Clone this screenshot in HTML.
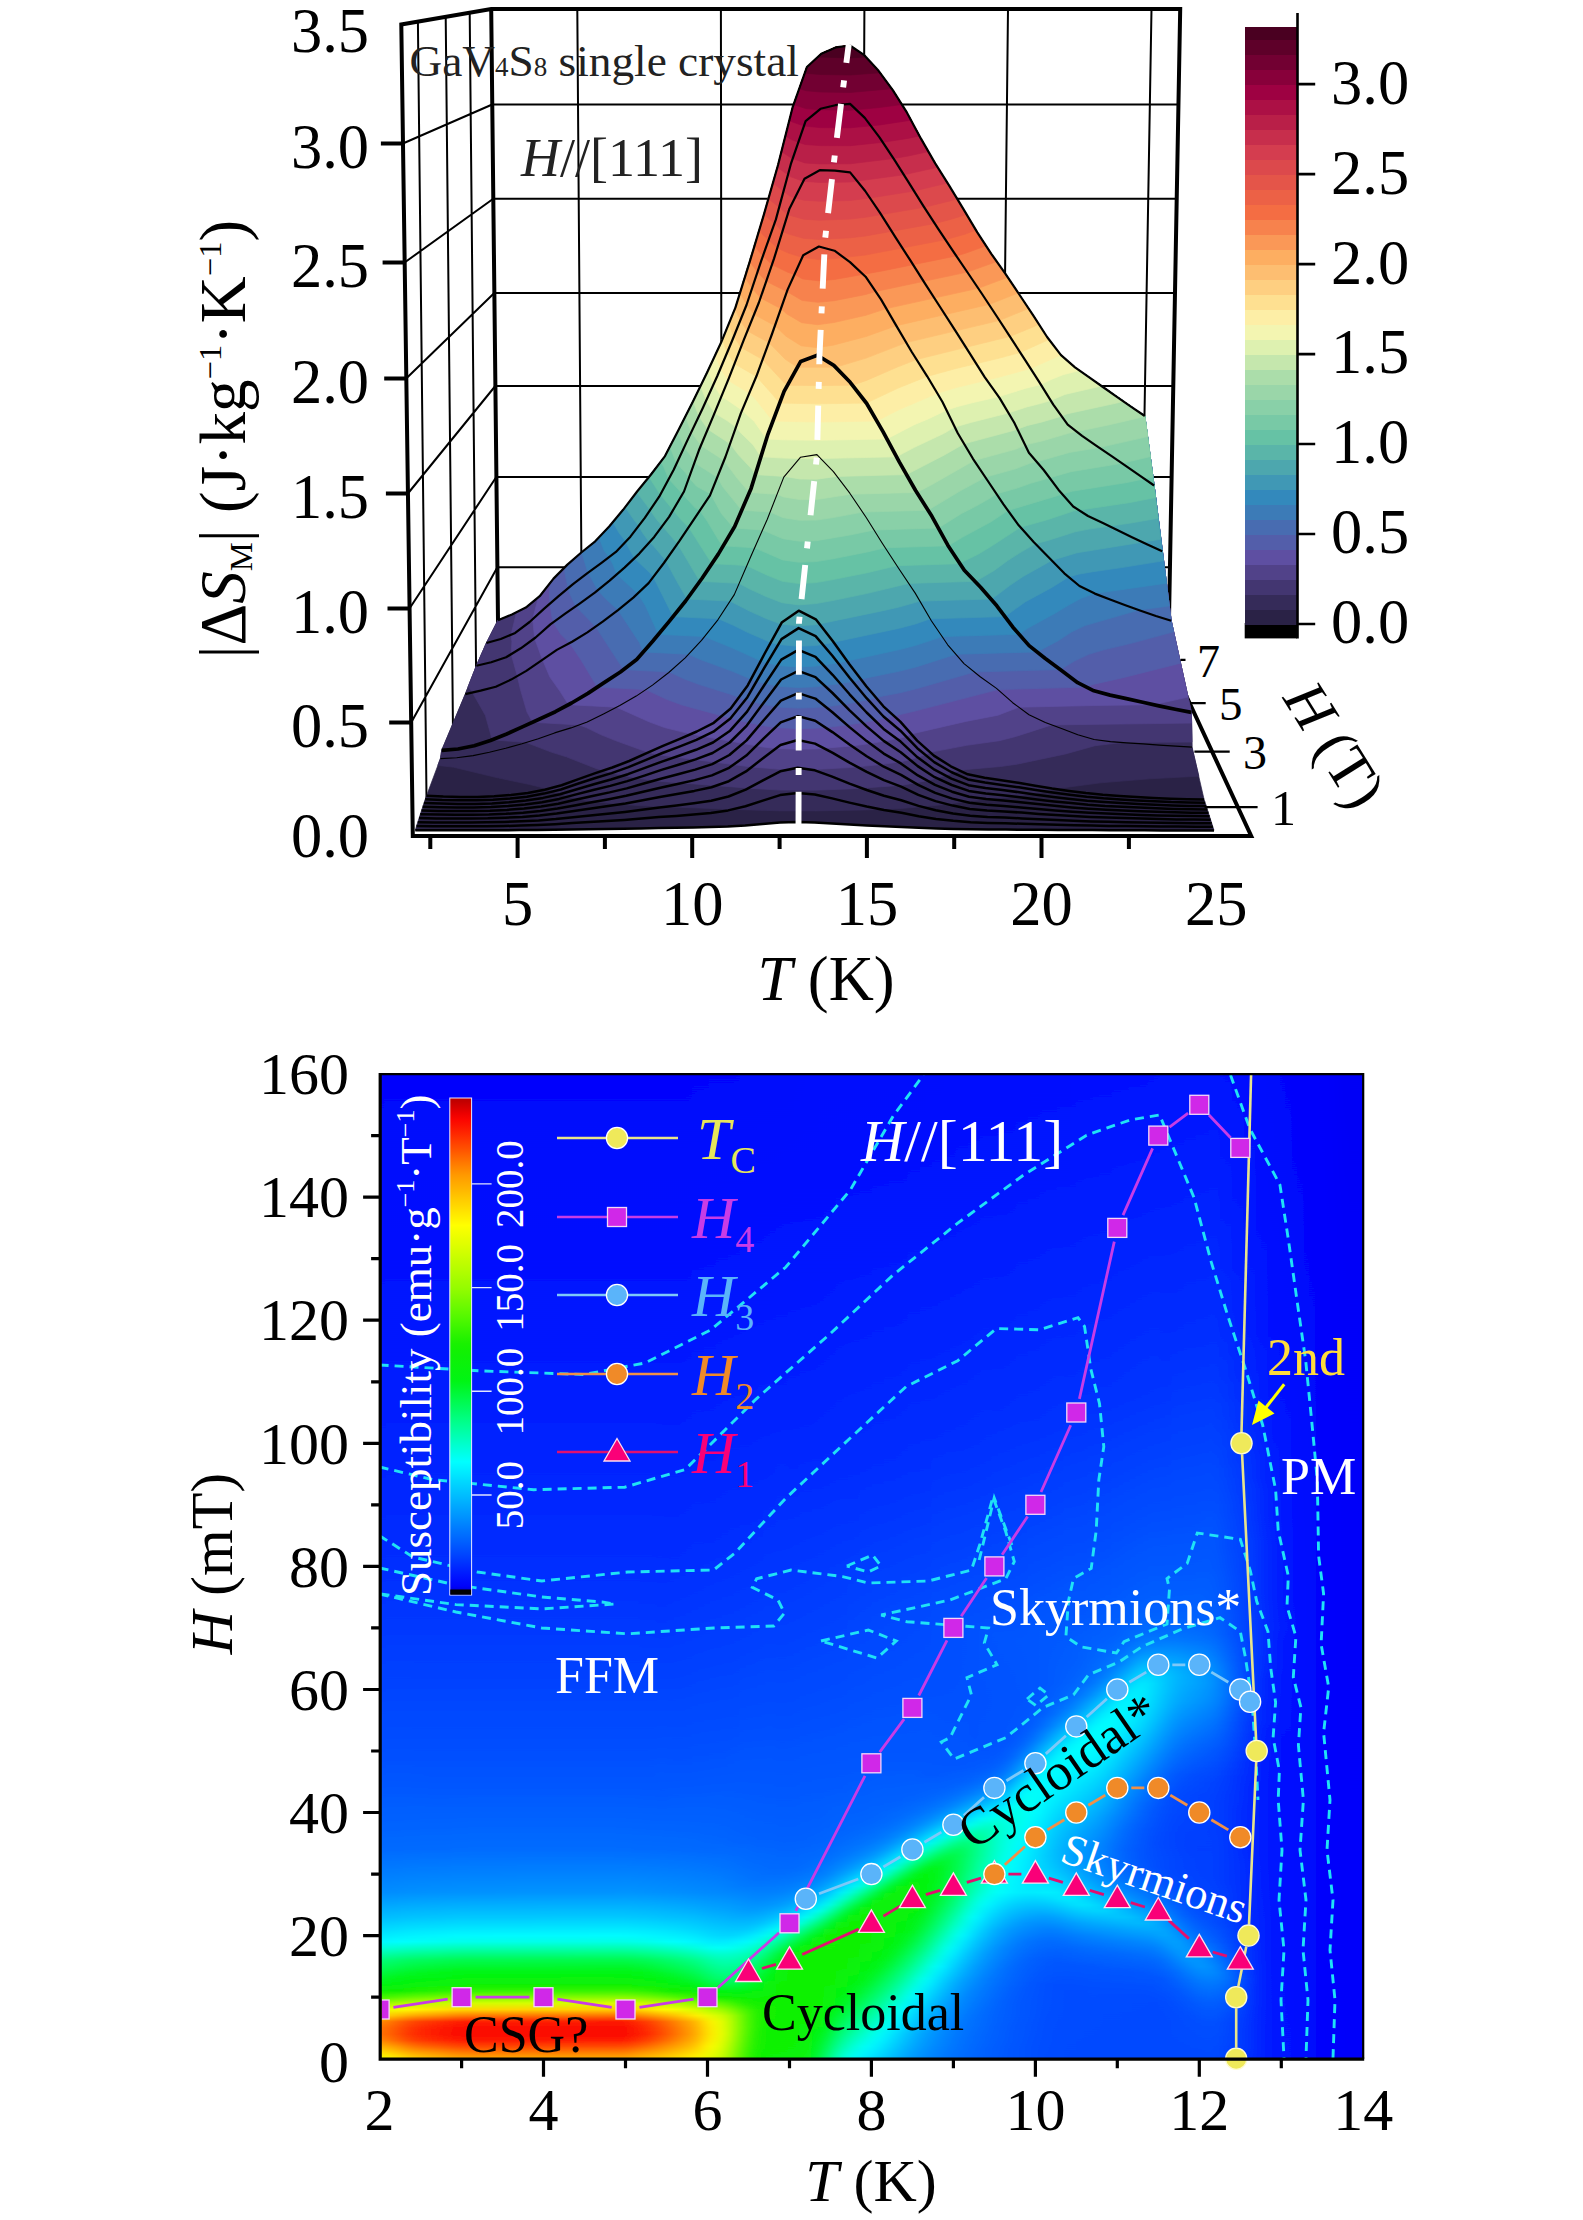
<!DOCTYPE html>
<html><head><meta charset="utf-8"><title>Figure</title>
<style>html,body{margin:0;padding:0;background:#fff}svg{display:block}text{font-family:"Liberation Serif","Times New Roman",serif}</style></head><body>
<svg width="1583" height="2220" viewBox="0 0 1583 2220">
<rect width="1583" height="2220" fill="#fff"/>
<defs><clipPath id="hc2"><rect x="381.5" y="1060" width="1000" height="1012"/></clipPath></defs>
<g id="top">
<path d="M577.3 9L582.1 657M720.9 9L721.7 657M864.4 9L861.2 657M1008.0 9L1000.8 657M1151.5 9L1140.3 657M497.4 567.3L1170.0 567.3M411.2 722.5L497.4 567.3M496.3 477.0L1171.7 477.0M409.5 608.5L496.3 477.0M495.3 386.0L1173.4 386.0M407.9 493.5L495.3 386.0M494.3 293.0L1175.1 293.0M406.2 378.5L494.3 293.0M493.3 198.7L1176.8 198.7M404.6 262.5L493.3 198.7M492.2 104.5L1178.5 104.5M402.9 143.5L492.2 104.5M417.9 21.6L426.6 807.2M445.7 16.8L453.2 751.6M469.7 12.7L476.4 703.1" fill="none" stroke="#000" stroke-width="2"/>
<path d="M412.8 836.0L401.3 24.5L491.2 9.0L1180.2 9.0L1168.3 657.0 M491.2 9.0L498.4 657.0 M410.8 836.0L1251.2 836.0L1168.3 657.0" fill="none" stroke="#000" stroke-width="4" stroke-linejoin="miter"/>
<g stroke-width="0.7" stroke-linejoin="round" fill-rule="evenodd">
<path d="M415.3 830.3L536.8 830.0L693.1 827.4L727.8 826.4L779.9 822.6L797.3 822.1L814.7 822.5L918.8 827.8L970.9 829.3L1214.0 830.3L1204.1 799.5L1192.0 747.1L1191.4 712.4L1171.2 620.7L1154.1 485.5L1144.8 416.0L1075.0 367.3L1061.0 355.1L1047.1 337.0L1033.2 315.3L1005.3 273.6L991.3 253.8L977.3 232.4L949.2 185.7L935.2 163.4L921.1 138.9L907.0 112.7L892.8 90.1L878.6 70.8L864.3 55.2L850.0 45.5L835.7 47.4L821.3 53.7L806.9 67.0L792.5 107.7L778.1 164.8L763.8 214.9L735.4 307.7L721.2 342.3L707.1 372.4L693.1 401.2L665.0 456.1L623.1 509.8L609.2 526.5L595.2 541.3L567.4 564.6L553.5 578.6L539.7 596.2L525.8 607.6L511.9 614.5L498.0 620.2L486.4 643.0L476.4 665.7L465.3 694.1L441.7 750.3L440.4 758.6L425.2 799.3L416.5 826.1Z" fill="#2a2246" stroke="#2a2246"/>
<path d="M732.5 809.4L780.0 810.9L814.7 810.9L866.7 809.9L901.3 808.5L947.6 804.3L969.4 800.9L1019.8 796.0L1045.4 791.5L1054.7 788.9L1100.9 782.8L1149.8 778.8L1198.8 776.2L1192.0 747.1L1191.4 712.4L1171.2 620.7L1154.1 485.5L1144.8 416.0L1075.0 367.3L1061.0 355.1L1047.1 337.0L1033.2 315.3L1005.3 273.6L991.3 253.8L977.3 232.4L949.2 185.7L935.2 163.4L921.1 138.9L907.0 112.7L892.8 90.1L878.6 70.8L864.3 55.2L850.0 45.5L835.7 47.4L821.3 53.7L806.9 67.0L792.5 107.7L778.1 164.8L763.8 214.9L735.4 307.7L721.2 342.3L707.1 372.4L693.1 401.2L665.0 456.1L623.1 509.8L609.2 526.5L595.2 541.3L567.4 564.6L553.5 578.6L539.7 596.2L525.8 607.6L511.9 614.5L498.0 620.2L486.4 643.0L476.4 665.7L465.3 694.1L441.7 750.3L440.4 758.6L437.8 765.4L453.5 767.2L498.4 778.0L529.5 784.5L547.5 788.9L552.6 791.5L567.8 796.6L578.4 799.2L591.9 801.4L619.8 804.3L642.3 805.8L728.2 809.2Z" fill="#352b59" stroke="#352b59"/>
<path d="M748.6 788.2L780.2 790.1L814.8 790.2L849.4 788.9L901.1 785.4L927.3 780.7L945.8 775.6L959.9 770.6L967.5 769.4L1000.7 766.5L1017.1 764.2L1064.6 754.2L1095.1 745.7L1121.9 742.5L1192.0 742.1L1191.4 712.4L1171.2 620.7L1154.1 485.5L1144.8 416.0L1075.0 367.3L1061.0 355.1L1047.1 337.0L1033.2 315.3L1005.3 273.6L991.3 253.8L977.3 232.4L949.2 185.7L935.2 163.4L921.1 138.9L907.0 112.7L892.8 90.1L878.6 70.8L864.3 55.2L850.0 45.5L835.7 47.4L821.3 53.7L806.9 67.0L792.5 107.7L778.1 164.8L763.8 214.9L735.4 307.7L721.2 342.3L707.1 372.4L693.1 401.2L665.0 456.1L623.1 509.8L609.2 526.5L595.2 541.3L567.4 564.6L553.5 578.6L539.7 596.2L525.8 607.6L511.9 614.5L498.0 620.2L486.4 643.0L476.4 665.7L468.2 686.6L472.4 692.5L485.4 715.4L492.2 739.8L526.3 742.5L551.2 752.1L566.2 756.8L596.0 768.5L611.3 773.1L636.4 778.1L660.8 781.4L745.8 787.9Z" fill="#433671" stroke="#433671"/>
<path d="M789.3 769.5L814.9 769.4L849.5 767.6L880.4 764.6L900.8 761.8L909.9 759.7L925.3 754.8L930.3 752.4L933.9 751.6L966.7 745.3L999.4 740.7L1015.1 736.7L1051.8 724.9L1191.6 723.1L1191.4 712.4L1171.2 620.7L1154.1 485.5L1144.8 416.0L1075.0 367.3L1061.0 355.1L1047.1 337.0L1033.2 315.3L1005.3 273.6L991.3 253.8L977.3 232.4L949.2 185.7L935.2 163.4L921.1 138.9L907.0 112.7L892.8 90.1L878.6 70.8L864.3 55.2L850.0 45.5L835.7 47.4L821.3 53.7L806.9 67.0L792.5 107.7L778.1 164.8L763.8 214.9L735.4 307.7L721.2 342.3L707.1 372.4L693.1 401.2L665.0 456.1L623.1 509.8L609.2 526.5L595.2 541.3L567.4 564.6L553.5 578.6L539.7 596.2L525.8 607.6L516.6 612.1L511.1 634.6L511.9 641.8L511.2 654.2L517.3 676.0L520.5 689.8L527.0 712.1L532.6 722.3L579.3 724.9L586.3 727.6L600.6 734.6L615.5 740.6L646.2 751.7L658.2 754.8L751.6 767.0L780.3 769.3Z" fill="#514289" stroke="#514289"/>
<path d="M776.0 748.4L797.7 749.2L815.0 748.9L849.5 746.2L870.1 743.6L900.5 738.1L906.0 736.5L911.3 734.1L917.0 732.7L965.9 721.4L998.0 715.2L1018.8 707.2L1093.9 705.5L1153.6 704.7L1188.0 697.1L1171.2 620.7L1154.1 485.5L1144.8 416.0L1075.0 367.3L1061.0 355.1L1047.1 337.0L1033.2 315.3L1005.3 273.6L991.3 253.8L977.3 232.4L949.2 185.7L935.2 163.4L921.1 138.9L907.0 112.7L892.8 90.1L878.6 70.8L864.3 55.2L850.0 45.5L835.7 47.4L821.3 53.7L806.9 67.0L792.5 107.7L778.1 164.8L763.8 214.9L735.4 307.7L721.2 342.3L707.1 372.4L693.1 401.2L665.0 456.1L623.1 509.8L609.2 526.5L595.2 541.3L567.4 564.6L553.5 578.6L538.4 597.2L532.7 619.1L534.6 638.2L542.0 658.5L549.9 677.1L560.2 691.6L568.5 704.7L616.5 707.2L649.0 721.8L664.4 727.5L690.9 734.1L763.4 747.1Z" fill="#5e4fa2" stroke="#5e4fa2"/>
<path d="M775.4 727.4L797.9 728.7L815.1 728.2L832.4 726.8L862.8 722.8L885.5 718.1L916.7 710.6L997.9 689.6L1086.5 687.1L1093.0 684.4L1122.9 677.7L1180.4 663.2L1171.2 620.7L1154.1 485.5L1144.8 416.0L1075.0 367.3L1061.0 355.1L1047.1 337.0L1033.2 315.3L1005.3 273.6L991.3 253.8L977.3 232.4L949.2 185.7L935.2 163.4L921.1 138.9L907.0 112.7L892.8 90.1L878.6 70.8L864.3 55.2L850.0 45.5L835.7 47.4L821.3 53.7L806.9 67.0L792.5 107.7L778.1 164.8L763.8 214.9L735.4 307.7L721.2 342.3L707.1 372.4L693.1 401.2L665.0 456.1L623.1 509.8L609.2 526.5L595.2 541.3L567.4 564.6L553.5 578.6L550.6 582.2L549.3 591.6L549.9 603.7L552.1 618.1L553.3 622.3L560.5 634.0L569.6 643.1L571.2 645.4L581.2 660.3L597.3 687.1L645.9 689.6L666.6 699.3L682.1 705.0L739.2 720.5L763.7 725.8Z" fill="#535eaa" stroke="#535eaa"/>
<path d="M775.7 706.6L780.9 707.3L798.0 708.1L815.2 707.5L832.5 705.9L849.6 703.4L868.0 699.8L883.4 695.9L900.0 692.8L916.5 688.7L974.3 672.0L1060.4 669.6L1074.9 660.8L1088.8 654.3L1103.1 650.0L1132.0 643.1L1173.7 631.8L1171.2 620.7L1154.1 485.5L1144.8 416.0L1075.0 367.3L1061.0 355.1L1047.1 337.0L1033.2 315.3L1005.3 273.6L991.3 253.8L977.3 232.4L949.2 185.7L935.2 163.4L921.1 138.9L907.0 112.7L892.8 90.1L878.6 70.8L864.3 55.2L850.0 45.5L835.7 47.4L821.3 53.7L806.9 67.0L792.5 107.7L778.1 164.8L763.8 214.9L735.4 307.7L721.2 342.3L707.1 372.4L693.1 401.2L665.0 456.1L623.1 509.8L609.2 526.5L595.2 541.3L581.3 552.5L564.7 567.3L564.9 573.0L568.1 588.2L570.1 594.5L575.8 606.3L595.6 626.6L623.5 669.6L669.4 672.0L683.8 678.7L699.2 684.5L731.1 694.4L745.3 699.8L763.9 704.6Z" fill="#486cb1" stroke="#486cb1"/>
<path d="M776.4 685.8L781.0 686.5L798.2 687.5L815.4 686.8L840.2 683.6L852.6 681.4L866.5 677.9L899.8 671.1L916.2 666.9L955.9 654.3L1037.0 651.9L1058.2 640.7L1071.3 632.1L1084.9 625.6L1138.6 610.1L1169.3 605.9L1154.1 485.5L1144.8 416.0L1075.0 367.3L1061.0 355.1L1047.1 337.0L1033.2 315.3L1005.3 273.6L991.3 253.8L977.3 232.4L949.2 185.7L935.2 163.4L921.1 138.9L907.0 112.7L892.8 90.1L878.6 70.8L864.3 55.2L850.0 45.5L835.7 47.4L821.3 53.7L806.9 67.0L792.5 107.7L778.1 164.8L763.8 214.9L735.4 307.7L721.2 342.3L707.1 372.4L693.1 401.2L665.0 456.1L623.1 509.8L609.2 526.5L595.2 541.3L581.7 552.2L587.5 571.4L597.8 590.3L606.4 599.4L618.0 610.1L639.4 642.5L643.3 651.9L688.5 654.3L700.5 659.6L731.9 671.1L756.5 681.4L765.3 683.6Z" fill="#3c7bb7" stroke="#3c7bb7"/>
<path d="M777.6 665.1L781.2 665.8L798.3 666.9L815.5 666.1L838.0 663.0L899.7 649.5L915.9 645.3L942.1 636.6L1019.1 634.3L1027.6 628.3L1055.1 613.2L1068.2 605.3L1081.2 598.2L1094.5 593.5L1166.4 583.2L1154.1 485.5L1144.8 416.0L1075.0 367.3L1061.0 355.1L1047.1 337.0L1033.2 315.3L1005.3 273.6L991.3 253.8L977.3 232.4L949.2 185.7L935.2 163.4L921.1 138.9L907.0 112.7L892.8 90.1L878.6 70.8L864.3 55.2L850.0 45.5L835.7 47.4L821.3 53.7L806.9 67.0L792.5 107.7L778.1 164.8L763.8 214.9L749.6 262.2L735.4 307.7L721.2 342.3L693.1 401.2L665.0 456.1L623.1 509.8L609.2 526.5L599.1 537.2L604.0 550.4L609.1 557.0L613.1 564.8L616.9 574.2L637.7 593.5L645.2 605.2L658.5 634.3L704.6 636.6L732.6 648.1L760.7 660.8L767.2 663.0Z" fill="#3389bc" stroke="#3389bc"/>
<path d="M778.3 644.5L798.5 646.3L815.6 645.5L822.9 644.5L899.5 628.2L915.6 623.9L930.2 618.8L1004.9 616.6L1025.2 601.9L1052.3 587.2L1068.6 576.9L1078.6 574.2L1092.9 571.7L1121.6 567.6L1163.4 560.8L1154.1 485.5L1144.8 416.0L1075.0 367.3L1061.0 355.1L1047.1 337.0L1033.2 315.3L1005.3 273.6L991.3 253.8L977.3 232.4L949.2 185.7L935.2 163.4L921.1 138.9L907.0 112.7L892.8 90.1L878.6 70.8L864.3 55.2L850.0 45.5L835.7 47.4L821.3 53.7L806.9 67.0L792.5 107.7L778.1 164.8L763.8 214.9L749.6 262.2L735.4 307.7L721.2 342.3L693.1 401.2L665.0 456.1L623.1 509.8L612.8 522.1L619.1 533.0L625.8 541.4L628.3 547.2L634.4 558.2L649.8 572.8L653.3 576.9L673.1 616.6L718.5 618.8L733.3 625.3L748.9 633.0L770.7 642.4Z" fill="#4098b5" stroke="#4098b5"/>
<path d="M780.9 624.1L798.6 625.8L815.7 624.7L882.9 610.7L899.3 607.0L919.9 601.1L990.8 599.0L996.1 595.8L1009.6 585.6L1023.0 576.5L1051.7 560.4L1076.9 552.8L1160.7 539.2L1144.8 416.0L1075.0 367.3L1061.0 355.1L1047.1 337.0L1033.2 315.3L1005.3 273.6L991.3 253.8L977.3 232.4L949.2 185.7L935.2 163.4L921.1 138.9L907.0 112.7L892.8 90.1L878.6 70.8L864.3 55.2L850.0 45.5L835.7 47.4L821.3 53.7L806.9 67.0L792.5 107.7L778.1 164.8L763.8 214.9L749.6 262.2L735.4 307.7L721.2 342.3L693.1 401.2L665.0 456.1L625.2 507.1L633.0 518.5L638.6 525.8L642.5 532.7L649.5 542.2L653.2 545.6L665.8 560.4L674.8 577.6L687.0 599.0L730.1 601.1L749.4 611.0L765.3 618.2Z" fill="#4da7ae" stroke="#4da7ae"/>
<path d="M739.2 583.4L750.0 589.2L765.8 596.4L782.0 602.7L798.8 604.9L815.9 603.6L832.9 600.5L866.4 593.6L908.7 583.4L974.8 581.3L980.1 578.8L994.3 570.4L1007.7 560.6L1021.0 552.1L1035.4 543.8L1048.1 540.4L1075.2 531.8L1089.1 529.1L1131.1 523.0L1158.2 518.2L1144.8 416.0L1075.0 367.3L1061.0 355.1L1047.1 337.0L1033.2 315.3L1005.3 273.6L991.3 253.8L977.3 232.4L949.2 185.7L935.2 163.4L921.1 138.9L907.0 112.7L892.8 90.1L878.6 70.8L864.3 55.2L850.0 45.5L835.7 47.4L821.3 53.7L806.9 67.0L792.5 107.7L778.1 164.8L763.8 214.9L735.4 307.7L721.2 342.3L707.1 372.4L693.1 401.2L665.0 456.1L651.0 474.5L636.6 492.1L646.6 505.1L656.4 519.2L677.5 543.8L699.8 581.3L734.4 583.1Z" fill="#5ab5a9" stroke="#5ab5a9"/>
<path d="M746.9 565.7L766.2 574.8L782.3 581.3L799.0 583.6L816.0 582.6L833.0 579.6L866.3 572.9L896.9 565.7L959.9 563.7L963.9 561.2L978.6 554.0L992.5 545.5L1020.4 527.3L1046.8 519.9L1073.5 511.0L1129.1 502.7L1155.6 497.5L1144.8 416.0L1075.0 367.3L1061.0 355.1L1047.1 337.0L1033.2 315.3L1005.3 273.6L991.3 253.8L977.3 232.4L949.2 185.7L935.2 163.4L921.1 138.9L907.0 112.7L892.8 90.1L878.6 70.8L864.3 55.2L850.0 45.5L835.7 47.4L821.3 53.7L806.9 67.0L792.5 107.7L778.1 164.8L763.8 214.9L735.4 307.7L721.2 342.3L707.1 372.4L679.0 428.9L665.0 456.1L649.0 477.0L660.3 494.7L681.3 519.9L688.7 527.3L711.9 563.7L734.5 564.8Z" fill="#66c2a5" stroke="#66c2a5"/>
<path d="M754.6 547.8L782.6 559.9L799.3 562.3L816.2 561.6L833.0 558.8L866.3 552.2L885.2 547.8L948.2 545.8L962.7 537.1L991.0 521.8L1007.9 510.6L1072.2 491.2L1127.1 482.5L1153.0 477.0L1144.8 416.0L1075.0 367.3L1061.0 355.1L1047.1 337.0L1033.2 315.3L1005.3 273.6L991.3 253.8L977.3 232.4L949.2 185.7L935.2 163.4L921.1 138.9L907.0 112.7L892.8 90.1L878.6 70.8L864.3 55.2L850.0 45.5L835.7 47.4L821.3 53.7L806.9 67.0L792.5 107.7L778.1 164.8L763.8 214.9L735.4 307.7L721.2 342.3L707.1 372.4L693.1 401.2L665.0 456.1L660.7 461.8L663.5 466.5L668.8 479.0L695.3 508.1L699.9 510.6L707.5 521.6L719.2 541.1L723.1 545.8L750.8 547.6Z" fill="#78c9a6" stroke="#78c9a6"/>
<path d="M762.5 530.0L782.9 538.7L799.5 541.2L816.3 540.7L849.8 535.0L874.0 530.0L938.4 528.0L961.5 513.5L975.7 506.3L989.4 498.5L996.5 493.9L1017.1 488.1L1030.6 483.3L1070.9 471.7L1121.9 463.3L1150.4 456.6L1144.8 416.0L1075.0 367.3L1061.0 355.1L1047.1 337.0L1033.2 315.3L1005.3 273.6L991.3 253.8L977.3 232.4L949.2 185.7L935.2 163.4L921.1 138.9L907.0 112.7L892.8 90.1L878.6 70.8L864.3 55.2L850.0 45.5L835.7 47.4L821.3 53.7L806.9 67.0L792.5 107.7L778.1 164.8L763.8 214.9L735.4 307.7L721.2 342.3L707.1 372.4L669.9 446.7L676.7 463.3L685.4 472.6L688.9 477.7L696.6 486.3L710.6 493.9L721.3 513.4L733.7 528.0L750.9 529.2Z" fill="#89d0a8" stroke="#89d0a8"/>
<path d="M770.1 512.1L783.2 517.7L799.7 520.3L816.5 520.1L833.2 517.6L862.6 512.1L928.1 510.2L960.4 490.8L985.4 477.2L1016.3 468.6L1029.5 463.4L1043.2 460.0L1069.6 452.4L1099.0 447.6L1147.8 436.6L1144.8 416.0L1075.0 367.3L1061.0 355.1L1047.1 337.0L1033.2 315.3L1005.3 273.6L991.3 253.8L977.3 232.4L949.2 185.7L935.2 163.4L921.1 138.9L907.0 112.7L892.8 90.1L878.6 70.8L864.3 55.2L850.0 45.5L835.7 47.4L821.3 53.7L806.9 67.0L792.5 107.7L778.1 164.8L763.8 214.9L735.4 307.7L721.2 342.3L707.1 372.4L677.7 431.5L684.0 447.6L687.2 450.9L694.8 461.6L697.9 464.9L717.3 477.2L723.2 487.4L741.7 510.2L767.3 511.9Z" fill="#9ad6a9" stroke="#9ad6a9"/>
<path d="M777.1 494.2L783.5 496.9L799.9 499.6L816.6 499.5L850.6 494.2L916.9 492.4L930.8 485.2L974.1 460.5L1015.4 449.3L1028.5 444.1L1042.2 441.0L1068.3 433.3L1107.5 425.2L1144.9 416.5L1075.0 367.3L1061.0 355.1L1047.1 337.0L1033.2 315.3L1005.3 273.6L991.3 253.8L977.3 232.4L949.2 185.7L935.2 163.4L921.1 138.9L907.0 112.7L892.8 90.1L878.6 70.8L864.3 55.2L850.0 45.5L835.7 47.4L821.3 53.7L806.9 67.0L792.5 107.7L778.1 164.8L763.8 214.9L735.4 307.7L721.2 342.3L707.1 372.4L685.4 416.3L691.4 431.9L700.9 445.4L724.0 460.5L737.4 478.5L749.3 492.4L767.4 493.7Z" fill="#abddaa" stroke="#abddaa"/>
<path d="M784.4 476.4L800.1 479.0L816.7 479.2L837.1 476.4L906.5 474.6L944.5 454.9L964.0 443.8L1014.6 430.2L1027.7 425.4L1041.2 422.2L1061.6 416.2L1066.7 413.9L1117.8 402.8L1123.1 401.2L1075.0 367.3L1061.0 355.1L1047.1 337.0L1033.2 315.3L1005.3 273.6L991.3 253.8L977.3 232.4L949.2 185.7L935.2 163.4L921.1 138.9L907.0 112.7L892.8 90.1L878.6 70.8L864.3 55.2L850.0 45.5L835.7 47.4L821.3 53.7L806.9 67.0L792.5 107.7L778.1 164.8L763.8 214.9L735.4 307.7L721.2 342.3L693.1 401.2L698.9 416.2L707.8 429.2L730.1 443.8L738.6 455.0L752.0 469.3L755.4 474.6L783.8 476.4Z" fill="#c5e7ad" stroke="#c5e7ad"/>
<path d="M799.4 458.5L816.9 459.0L820.7 458.5L896.5 456.8L914.4 447.3L943.7 433.5L954.7 427.1L971.9 422.2L1008.4 413.0L1026.8 406.9L1040.2 403.6L1050.7 400.5L1064.9 394.4L1101.5 386.0L1075.0 367.3L1061.0 355.1L1047.1 337.0L1033.2 315.3L1005.3 273.6L991.3 253.8L977.3 232.4L949.2 185.7L935.2 163.4L921.1 138.9L907.0 112.7L892.8 90.1L878.6 70.8L864.3 55.2L850.0 45.5L835.7 47.4L821.3 53.7L806.9 67.0L792.5 107.7L778.1 164.8L763.8 214.9L735.4 307.7L721.2 342.3L700.6 386.0L706.3 400.5L714.6 413.0L727.0 420.6L736.0 427.1L739.9 432.0L753.2 444.9L760.9 456.8L783.9 458.1Z" fill="#def1b0" stroke="#def1b0"/>
<path d="M766.4 438.9L784.0 439.8L817.0 440.3L886.9 438.9L913.8 424.9L928.6 418.7L946.5 410.2L957.1 406.7L971.3 403.0L999.5 396.4L1026.0 388.2L1040.8 384.5L1051.1 379.5L1063.0 374.7L1079.5 370.5L1075.0 367.3L1061.0 355.1L1047.1 337.0L1033.2 315.3L1005.3 273.6L991.3 253.8L977.3 232.4L949.2 185.7L935.2 163.4L921.1 138.9L907.0 112.7L892.8 90.1L878.6 70.8L864.3 55.2L850.0 45.5L835.7 47.4L821.3 53.7L806.9 67.0L792.5 107.7L778.1 164.8L763.8 214.9L735.4 307.7L721.2 342.3L708.1 370.5L713.5 384.5L721.3 396.6L727.9 400.4L742.1 410.2L754.3 421.5Z" fill="#f3f5b1" stroke="#f3f5b1"/>
<path d="M772.9 421.0L817.0 422.1L876.9 421.0L898.2 410.1L937.3 393.3L956.5 387.5L998.6 377.3L1030.5 368.5L1060.9 355.0L1047.1 337.0L1033.2 315.3L1005.3 273.6L991.3 253.8L977.3 232.4L949.2 185.7L935.2 163.4L921.1 138.9L907.0 112.7L892.8 90.1L878.6 70.8L864.3 55.2L850.0 45.5L835.7 47.4L821.3 53.7L806.9 67.0L792.5 107.7L778.1 164.8L763.8 214.9L735.4 307.7L721.2 342.3L715.3 355.0L720.4 368.5L728.1 380.2L749.2 393.3L755.3 398.8L768.4 415.5Z" fill="#fdeea6" stroke="#fdeea6"/>
<path d="M779.7 403.1L817.1 403.8L866.3 403.1L897.7 388.3L927.2 376.4L956.0 368.5L997.8 358.5L1020.2 352.5L1049.0 339.5L977.3 232.4L949.2 185.7L935.2 163.4L921.1 138.9L907.0 112.7L892.8 90.1L878.6 70.8L864.3 55.2L850.0 45.5L835.7 47.4L821.3 53.7L806.9 67.0L792.5 107.7L778.1 164.8L763.8 214.9L749.6 262.2L735.4 307.7L722.4 339.5L727.1 352.5L734.5 363.8L756.4 376.4L769.5 391.1Z" fill="#fee091" stroke="#fee091"/>
<path d="M787.5 385.2L817.2 385.6L852.4 385.2L866.5 380.4L897.3 367.1L916.6 359.5L1009.8 336.5L1034.3 326.4L1038.8 324.0L977.3 232.4L949.2 185.7L935.2 163.4L921.1 138.9L907.0 112.7L892.8 90.1L878.6 70.8L864.3 55.2L850.0 45.5L835.7 47.4L821.3 53.7L806.9 67.0L792.5 107.7L778.1 164.8L763.8 214.9L749.6 262.2L735.4 307.7L728.7 324.0L733.8 336.5L740.9 347.3L762.6 359.5L784.4 383.0Z" fill="#fecf81" stroke="#fecf81"/>
<path d="M797.4 367.3L835.6 367.3L866.2 358.1L906.3 342.6L999.4 320.5L1028.6 308.5L1005.3 273.6L991.3 253.8L977.3 232.4L949.2 185.7L935.2 163.4L921.1 138.9L907.0 112.7L892.8 90.1L878.6 70.8L864.3 55.2L850.0 45.5L835.7 47.4L821.3 53.7L806.9 67.0L792.5 107.7L778.1 164.8L763.8 214.9L735.1 308.5L740.2 320.5L747.4 330.9L768.8 342.6L785.2 359.2Z" fill="#fdbe71" stroke="#fdbe71"/>
<path d="M774.9 325.7L786.0 336.2L801.1 345.8L817.4 347.7L833.9 345.0L866.1 336.5L896.3 325.7L988.9 304.5L1018.2 293.0L991.3 253.8L977.3 232.4L949.2 185.7L935.2 163.4L921.1 138.9L907.0 112.7L892.8 90.1L878.6 70.8L864.3 55.2L850.0 45.5L835.7 47.4L821.3 53.7L806.9 67.0L792.5 107.7L778.1 164.8L763.8 214.9L740.0 293.0L746.5 304.3L754.1 314.5L772.2 324.2Z" fill="#fdae61" stroke="#fdae61"/>
<path d="M780.9 308.6L786.8 313.9L801.7 322.7L817.7 324.7L834.0 322.5L865.9 315.3L886.4 308.6L978.3 288.3L1007.7 277.3L991.3 253.8L977.3 232.4L949.2 185.7L935.2 163.4L921.1 138.9L907.0 112.7L892.8 90.1L878.6 70.8L864.3 55.2L850.0 45.5L835.7 47.4L821.3 53.7L806.9 67.0L792.5 107.7L778.1 164.8L763.8 214.9L744.9 277.3L752.1 288.3L760.5 297.9L772.8 304.4Z" fill="#fa9857" stroke="#fa9857"/>
<path d="M786.9 291.5L802.2 300.5L818.1 302.3L834.2 300.7L865.7 294.5L875.6 291.5L967.4 272.1L996.8 261.6L977.3 232.4L949.2 185.7L935.2 163.4L921.1 138.9L907.0 112.7L892.8 90.1L878.6 70.8L864.3 55.2L850.0 45.5L835.7 47.4L821.3 53.7L806.9 67.0L792.5 107.7L778.1 164.8L763.8 214.9L749.7 261.6L757.4 272.1L766.2 281.3L773.3 284.8Z" fill="#f7824d" stroke="#f7824d"/>
<path d="M794.5 274.4L802.7 278.9L818.4 280.8L834.3 279.5L880.8 271.2L956.3 255.9L965.9 253.1L986.1 245.8L977.3 232.4L949.2 185.7L935.2 163.4L921.1 138.9L907.0 112.7L892.8 90.1L878.6 70.8L864.3 55.2L850.0 45.5L835.7 47.4L821.3 53.7L806.9 67.0L792.5 107.7L778.1 164.8L754.5 245.8L761.5 254.6L771.9 264.6L787.9 272.3Z" fill="#f46d43" stroke="#f46d43"/>
<path d="M802.3 257.3L818.7 259.6L834.4 258.6L865.5 255.0L945.5 239.7L964.9 234.2L976.0 230.1L949.2 185.7L935.2 163.4L921.1 138.9L907.0 112.7L892.8 90.1L878.6 70.8L864.3 55.2L850.0 45.5L835.7 47.4L821.3 53.7L806.9 67.0L792.5 107.7L778.1 164.8L759.2 230.1L762.6 234.4L777.3 248.0L788.3 253.1Z" fill="#ec6146" stroke="#ec6146"/>
<path d="M782.4 231.4L788.7 234.1L803.5 238.3L818.9 239.4L850.0 237.8L865.4 236.0L934.8 223.5L951.0 219.3L966.6 214.4L935.2 163.4L921.1 138.9L907.0 112.7L892.8 90.1L878.6 70.8L864.3 55.2L850.0 45.5L835.7 47.4L821.3 53.7L806.9 67.0L792.5 107.7L778.1 164.8L763.9 214.4L775.7 224.5Z" fill="#e45549" stroke="#e45549"/>
<path d="M787.6 214.7L803.8 219.2L819.2 220.2L850.0 219.1L865.3 217.3L924.3 207.3L950.1 200.9L957.1 198.7L935.2 163.4L921.1 138.9L907.0 112.7L892.8 90.1L878.6 70.8L864.3 55.2L850.0 45.5L835.7 47.4L821.3 53.7L806.9 67.0L792.5 107.7L778.1 164.8L768.4 198.7L779.2 207.3Z" fill="#dc494c" stroke="#dc494c"/>
<path d="M794.8 198.0L804.1 200.2L819.4 201.2L850.1 200.5L869.9 198.0L914.1 191.0L947.6 183.0L935.2 163.4L921.1 138.9L907.0 112.7L892.8 90.1L878.6 70.8L864.3 55.2L850.0 45.5L835.7 47.4L821.3 53.7L806.9 67.0L792.5 107.7L778.1 164.8L772.9 183.0L789.7 196.0Z" fill="#d43d4f" stroke="#d43d4f"/>
<path d="M803.2 181.3L819.6 182.4L850.1 182.0L903.8 174.8L937.6 167.3L921.1 138.9L907.0 112.7L892.8 90.1L878.6 70.8L864.3 55.2L850.0 45.5L835.7 47.4L821.3 53.7L806.9 67.0L792.5 107.7L777.4 167.3L790.3 176.6Z" fill="#c72e4c" stroke="#c72e4c"/>
<path d="M792.7 158.5L804.8 162.9L819.8 163.9L850.1 163.8L893.6 158.5L908.1 156.0L928.4 151.6L907.0 112.7L892.8 90.1L878.6 70.8L864.3 55.2L850.0 45.5L835.7 47.4L821.3 53.7L806.9 67.0L792.5 107.7L781.4 151.6L791.0 157.8Z" fill="#b91f48" stroke="#b91f48"/>
<path d="M798.4 142.3L805.2 144.5L820.0 145.6L850.1 145.7L882.8 142.3L907.7 138.4L919.5 135.9L907.0 112.7L892.8 90.1L878.6 70.8L864.3 55.2L850.0 45.5L835.7 47.4L821.3 53.7L806.9 67.0L792.5 107.7L785.4 135.9L791.5 139.6Z" fill="#ac1045" stroke="#ac1045"/>
<path d="M804.0 126.0L820.2 127.6L850.1 127.8L879.3 125.0L911.0 120.2L907.0 112.7L892.8 90.1L878.6 70.8L864.3 55.2L850.0 45.5L835.7 47.4L821.3 53.7L806.9 67.0L792.5 107.7L789.3 120.2L792.0 121.8Z" fill="#9e0142" stroke="#9e0142"/>
<path d="M819.3 109.7L850.1 110.2L879.1 107.5L901.8 104.5L892.8 90.1L878.6 70.8L864.3 55.2L850.0 45.5L835.7 47.4L821.3 53.7L806.9 67.0L793.6 104.5L805.9 108.6Z" fill="#88003a" stroke="#88003a"/>
<path d="M799.2 88.7L806.3 90.8L820.7 92.0L850.1 92.5L891.7 88.7L878.6 70.8L864.3 55.2L850.0 45.5L835.7 47.4L821.3 53.7L806.9 67.0Z" fill="#720032" stroke="#720032"/>
<path d="M804.8 72.8L806.7 73.4L821.0 74.5L850.1 75.0L880.1 72.8L864.3 55.2L850.0 45.5L835.7 47.4L821.3 53.7L806.9 67.0Z" fill="#5e0029" stroke="#5e0029"/>
<path d="M817.7 57.0L850.0 57.9L866.0 57.0L864.3 55.2L850.0 45.5L835.7 47.4L821.3 53.7Z" fill="#4a0021" stroke="#4a0021"/>
</g>
<path d="M415.3 830.3L432.7 830.3L450.0 830.3L467.4 830.3L484.7 830.3L502.1 830.2L519.5 830.1L536.8 830.0L554.2 829.8L571.6 829.5L588.9 829.3L606.3 829.0L623.6 828.7L641.0 828.4L658.4 828.0L675.7 827.7L693.1 827.4L710.5 827.0L727.8 826.4L745.2 825.4L762.6 824.0L779.9 822.6L797.3 822.1L814.7 822.5L832.0 823.4L849.4 824.5L866.7 825.4L884.1 826.3L901.5 827.0L918.8 827.8L936.2 828.5L953.5 829.0L970.9 829.3L988.3 829.5L1005.6 829.6L1023.0 829.7L1040.4 829.8L1057.7 829.9L1075.1 830.0L1092.4 830.1L1109.8 830.2L1127.2 830.3L1144.5 830.3L1161.9 830.4L1179.3 830.4L1196.6 830.4L1214.0 830.4" fill="none" stroke="#000" stroke-width="2.5" stroke-linejoin="round"/>
<path d="M416.5 826.1L433.8 826.2L451.2 826.3L468.5 826.3L485.8 826.2L503.1 826.0L520.4 825.6L537.7 825.0L555.0 824.2L572.3 823.1L589.6 822.0L606.9 821.0L624.2 819.9L641.6 818.5L658.9 817.1L676.2 815.9L693.5 814.6L710.8 813.0L728.1 810.4L745.5 806.3L762.8 800.6L780.1 795.1L797.5 793.0L814.8 794.5L832.1 798.4L849.4 802.6L866.7 806.5L884.0 810.0L901.4 812.8L918.7 816.2L936.0 818.9L953.3 820.8L970.6 822.2L987.9 822.9L1005.2 823.3L1022.5 823.8L1039.8 824.3L1057.1 824.8L1074.4 825.2L1091.7 825.6L1109.0 825.9L1126.3 826.1L1143.6 826.3L1161.0 826.5L1178.3 826.6L1195.6 826.7L1212.9 826.8" fill="none" stroke="#000" stroke-width="2.5" stroke-linejoin="round"/>
<path d="M417.8 822.2L435.0 822.4L452.3 822.5L469.6 822.5L486.8 822.3L504.1 821.9L521.3 821.3L538.6 820.4L555.8 819.1L573.1 817.3L590.3 815.5L607.6 813.8L624.9 811.9L642.1 809.7L659.4 807.4L676.6 805.4L693.9 803.2L711.2 800.7L728.5 796.5L745.7 789.7L763.0 780.3L780.3 771.3L797.6 767.8L814.9 770.3L832.2 776.6L849.5 783.6L866.7 790.0L884.0 795.8L901.2 800.3L918.5 805.9L935.7 810.3L953.0 813.5L970.2 815.8L987.5 816.9L1004.7 817.6L1022.0 818.4L1039.2 819.2L1056.5 820.0L1073.7 820.7L1091.0 821.4L1108.2 821.8L1125.5 822.2L1142.8 822.5L1160.0 822.8L1177.3 823.1L1194.5 823.2L1211.8 823.3" fill="none" stroke="#000" stroke-width="2.5" stroke-linejoin="round"/>
<path d="M419.0 818.1L436.2 818.4L453.4 818.5L470.6 818.5L487.8 818.3L505.1 817.7L522.3 816.9L539.5 815.5L556.7 813.6L573.9 811.0L591.1 808.5L608.3 806.1L625.5 803.4L642.7 800.2L659.9 796.9L677.1 794.0L694.3 790.9L711.5 787.2L728.8 781.2L746.0 771.4L763.3 758.0L780.5 745.0L797.8 740.0L815.0 743.6L832.3 752.7L849.5 762.6L866.7 771.9L883.9 780.2L901.1 786.7L918.3 794.8L935.5 801.1L952.7 805.6L969.8 809.0L987.0 810.5L1004.3 811.5L1021.5 812.6L1038.7 813.9L1055.9 815.0L1073.1 816.0L1090.3 816.9L1107.5 817.6L1124.7 818.1L1141.9 818.6L1159.1 819.0L1176.3 819.4L1193.5 819.6L1210.7 819.7" fill="none" stroke="#000" stroke-width="2.5" stroke-linejoin="round"/>
<path d="M420.2 814.2L437.4 814.6L454.6 814.8L471.7 814.8L488.9 814.5L506.0 813.8L523.2 812.7L540.3 811.0L557.5 808.6L574.6 805.4L591.8 802.2L608.9 799.2L626.1 795.8L643.2 791.7L660.4 787.7L677.6 784.0L694.7 780.1L711.9 775.4L729.1 767.8L746.3 755.6L763.5 738.7L780.7 722.4L798.0 716.1L815.2 720.7L832.4 732.1L849.5 744.5L866.7 756.2L883.8 766.7L901.0 774.8L918.1 784.9L935.2 792.9L952.3 798.6L969.5 802.8L986.6 804.7L1003.8 805.9L1020.9 807.4L1038.1 808.9L1055.2 810.4L1072.4 811.7L1089.5 812.8L1106.7 813.6L1123.8 814.3L1141.0 814.9L1158.1 815.4L1175.3 815.8L1192.4 816.1L1209.6 816.2" fill="none" stroke="#000" stroke-width="2.5" stroke-linejoin="round"/>
<path d="M421.5 810.4L438.6 810.9L455.7 811.1L472.8 811.1L489.9 810.8L507.0 809.9L524.1 808.6L541.2 806.5L558.3 803.7L575.4 799.8L592.5 796.0L609.6 792.4L626.7 788.4L643.8 783.5L660.9 778.7L678.0 774.3L695.2 769.6L712.3 764.1L729.4 755.0L746.6 740.4L763.7 720.2L780.9 700.7L798.1 693.1L815.3 698.6L832.4 712.2L849.5 727.1L866.7 741.1L883.7 753.6L900.8 763.4L917.9 775.4L935.0 784.9L952.0 791.7L969.1 796.8L986.2 799.0L1003.3 800.5L1020.4 802.2L1037.5 804.1L1054.6 805.8L1071.7 807.4L1088.8 808.7L1105.9 809.7L1123.0 810.5L1140.1 811.2L1157.2 811.8L1174.3 812.3L1191.4 812.7L1208.5 812.8" fill="none" stroke="#000" stroke-width="2.5" stroke-linejoin="round"/>
<path d="M422.7 806.7L439.8 807.2L456.8 807.4L473.9 807.5L491.0 807.1L508.0 806.1L525.1 804.6L542.1 802.2L559.1 798.9L576.2 794.4L593.2 790.0L610.3 785.9L627.3 781.1L644.4 775.6L661.4 769.9L678.5 764.8L695.6 759.4L712.6 753.0L729.7 742.5L746.8 725.6L764.0 702.2L781.1 679.5L798.3 670.8L815.4 677.1L832.5 693.0L849.6 710.3L866.6 726.4L883.7 740.9L900.7 752.2L917.7 766.1L934.7 777.2L951.7 785.0L968.8 790.9L985.8 793.4L1002.9 795.2L1019.9 797.2L1036.9 799.4L1054.0 801.4L1071.0 803.1L1088.1 804.7L1105.1 805.9L1122.2 806.7L1139.2 807.6L1156.3 808.3L1173.3 808.9L1190.4 809.3L1207.4 809.4" fill="none" stroke="#000" stroke-width="2.5" stroke-linejoin="round"/>
<path d="M423.9 803.0L441.0 803.6L458.0 803.9L475.0 803.9L492.0 803.4L509.0 802.3L526.0 800.6L543.0 797.9L560.0 794.2L576.9 789.2L593.9 784.2L610.9 779.5L627.9 774.2L644.9 767.9L661.9 761.6L679.0 755.8L696.0 749.8L713.0 742.5L730.1 730.7L747.1 711.6L764.2 685.2L781.3 659.6L798.4 649.8L815.5 656.9L832.6 674.8L849.6 694.3L866.6 712.5L883.6 728.9L900.6 741.6L917.5 757.3L934.5 769.7L951.4 778.6L968.4 785.2L985.4 788.1L1002.4 790.1L1019.4 792.3L1036.4 794.7L1053.4 797.0L1070.3 799.0L1087.3 800.8L1104.3 802.1L1121.3 803.1L1138.3 804.0L1155.3 804.8L1172.3 805.5L1189.3 805.9L1206.3 806.1" fill="none" stroke="#000" stroke-width="2.5" stroke-linejoin="round"/>
<path d="M425.2 799.3L442.2 800.0L459.1 800.2L476.1 800.3L493.0 799.7L510.0 798.5L526.9 796.7L543.9 793.6L560.8 789.5L577.7 783.8L594.6 778.3L611.6 773.1L628.5 767.1L645.5 760.1L662.4 753.0L679.4 746.6L696.4 739.8L713.4 731.7L730.4 718.5L747.4 697.2L764.4 667.7L781.5 639.1L798.6 628.1L815.6 636.1L832.6 656.0L849.6 677.8L866.6 698.2L883.5 716.5L900.4 730.7L917.3 748.2L934.2 762.1L951.1 772.0L968.0 779.4L985.0 782.6L1001.9 784.9L1018.9 787.3L1035.8 790.1L1052.7 792.6L1069.7 794.8L1086.6 796.8L1103.5 798.3L1120.5 799.4L1137.4 800.4L1154.4 801.3L1171.3 802.1L1188.3 802.5L1205.2 802.7" fill="none" stroke="#000" stroke-width="2.5" stroke-linejoin="round"/>
<path d="M426.4 795.8L443.3 796.6L460.3 796.9L477.2 796.9L494.1 796.3L511.0 795.0L527.8 793.0L544.7 789.7L561.6 785.2L578.5 779.1L595.4 773.1L612.3 767.5L629.2 761.0L646.1 753.4L663.0 745.8L679.9 738.8L696.8 731.5L713.8 722.8L730.7 708.5L747.7 685.4L764.7 653.5L781.7 622.6L798.7 610.7L815.8 619.3L832.7 640.9L849.6 664.5L866.5 686.5L883.4 706.3L900.3 721.7L917.1 740.6L933.9 755.6L950.8 766.3L967.7 774.3L984.6 777.8L1001.4 780.2L1018.3 782.8L1035.2 785.8L1052.1 788.6L1069.0 790.9L1085.9 793.1L1102.8 794.7L1119.6 795.9L1136.5 797.0L1153.4 798.0L1170.3 798.8L1187.2 799.3L1204.1 799.5" fill="none" stroke="#000" stroke-width="2.5" stroke-linejoin="round"/>
<path d="M440.4 758.6L456.7 757.7L473.1 755.6L489.4 752.3L505.7 748.3L522.0 743.8L538.3 738.8L554.6 732.9L570.9 727.9L587.2 722.1L603.5 713.9L619.8 705.5L636.2 696.1L652.5 685.1L668.8 672.5L685.2 657.8L701.5 640.4L717.9 619.8L734.3 594.6L750.8 556.5L767.3 519.2L783.8 477.1L800.4 457.3L816.9 454.6L833.4 471.6L849.8 493.2L866.2 517.5L882.6 543.8L898.9 568.7L915.2 593.1L931.5 621.0L947.7 644.8L964.0 663.6L980.2 676.8L996.5 688.4L1012.7 702.7L1029.0 714.8L1045.3 722.4L1061.5 728.5L1077.8 734.7L1094.1 739.5L1110.4 741.6L1126.7 742.9L1143.1 743.9L1159.4 745.1L1175.7 746.1L1192.0 747.1" fill="none" stroke="#000" stroke-width="1.1" stroke-linejoin="round"/>
<path d="M441.7 750.3L458.0 749.0L474.2 745.7L490.4 740.5L506.7 734.0L522.9 726.6L539.1 719.3L555.4 711.7L571.6 703.0L587.9 693.4L604.1 682.6L620.4 672.0L636.7 659.5L652.9 641.0L669.2 621.4L685.6 601.0L701.9 578.5L718.3 554.1L734.7 526.5L751.1 488.4L767.6 435.2L784.1 391.4L800.7 361.4L817.3 355.2L833.8 365.4L850.2 382.3L866.7 403.5L883.0 431.6L899.4 462.1L915.6 490.5L931.9 516.3L948.1 545.7L964.3 570.3L980.6 587.3L996.8 605.8L1012.9 627.2L1029.1 645.6L1045.3 658.5L1061.5 670.4L1077.7 682.7L1093.9 690.8L1110.1 695.1L1126.4 698.6L1142.7 702.3L1158.9 705.9L1175.2 709.2L1191.4 712.4" fill="none" stroke="#000" stroke-width="3.7" stroke-linejoin="round"/>
<path d="M465.3 694.1L480.6 690.6L495.8 686.7L511.1 679.6L526.3 670.9L541.6 660.3L556.8 649.9L572.1 641.7L587.4 632.4L602.7 621.6L618.0 610.1L633.3 597.6L648.6 583.1L663.9 563.0L679.3 541.2L694.6 518.4L710.0 495.3L725.4 457.0L740.9 413.1L756.4 376.3L772.0 334.0L787.6 289.6L803.2 255.2L818.9 246.5L834.5 250.7L850.0 262.1L865.6 276.7L881.0 299.4L896.4 325.9L911.8 352.0L927.2 376.3L942.5 402.0L957.8 433.2L973.0 458.8L988.2 481.5L1003.5 504.4L1018.7 525.3L1033.9 542.3L1049.1 557.7L1064.3 573.3L1079.5 586.0L1094.8 593.6L1110.1 599.5L1125.4 605.2L1140.7 610.8L1155.9 616.0L1171.2 620.7" fill="none" stroke="#000" stroke-width="2.2" stroke-linejoin="round"/>
<path d="M476.4 665.7L491.2 662.3L506.1 657.3L520.8 648.3L535.6 637.5L550.4 624.4L565.2 613.7L580.0 603.4L594.8 592.7L609.6 580.7L624.5 567.6L639.3 553.6L654.2 536.9L669.1 516.9L684.0 491.5L698.9 450.3L713.8 414.9L728.8 378.4L743.8 339.8L758.9 302.5L774.1 258.4L789.3 209.1L804.5 178.7L819.7 170.2L834.9 170.7L850.1 172.4L865.2 191.0L880.2 213.2L895.2 236.8L910.2 260.2L925.2 283.8L940.1 307.0L955.0 330.1L969.9 353.7L984.7 377.1L999.5 397.9L1014.3 422.8L1028.9 452.8L1043.7 470.0L1058.4 489.7L1073.2 506.5L1088.0 516.0L1102.9 523.1L1117.7 530.2L1132.5 537.4L1147.4 544.5L1162.2 551.2" fill="none" stroke="#000" stroke-width="2.2" stroke-linejoin="round"/>
<path d="M486.4 643.0L500.8 639.0L515.2 632.9L529.6 622.0L543.9 608.9L558.3 596.3L572.7 584.3L587.1 573.3L601.5 562.8L615.9 551.9L630.4 536.7L644.8 517.8L659.2 496.7L673.7 469.8L688.2 438.6L702.7 408.3L717.3 376.0L731.9 341.3L746.5 305.0L761.2 260.8L775.9 219.4L790.8 164.2L805.6 121.2L820.5 108.8L835.3 105.2L850.1 103.9L864.8 117.9L879.5 137.4L894.1 159.4L908.8 182.6L923.3 205.8L937.9 228.3L952.4 250.2L966.9 271.5L981.4 293.0L995.9 315.0L1010.3 337.2L1024.7 359.4L1039.0 381.6L1053.3 404.6L1067.7 424.6L1082.1 435.8L1096.5 445.9L1110.9 455.7L1125.4 465.6L1139.8 475.6L1154.1 485.5" fill="none" stroke="#000" stroke-width="2.2" stroke-linejoin="round"/>
<path d="M498.0 620.2L511.9 614.5L525.8 607.6L539.7 596.2L553.5 578.6L567.4 564.6L581.3 552.5L595.2 541.3L609.2 526.5L623.1 509.8L637.1 491.5L651.0 474.5L665.0 456.1L679.0 428.9L693.1 401.2L707.1 372.4L721.2 342.3L735.4 307.7L749.6 262.2L763.8 214.9L778.1 164.8L792.5 107.7L806.9 67.0L821.3 53.7L835.7 47.4L850.0 45.5L864.3 55.2L878.6 70.8L892.8 90.1L907.0 112.7L921.1 138.9L935.2 163.4L949.2 185.7L963.3 208.9L977.3 232.4L991.3 253.8L1005.3 273.6L1019.3 294.5L1033.2 315.3L1047.1 337.0L1061.0 355.1L1075.0 367.3L1088.9 377.2L1102.9 387.0L1116.9 396.9L1130.9 406.6L1144.8 416.0" fill="none" stroke="#000" stroke-width="2.2" stroke-linejoin="round"/>
<path d="M798.5 827L799 622L802 595L809.5 525" fill="none" stroke="#fff" stroke-width="5.9" stroke-dasharray="34.3 16.7 7 17.7" stroke-dashoffset="74.8"/>
<path d="M848.8 44L841 104L833 170L825 240L819.5 355L817 455L809.5 525" fill="none" stroke="#fff" stroke-width="5.9" stroke-dasharray="34.3 17.7 7 16.7" stroke-dashoffset="15.3"/>
<path d="M389.2 722.5H411.2M387.5 608.5H409.5M385.9 493.5H407.9M384.2 378.5H406.2M382.6 262.5H404.6M380.9 143.5H402.9" stroke="#000" stroke-width="4" fill="none"/>
<text x="369" y="857.0" font-size="62.5" text-anchor="end">0.0</text>
<text x="369" y="746.5" font-size="62.5" text-anchor="end">0.5</text>
<text x="369" y="632.5" font-size="62.5" text-anchor="end">1.0</text>
<text x="369" y="517.5" font-size="62.5" text-anchor="end">1.5</text>
<text x="369" y="402.5" font-size="62.5" text-anchor="end">2.0</text>
<text x="369" y="286.5" font-size="62.5" text-anchor="end">2.5</text>
<text x="369" y="167.5" font-size="62.5" text-anchor="end">3.0</text>
<text x="369" y="52.3" font-size="62.5" text-anchor="end">3.5</text>
<path d="M517.6 836V858M692.2 836V858M866.9 836V858M1041.5 836V858M430.3 836V849M604.9 836V849M779.6 836V849M954.2 836V849M1128.9 836V849" stroke="#000" stroke-width="4" fill="none"/>
<text x="517.6" y="925.3" font-size="62.5" text-anchor="middle">5</text>
<text x="692.2" y="925.3" font-size="62.5" text-anchor="middle">10</text>
<text x="866.9" y="925.3" font-size="62.5" text-anchor="middle">15</text>
<text x="1041.5" y="925.3" font-size="62.5" text-anchor="middle">20</text>
<text x="1216.2" y="925.3" font-size="62.5" text-anchor="middle">25</text>
<text x="826" y="999.8" font-size="62.5" text-anchor="middle"><tspan font-style="italic">T</tspan> (K)</text>
<text transform="translate(245,439.2) rotate(-90)" font-size="65" text-anchor="middle">|Δ<tspan font-style="italic">S</tspan><tspan font-size="32.5" dy="7">M</tspan><tspan dy="-7">| (J·kg</tspan><tspan font-size="32.5" dy="-24">−1</tspan><tspan dy="24">·K</tspan><tspan font-size="32.5" dy="-24">−1</tspan><tspan dy="24">)</tspan></text>
<path d="M1204.5 807.2H1257.6M1194.4 751.6H1229.7M1190.6 703.1H1205.7M1180.5 659.9H1185.5" stroke="#000" stroke-width="2.2" fill="none"/>
<text x="1271" y="825" font-size="50">1</text>
<text x="1243" y="769" font-size="48">3</text>
<text x="1219" y="720" font-size="47">5</text>
<text x="1197" y="677" font-size="46">7</text>
<text transform="translate(1282,698) rotate(58)" font-size="60"><tspan font-style="italic">H</tspan> (T)</text>
<text x="409.5" y="75.8" font-size="45.3" fill="#222">GaV<tspan font-size="27">4</tspan>S<tspan font-size="27">8</tspan> single crystal</text>
<text x="521" y="175.5" font-size="54" fill="#222"><tspan font-style="italic">H</tspan>//[111]</text>
<rect x="1244.7" y="623.0" width="52.3" height="15.4" fill="#000"/>
<g shape-rendering="crispEdges">
<rect x="1244.7" y="609.00" width="52.3" height="15.50" fill="#2a2246"/>
<rect x="1244.7" y="594.01" width="52.3" height="15.50" fill="#352b59"/>
<rect x="1244.7" y="579.01" width="52.3" height="15.50" fill="#433671"/>
<rect x="1244.7" y="564.01" width="52.3" height="15.50" fill="#514289"/>
<rect x="1244.7" y="549.01" width="52.3" height="15.50" fill="#5e4fa2"/>
<rect x="1244.7" y="534.02" width="52.3" height="15.50" fill="#535eaa"/>
<rect x="1244.7" y="519.02" width="52.3" height="15.50" fill="#486cb1"/>
<rect x="1244.7" y="504.02" width="52.3" height="15.50" fill="#3c7bb7"/>
<rect x="1244.7" y="489.02" width="52.3" height="15.50" fill="#3389bc"/>
<rect x="1244.7" y="474.03" width="52.3" height="15.50" fill="#4098b5"/>
<rect x="1244.7" y="459.03" width="52.3" height="15.50" fill="#4da7ae"/>
<rect x="1244.7" y="444.03" width="52.3" height="15.50" fill="#5ab5a9"/>
<rect x="1244.7" y="429.04" width="52.3" height="15.50" fill="#66c2a5"/>
<rect x="1244.7" y="414.04" width="52.3" height="15.50" fill="#78c9a6"/>
<rect x="1244.7" y="399.04" width="52.3" height="15.50" fill="#89d0a8"/>
<rect x="1244.7" y="384.04" width="52.3" height="15.50" fill="#9ad6a9"/>
<rect x="1244.7" y="369.05" width="52.3" height="15.50" fill="#abddaa"/>
<rect x="1244.7" y="354.05" width="52.3" height="15.50" fill="#c5e7ad"/>
<rect x="1244.7" y="339.05" width="52.3" height="15.50" fill="#def1b0"/>
<rect x="1244.7" y="324.06" width="52.3" height="15.50" fill="#f3f5b1"/>
<rect x="1244.7" y="309.06" width="52.3" height="15.50" fill="#fdeea6"/>
<rect x="1244.7" y="294.06" width="52.3" height="15.50" fill="#fee091"/>
<rect x="1244.7" y="279.06" width="52.3" height="15.50" fill="#fecf81"/>
<rect x="1244.7" y="264.07" width="52.3" height="15.50" fill="#fdbe71"/>
<rect x="1244.7" y="249.07" width="52.3" height="15.50" fill="#fdae61"/>
<rect x="1244.7" y="234.07" width="52.3" height="15.50" fill="#fa9857"/>
<rect x="1244.7" y="219.07" width="52.3" height="15.50" fill="#f7824d"/>
<rect x="1244.7" y="204.08" width="52.3" height="15.50" fill="#f46d43"/>
<rect x="1244.7" y="189.08" width="52.3" height="15.50" fill="#ec6146"/>
<rect x="1244.7" y="174.08" width="52.3" height="15.50" fill="#e45549"/>
<rect x="1244.7" y="159.09" width="52.3" height="15.50" fill="#dc494c"/>
<rect x="1244.7" y="144.09" width="52.3" height="15.50" fill="#d43d4f"/>
<rect x="1244.7" y="129.09" width="52.3" height="15.50" fill="#c72e4c"/>
<rect x="1244.7" y="114.09" width="52.3" height="15.50" fill="#b91f48"/>
<rect x="1244.7" y="99.10" width="52.3" height="15.50" fill="#ac1045"/>
<rect x="1244.7" y="84.10" width="52.3" height="15.50" fill="#9e0142"/>
<rect x="1244.7" y="69.10" width="52.3" height="15.50" fill="#88003a"/>
<rect x="1244.7" y="54.11" width="52.3" height="15.50" fill="#720032"/>
<rect x="1244.7" y="39.11" width="52.3" height="15.50" fill="#5e0029"/>
<rect x="1244.7" y="27.30" width="52.3" height="12.31" fill="#4a0021"/>
</g>
<path d="M1297.5 12.9V638.4M1297.5 624.0H1315.2M1297.5 534.0H1315.2M1297.5 444.0H1315.2M1297.5 354.1H1315.2M1297.5 264.1H1315.2M1297.5 174.1H1315.2M1297.5 84.1H1315.2" stroke="#000" stroke-width="2.6" fill="none"/>
<text x="1331" y="643.4" font-size="62.5">0.0</text>
<text x="1331" y="553.4" font-size="62.5">0.5</text>
<text x="1331" y="463.4" font-size="62.5">1.0</text>
<text x="1331" y="373.4" font-size="62.5">1.5</text>
<text x="1331" y="283.5" font-size="62.5">2.0</text>
<text x="1331" y="193.5" font-size="62.5">2.5</text>
<text x="1331" y="103.5" font-size="62.5">3.0</text>
</g>
<g id="bottom">
<defs><linearGradient id="c0" x1="0" y1="1" x2="0" y2="0"><stop offset="0" stop-color="#efff00"/><stop offset="0.00625" stop-color="#ffe300"/><stop offset="0.01875" stop-color="#ff8b00"/><stop offset="0.025" stop-color="#ff7700"/><stop offset="0.03125" stop-color="#ff7b00"/><stop offset="0.0375" stop-color="#ff8f00"/><stop offset="0.04375" stop-color="#ffd700"/><stop offset="0.05" stop-color="#e3fe00"/><stop offset="0.05625" stop-color="#9afc00"/><stop offset="0.0625" stop-color="#41f600"/><stop offset="0.06875" stop-color="#0ef106"/><stop offset="0.075" stop-color="#02f412"/><stop offset="0.08125" stop-color="#00f726"/><stop offset="0.1" stop-color="#00fd79"/><stop offset="0.1125" stop-color="#00ffd9"/><stop offset="0.1187" stop-color="#00f8ff"/><stop offset="0.1437" stop-color="#00bdff"/><stop offset="0.1688" stop-color="#008dff"/><stop offset="0.2125" stop-color="#006aff"/><stop offset="0.2938" stop-color="#0052ff"/><stop offset="0.4938" stop-color="#002eff"/><stop offset="0.825" stop-color="#000efe"/><stop offset="1" stop-color="#0005fc"/></linearGradient><linearGradient id="c1" x1="0" y1="1" x2="0" y2="0"><stop offset="0" stop-color="#f9ff00"/><stop offset="0.00625" stop-color="#ffd700"/><stop offset="0.01875" stop-color="#ff7d00"/><stop offset="0.025" stop-color="#ff6900"/><stop offset="0.03125" stop-color="#ff6d00"/><stop offset="0.0375" stop-color="#ff8100"/><stop offset="0.04375" stop-color="#ffce00"/><stop offset="0.05" stop-color="#e9fe00"/><stop offset="0.05625" stop-color="#a0fc00"/><stop offset="0.0625" stop-color="#48f700"/><stop offset="0.06875" stop-color="#10f104"/><stop offset="0.075" stop-color="#04f410"/><stop offset="0.08125" stop-color="#00f621"/><stop offset="0.1" stop-color="#00fd75"/><stop offset="0.1125" stop-color="#00ffd6"/><stop offset="0.1187" stop-color="#00faff"/><stop offset="0.1437" stop-color="#00beff"/><stop offset="0.1688" stop-color="#008dff"/><stop offset="0.2125" stop-color="#006aff"/><stop offset="0.2938" stop-color="#0052ff"/><stop offset="0.4938" stop-color="#002eff"/><stop offset="0.825" stop-color="#000efe"/><stop offset="1" stop-color="#0005fc"/></linearGradient><linearGradient id="c2" x1="0" y1="1" x2="0" y2="0"><stop offset="0" stop-color="#ffef00"/><stop offset="0.0125" stop-color="#ff9500"/><stop offset="0.01875" stop-color="#ff6100"/><stop offset="0.025" stop-color="#ff4e00"/><stop offset="0.03125" stop-color="#ff5200"/><stop offset="0.0375" stop-color="#ff6600"/><stop offset="0.04375" stop-color="#ffbd00"/><stop offset="0.05" stop-color="#f6ff00"/><stop offset="0.05625" stop-color="#abfd00"/><stop offset="0.0625" stop-color="#54f800"/><stop offset="0.06875" stop-color="#12f002"/><stop offset="0.075" stop-color="#06f30e"/><stop offset="0.08125" stop-color="#00f515"/><stop offset="0.1" stop-color="#00fc6b"/><stop offset="0.1125" stop-color="#00ffcf"/><stop offset="0.1187" stop-color="#00feff"/><stop offset="0.1437" stop-color="#00c0ff"/><stop offset="0.1688" stop-color="#008eff"/><stop offset="0.2125" stop-color="#006aff"/><stop offset="0.2938" stop-color="#0052ff"/><stop offset="0.4938" stop-color="#002eff"/><stop offset="0.825" stop-color="#000efe"/><stop offset="1" stop-color="#0005fc"/></linearGradient><linearGradient id="c3" x1="0" y1="1" x2="0" y2="0"><stop offset="0" stop-color="#ffd700"/><stop offset="0.00625" stop-color="#ffaa00"/><stop offset="0.01875" stop-color="#ff4500"/><stop offset="0.025" stop-color="#ff3200"/><stop offset="0.03125" stop-color="#ff3700"/><stop offset="0.0375" stop-color="#ff4c00"/><stop offset="0.04375" stop-color="#ffab00"/><stop offset="0.05" stop-color="#fffa00"/><stop offset="0.05625" stop-color="#b7fd00"/><stop offset="0.0625" stop-color="#61f900"/><stop offset="0.06875" stop-color="#19f100"/><stop offset="0.075" stop-color="#08f30c"/><stop offset="0.08125" stop-color="#02f412"/><stop offset="0.0875" stop-color="#00f727"/><stop offset="0.1" stop-color="#00fb62"/><stop offset="0.1125" stop-color="#00ffc8"/><stop offset="0.1187" stop-color="#00fffb"/><stop offset="0.125" stop-color="#00f2ff"/><stop offset="0.1437" stop-color="#00c3ff"/><stop offset="0.1688" stop-color="#0090ff"/><stop offset="0.2125" stop-color="#006bff"/><stop offset="0.2938" stop-color="#0052ff"/><stop offset="0.4938" stop-color="#002eff"/><stop offset="0.825" stop-color="#000efe"/><stop offset="1" stop-color="#0005fc"/></linearGradient><linearGradient id="c4" x1="0" y1="1" x2="0" y2="0"><stop offset="0" stop-color="#ffca00"/><stop offset="0.00625" stop-color="#ff9e00"/><stop offset="0.0125" stop-color="#ff6800"/><stop offset="0.01875" stop-color="#ff3700"/><stop offset="0.025" stop-color="#ff2500"/><stop offset="0.03125" stop-color="#ff2900"/><stop offset="0.0375" stop-color="#ff3d00"/><stop offset="0.04375" stop-color="#ffa000"/><stop offset="0.05" stop-color="#fff000"/><stop offset="0.05625" stop-color="#befd00"/><stop offset="0.0625" stop-color="#68f900"/><stop offset="0.06875" stop-color="#20f200"/><stop offset="0.075" stop-color="#0af30a"/><stop offset="0.08125" stop-color="#03f411"/><stop offset="0.0875" stop-color="#00f621"/><stop offset="0.1" stop-color="#00fb5c"/><stop offset="0.1125" stop-color="#00ffc3"/><stop offset="0.1187" stop-color="#00fff7"/><stop offset="0.125" stop-color="#00f4ff"/><stop offset="0.1437" stop-color="#00c4ff"/><stop offset="0.1688" stop-color="#0090ff"/><stop offset="0.2125" stop-color="#006bff"/><stop offset="0.2938" stop-color="#0052ff"/><stop offset="0.4938" stop-color="#002eff"/><stop offset="0.825" stop-color="#000efe"/><stop offset="1" stop-color="#0005fc"/></linearGradient><linearGradient id="c5" x1="0" y1="1" x2="0" y2="0"><stop offset="0" stop-color="#ffc100"/><stop offset="0.00625" stop-color="#ff9500"/><stop offset="0.0125" stop-color="#ff5e00"/><stop offset="0.01875" stop-color="#ff2d00"/><stop offset="0.025" stop-color="#fe1c00"/><stop offset="0.03125" stop-color="#fe2000"/><stop offset="0.0375" stop-color="#ff3300"/><stop offset="0.04375" stop-color="#ff9800"/><stop offset="0.05" stop-color="#ffe800"/><stop offset="0.05625" stop-color="#c4fd00"/><stop offset="0.0625" stop-color="#6ffa00"/><stop offset="0.06875" stop-color="#25f200"/><stop offset="0.075" stop-color="#0bf209"/><stop offset="0.08125" stop-color="#04f410"/><stop offset="0.0875" stop-color="#00f61c"/><stop offset="0.1" stop-color="#00fb58"/><stop offset="0.1062" stop-color="#00ff8b"/><stop offset="0.1187" stop-color="#00fff4"/><stop offset="0.125" stop-color="#00f5ff"/><stop offset="0.1437" stop-color="#00c5ff"/><stop offset="0.1688" stop-color="#0091ff"/><stop offset="0.2125" stop-color="#006bff"/><stop offset="0.2875" stop-color="#0053ff"/><stop offset="0.4938" stop-color="#002eff"/><stop offset="0.825" stop-color="#000efe"/><stop offset="1" stop-color="#0005fc"/></linearGradient><linearGradient id="c6" x1="0" y1="1" x2="0" y2="0"><stop offset="0" stop-color="#ffb700"/><stop offset="0.00625" stop-color="#ff8900"/><stop offset="0.0125" stop-color="#ff5300"/><stop offset="0.01875" stop-color="#ff2400"/><stop offset="0.025" stop-color="#fc1300"/><stop offset="0.03125" stop-color="#fd1700"/><stop offset="0.0375" stop-color="#ff2900"/><stop offset="0.04375" stop-color="#ff8d00"/><stop offset="0.05" stop-color="#ffe100"/><stop offset="0.05625" stop-color="#cafd00"/><stop offset="0.0625" stop-color="#75fa00"/><stop offset="0.06875" stop-color="#2bf300"/><stop offset="0.075" stop-color="#0cf208"/><stop offset="0.0875" stop-color="#00f518"/><stop offset="0.1" stop-color="#00fa54"/><stop offset="0.1125" stop-color="#00ffbc"/><stop offset="0.1187" stop-color="#00fff0"/><stop offset="0.125" stop-color="#00f7ff"/><stop offset="0.1437" stop-color="#00c6ff"/><stop offset="0.1688" stop-color="#0091ff"/><stop offset="0.2125" stop-color="#006bff"/><stop offset="0.2875" stop-color="#0053ff"/><stop offset="0.4938" stop-color="#002eff"/><stop offset="0.825" stop-color="#000efe"/><stop offset="1" stop-color="#0005fc"/></linearGradient><linearGradient id="c7" x1="0" y1="1" x2="0" y2="0"><stop offset="0" stop-color="#ffad00"/><stop offset="0.00625" stop-color="#ff7e00"/><stop offset="0.0125" stop-color="#ff4800"/><stop offset="0.01875" stop-color="#fe1c00"/><stop offset="0.025" stop-color="#fb0b00"/><stop offset="0.03125" stop-color="#fc0f00"/><stop offset="0.0375" stop-color="#fe2000"/><stop offset="0.04375" stop-color="#ff8200"/><stop offset="0.05" stop-color="#ffd900"/><stop offset="0.05625" stop-color="#d0fe00"/><stop offset="0.0625" stop-color="#7bfa00"/><stop offset="0.06875" stop-color="#31f400"/><stop offset="0.075" stop-color="#0df207"/><stop offset="0.0875" stop-color="#00f514"/><stop offset="0.1" stop-color="#00fa50"/><stop offset="0.1125" stop-color="#00ffb8"/><stop offset="0.1187" stop-color="#00ffed"/><stop offset="0.125" stop-color="#00f9ff"/><stop offset="0.1437" stop-color="#00c8ff"/><stop offset="0.1688" stop-color="#0092ff"/><stop offset="0.2125" stop-color="#006cff"/><stop offset="0.2875" stop-color="#0053ff"/><stop offset="0.4938" stop-color="#002eff"/><stop offset="0.825" stop-color="#000efe"/><stop offset="1" stop-color="#0005fc"/></linearGradient><linearGradient id="c8" x1="0" y1="1" x2="0" y2="0"><stop offset="0" stop-color="#ffaa00"/><stop offset="0.00625" stop-color="#ff7a00"/><stop offset="0.0125" stop-color="#ff4500"/><stop offset="0.01875" stop-color="#fd1a00"/><stop offset="0.025" stop-color="#fb0800"/><stop offset="0.03125" stop-color="#fb0c00"/><stop offset="0.0375" stop-color="#fe1d00"/><stop offset="0.04375" stop-color="#ff7d00"/><stop offset="0.05" stop-color="#ffd600"/><stop offset="0.05625" stop-color="#d3fe00"/><stop offset="0.0625" stop-color="#7efb00"/><stop offset="0.06875" stop-color="#33f400"/><stop offset="0.075" stop-color="#0ef206"/><stop offset="0.0875" stop-color="#01f513"/><stop offset="0.1" stop-color="#00fa4e"/><stop offset="0.1125" stop-color="#00ffb6"/><stop offset="0.1187" stop-color="#00ffec"/><stop offset="0.125" stop-color="#00f9ff"/><stop offset="0.1437" stop-color="#00c8ff"/><stop offset="0.1688" stop-color="#0092ff"/><stop offset="0.2125" stop-color="#006cff"/><stop offset="0.2875" stop-color="#0053ff"/><stop offset="0.4938" stop-color="#002eff"/><stop offset="0.825" stop-color="#000efe"/><stop offset="1" stop-color="#0005fc"/></linearGradient><linearGradient id="c9" x1="0" y1="1" x2="0" y2="0"><stop offset="0" stop-color="#ffab00"/><stop offset="0.00625" stop-color="#ff7a00"/><stop offset="0.0125" stop-color="#ff4600"/><stop offset="0.01875" stop-color="#fd1a00"/><stop offset="0.025" stop-color="#fb0800"/><stop offset="0.03125" stop-color="#fb0c00"/><stop offset="0.0375" stop-color="#fe1d00"/><stop offset="0.04375" stop-color="#ff7c00"/><stop offset="0.05" stop-color="#ffd600"/><stop offset="0.05625" stop-color="#d4fe00"/><stop offset="0.0625" stop-color="#7ffb00"/><stop offset="0.06875" stop-color="#33f400"/><stop offset="0.075" stop-color="#0ef206"/><stop offset="0.0875" stop-color="#01f513"/><stop offset="0.1" stop-color="#00fa4e"/><stop offset="0.1125" stop-color="#00ffb6"/><stop offset="0.1187" stop-color="#00ffeb"/><stop offset="0.125" stop-color="#00f9ff"/><stop offset="0.1437" stop-color="#00c8ff"/><stop offset="0.1688" stop-color="#0092ff"/><stop offset="0.2125" stop-color="#006cff"/><stop offset="0.2875" stop-color="#0053ff"/><stop offset="0.4938" stop-color="#002eff"/><stop offset="0.825" stop-color="#000efe"/><stop offset="1" stop-color="#0005fc"/></linearGradient><linearGradient id="c10" x1="0" y1="1" x2="0" y2="0"><stop offset="0" stop-color="#ffab00"/><stop offset="0.00625" stop-color="#ff7b00"/><stop offset="0.0125" stop-color="#ff4600"/><stop offset="0.01875" stop-color="#fd1a00"/><stop offset="0.025" stop-color="#fb0800"/><stop offset="0.03125" stop-color="#fb0c00"/><stop offset="0.0375" stop-color="#fe1d00"/><stop offset="0.04375" stop-color="#ff7b00"/><stop offset="0.05" stop-color="#ffd500"/><stop offset="0.05625" stop-color="#d4fe00"/><stop offset="0.0625" stop-color="#7ffb00"/><stop offset="0.06875" stop-color="#34f400"/><stop offset="0.075" stop-color="#0ef106"/><stop offset="0.0875" stop-color="#01f513"/><stop offset="0.1" stop-color="#00fa4e"/><stop offset="0.1125" stop-color="#00ffb5"/><stop offset="0.1187" stop-color="#00ffeb"/><stop offset="0.125" stop-color="#00faff"/><stop offset="0.1437" stop-color="#00c8ff"/><stop offset="0.1688" stop-color="#0092ff"/><stop offset="0.2125" stop-color="#006cff"/><stop offset="0.2875" stop-color="#0053ff"/><stop offset="0.4938" stop-color="#002eff"/><stop offset="0.825" stop-color="#000efe"/><stop offset="1" stop-color="#0005fc"/></linearGradient><linearGradient id="c11" x1="0" y1="1" x2="0" y2="0"><stop offset="0" stop-color="#ffab00"/><stop offset="0.00625" stop-color="#ff7b00"/><stop offset="0.0125" stop-color="#ff4600"/><stop offset="0.01875" stop-color="#fd1a00"/><stop offset="0.025" stop-color="#fb0800"/><stop offset="0.03125" stop-color="#fb0c00"/><stop offset="0.0375" stop-color="#fe1d00"/><stop offset="0.04375" stop-color="#ff7b00"/><stop offset="0.05" stop-color="#ffd400"/><stop offset="0.05625" stop-color="#d5fe00"/><stop offset="0.0625" stop-color="#80fb00"/><stop offset="0.06875" stop-color="#34f400"/><stop offset="0.075" stop-color="#0ef106"/><stop offset="0.0875" stop-color="#01f513"/><stop offset="0.1" stop-color="#00fa4e"/><stop offset="0.1125" stop-color="#00ffb5"/><stop offset="0.1187" stop-color="#00ffea"/><stop offset="0.125" stop-color="#00faff"/><stop offset="0.1437" stop-color="#00c8ff"/><stop offset="0.1688" stop-color="#0093ff"/><stop offset="0.2125" stop-color="#006cff"/><stop offset="0.2875" stop-color="#0053ff"/><stop offset="0.4938" stop-color="#002eff"/><stop offset="0.825" stop-color="#000efe"/><stop offset="1" stop-color="#0005fc"/></linearGradient><linearGradient id="c12" x1="0" y1="1" x2="0" y2="0"><stop offset="0" stop-color="#ffac00"/><stop offset="0.00625" stop-color="#ff7c00"/><stop offset="0.0125" stop-color="#ff4700"/><stop offset="0.01875" stop-color="#fd1b00"/><stop offset="0.025" stop-color="#fb0800"/><stop offset="0.03125" stop-color="#fb0c00"/><stop offset="0.0375" stop-color="#fe1c00"/><stop offset="0.05" stop-color="#ffd400"/><stop offset="0.05625" stop-color="#d6fe00"/><stop offset="0.0625" stop-color="#80fb00"/><stop offset="0.06875" stop-color="#35f400"/><stop offset="0.075" stop-color="#0ef106"/><stop offset="0.0875" stop-color="#01f513"/><stop offset="0.1" stop-color="#00fa4e"/><stop offset="0.1125" stop-color="#00ffb5"/><stop offset="0.1187" stop-color="#00ffea"/><stop offset="0.125" stop-color="#00faff"/><stop offset="0.1437" stop-color="#00c8ff"/><stop offset="0.1688" stop-color="#0093ff"/><stop offset="0.2125" stop-color="#006cff"/><stop offset="0.2875" stop-color="#0053ff"/><stop offset="0.4938" stop-color="#002eff"/><stop offset="0.825" stop-color="#000efe"/><stop offset="1" stop-color="#0005fc"/></linearGradient><linearGradient id="c13" x1="0" y1="1" x2="0" y2="0"><stop offset="0" stop-color="#ffac00"/><stop offset="0.00625" stop-color="#ff7c00"/><stop offset="0.0125" stop-color="#ff4700"/><stop offset="0.01875" stop-color="#fd1b00"/><stop offset="0.025" stop-color="#fb0800"/><stop offset="0.03125" stop-color="#fb0c00"/><stop offset="0.0375" stop-color="#fe1c00"/><stop offset="0.05" stop-color="#ffd300"/><stop offset="0.05625" stop-color="#d6fe00"/><stop offset="0.0625" stop-color="#81fb00"/><stop offset="0.06875" stop-color="#36f400"/><stop offset="0.075" stop-color="#0ef106"/><stop offset="0.0875" stop-color="#01f513"/><stop offset="0.1" stop-color="#00fa4d"/><stop offset="0.1125" stop-color="#00ffb4"/><stop offset="0.1187" stop-color="#00ffea"/><stop offset="0.125" stop-color="#00faff"/><stop offset="0.1437" stop-color="#00c8ff"/><stop offset="0.1688" stop-color="#0093ff"/><stop offset="0.2125" stop-color="#006cff"/><stop offset="0.2875" stop-color="#0053ff"/><stop offset="0.4938" stop-color="#002eff"/><stop offset="0.825" stop-color="#000efe"/><stop offset="1" stop-color="#0005fc"/></linearGradient><linearGradient id="c14" x1="0" y1="1" x2="0" y2="0"><stop offset="0" stop-color="#ffac00"/><stop offset="0.00625" stop-color="#ff7c00"/><stop offset="0.0125" stop-color="#ff4700"/><stop offset="0.01875" stop-color="#fd1b00"/><stop offset="0.025" stop-color="#fb0800"/><stop offset="0.03125" stop-color="#fb0c00"/><stop offset="0.0375" stop-color="#fe1c00"/><stop offset="0.05" stop-color="#ffd300"/><stop offset="0.05625" stop-color="#d7fe00"/><stop offset="0.0625" stop-color="#81fb00"/><stop offset="0.06875" stop-color="#36f500"/><stop offset="0.075" stop-color="#0ef106"/><stop offset="0.0875" stop-color="#01f513"/><stop offset="0.1" stop-color="#00fa4d"/><stop offset="0.1125" stop-color="#00ffb4"/><stop offset="0.1187" stop-color="#00ffe9"/><stop offset="0.125" stop-color="#00faff"/><stop offset="0.1437" stop-color="#00c9ff"/><stop offset="0.1688" stop-color="#0093ff"/><stop offset="0.2125" stop-color="#006cff"/><stop offset="0.2875" stop-color="#0053ff"/><stop offset="0.4938" stop-color="#002eff"/><stop offset="0.825" stop-color="#000efe"/><stop offset="1" stop-color="#0005fc"/></linearGradient><linearGradient id="c15" x1="0" y1="1" x2="0" y2="0"><stop offset="0" stop-color="#ffad00"/><stop offset="0.00625" stop-color="#ff7d00"/><stop offset="0.0125" stop-color="#ff4800"/><stop offset="0.01875" stop-color="#fd1c00"/><stop offset="0.025" stop-color="#fb0800"/><stop offset="0.03125" stop-color="#fb0c00"/><stop offset="0.0375" stop-color="#fd1c00"/><stop offset="0.05" stop-color="#ffd200"/><stop offset="0.05625" stop-color="#d7fe00"/><stop offset="0.0625" stop-color="#82fb00"/><stop offset="0.06875" stop-color="#37f500"/><stop offset="0.075" stop-color="#0ff105"/><stop offset="0.0875" stop-color="#01f513"/><stop offset="0.1" stop-color="#00fa4d"/><stop offset="0.1125" stop-color="#00ffb4"/><stop offset="0.1187" stop-color="#00ffe9"/><stop offset="0.125" stop-color="#00faff"/><stop offset="0.1437" stop-color="#00c9ff"/><stop offset="0.1688" stop-color="#0093ff"/><stop offset="0.2125" stop-color="#006cff"/><stop offset="0.2875" stop-color="#0053ff"/><stop offset="0.4938" stop-color="#002eff"/><stop offset="0.825" stop-color="#000efe"/><stop offset="1" stop-color="#0005fc"/></linearGradient><linearGradient id="c16" x1="0" y1="1" x2="0" y2="0"><stop offset="0" stop-color="#ffad00"/><stop offset="0.00625" stop-color="#ff7d00"/><stop offset="0.0125" stop-color="#ff4800"/><stop offset="0.01875" stop-color="#fd1c00"/><stop offset="0.025" stop-color="#fb0800"/><stop offset="0.03125" stop-color="#fb0c00"/><stop offset="0.0375" stop-color="#fd1c00"/><stop offset="0.05" stop-color="#ffd100"/><stop offset="0.05625" stop-color="#d8fe00"/><stop offset="0.0625" stop-color="#82fb00"/><stop offset="0.06875" stop-color="#37f500"/><stop offset="0.075" stop-color="#0ff105"/><stop offset="0.0875" stop-color="#01f513"/><stop offset="0.1" stop-color="#00fa4d"/><stop offset="0.1125" stop-color="#00ffb3"/><stop offset="0.1187" stop-color="#00ffe8"/><stop offset="0.125" stop-color="#00faff"/><stop offset="0.1437" stop-color="#00c9ff"/><stop offset="0.1688" stop-color="#0093ff"/><stop offset="0.2125" stop-color="#006cff"/><stop offset="0.2875" stop-color="#0053ff"/><stop offset="0.4938" stop-color="#002eff"/><stop offset="0.825" stop-color="#000efe"/><stop offset="1" stop-color="#0005fc"/></linearGradient><linearGradient id="c17" x1="0" y1="1" x2="0" y2="0"><stop offset="0" stop-color="#ffad00"/><stop offset="0.00625" stop-color="#ff7e00"/><stop offset="0.0125" stop-color="#ff4900"/><stop offset="0.01875" stop-color="#fe1c00"/><stop offset="0.025" stop-color="#fb0800"/><stop offset="0.03125" stop-color="#fb0c00"/><stop offset="0.0375" stop-color="#fd1c00"/><stop offset="0.05" stop-color="#ffd100"/><stop offset="0.05625" stop-color="#d9fe00"/><stop offset="0.0625" stop-color="#83fb00"/><stop offset="0.06875" stop-color="#38f500"/><stop offset="0.075" stop-color="#0ff105"/><stop offset="0.0875" stop-color="#01f513"/><stop offset="0.1" stop-color="#00fa4c"/><stop offset="0.1062" stop-color="#00fe7e"/><stop offset="0.1187" stop-color="#00ffe8"/><stop offset="0.125" stop-color="#00faff"/><stop offset="0.1437" stop-color="#00c9ff"/><stop offset="0.1688" stop-color="#0093ff"/><stop offset="0.2125" stop-color="#006cff"/><stop offset="0.2875" stop-color="#0053ff"/><stop offset="0.4938" stop-color="#002eff"/><stop offset="0.825" stop-color="#000efe"/><stop offset="1" stop-color="#0005fc"/></linearGradient><linearGradient id="c18" x1="0" y1="1" x2="0" y2="0"><stop offset="0" stop-color="#ffad00"/><stop offset="0.00625" stop-color="#ff7e00"/><stop offset="0.0125" stop-color="#ff4900"/><stop offset="0.01875" stop-color="#fe1c00"/><stop offset="0.025" stop-color="#fb0800"/><stop offset="0.03125" stop-color="#fb0c00"/><stop offset="0.0375" stop-color="#fd1c00"/><stop offset="0.05" stop-color="#ffd000"/><stop offset="0.05625" stop-color="#d9fe00"/><stop offset="0.0625" stop-color="#83fb00"/><stop offset="0.06875" stop-color="#38f500"/><stop offset="0.075" stop-color="#0ff105"/><stop offset="0.0875" stop-color="#01f513"/><stop offset="0.1" stop-color="#00fa4c"/><stop offset="0.1062" stop-color="#00fe7d"/><stop offset="0.1187" stop-color="#00ffe8"/><stop offset="0.125" stop-color="#00fbff"/><stop offset="0.1437" stop-color="#00c9ff"/><stop offset="0.1688" stop-color="#0093ff"/><stop offset="0.2125" stop-color="#006cff"/><stop offset="0.2875" stop-color="#0053ff"/><stop offset="0.4938" stop-color="#002eff"/><stop offset="0.825" stop-color="#000efe"/><stop offset="1" stop-color="#0005fc"/></linearGradient><linearGradient id="c19" x1="0" y1="1" x2="0" y2="0"><stop offset="0" stop-color="#ffae00"/><stop offset="0.00625" stop-color="#ff7f00"/><stop offset="0.0125" stop-color="#ff4900"/><stop offset="0.01875" stop-color="#fe1d00"/><stop offset="0.025" stop-color="#fb0800"/><stop offset="0.03125" stop-color="#fb0c00"/><stop offset="0.0375" stop-color="#fd1b00"/><stop offset="0.05" stop-color="#ffd000"/><stop offset="0.05625" stop-color="#dafe00"/><stop offset="0.0625" stop-color="#84fb00"/><stop offset="0.06875" stop-color="#39f500"/><stop offset="0.075" stop-color="#0ff105"/><stop offset="0.0875" stop-color="#01f513"/><stop offset="0.09375" stop-color="#00f72d"/><stop offset="0.1" stop-color="#00fa4c"/><stop offset="0.1062" stop-color="#00fe7d"/><stop offset="0.1187" stop-color="#00ffe7"/><stop offset="0.125" stop-color="#00fbff"/><stop offset="0.1437" stop-color="#00c9ff"/><stop offset="0.1688" stop-color="#0093ff"/><stop offset="0.2125" stop-color="#006cff"/><stop offset="0.2875" stop-color="#0053ff"/><stop offset="0.4938" stop-color="#002eff"/><stop offset="0.825" stop-color="#000efe"/><stop offset="1" stop-color="#0005fc"/></linearGradient><linearGradient id="c20" x1="0" y1="1" x2="0" y2="0"><stop offset="0" stop-color="#ffae00"/><stop offset="0.00625" stop-color="#ff7f00"/><stop offset="0.0125" stop-color="#ff4a00"/><stop offset="0.01875" stop-color="#fe1d00"/><stop offset="0.025" stop-color="#fb0800"/><stop offset="0.03125" stop-color="#fb0c00"/><stop offset="0.0375" stop-color="#fd1b00"/><stop offset="0.04375" stop-color="#ff7300"/><stop offset="0.05" stop-color="#ffcf00"/><stop offset="0.05625" stop-color="#dbfe00"/><stop offset="0.0625" stop-color="#85fb00"/><stop offset="0.06875" stop-color="#39f500"/><stop offset="0.075" stop-color="#0ff105"/><stop offset="0.0875" stop-color="#01f513"/><stop offset="0.09375" stop-color="#00f72d"/><stop offset="0.1" stop-color="#00fa4c"/><stop offset="0.1062" stop-color="#00fe7c"/><stop offset="0.1187" stop-color="#00ffe7"/><stop offset="0.125" stop-color="#00fbff"/><stop offset="0.1437" stop-color="#00c9ff"/><stop offset="0.1688" stop-color="#0093ff"/><stop offset="0.2125" stop-color="#006cff"/><stop offset="0.2875" stop-color="#0053ff"/><stop offset="0.4938" stop-color="#002eff"/><stop offset="0.825" stop-color="#000efe"/><stop offset="1" stop-color="#0005fc"/></linearGradient><linearGradient id="c21" x1="0" y1="1" x2="0" y2="0"><stop offset="0" stop-color="#ffae00"/><stop offset="0.00625" stop-color="#ff7f00"/><stop offset="0.0125" stop-color="#ff4a00"/><stop offset="0.01875" stop-color="#fe1d00"/><stop offset="0.025" stop-color="#fb0800"/><stop offset="0.03125" stop-color="#fb0c00"/><stop offset="0.0375" stop-color="#fd1b00"/><stop offset="0.04375" stop-color="#ff7200"/><stop offset="0.05" stop-color="#ffcf00"/><stop offset="0.05625" stop-color="#dbfe00"/><stop offset="0.0625" stop-color="#85fb00"/><stop offset="0.06875" stop-color="#3af500"/><stop offset="0.075" stop-color="#0ff105"/><stop offset="0.0875" stop-color="#01f513"/><stop offset="0.09375" stop-color="#00f72d"/><stop offset="0.1" stop-color="#00fa4c"/><stop offset="0.1062" stop-color="#00fe7c"/><stop offset="0.1187" stop-color="#00ffe7"/><stop offset="0.125" stop-color="#00fbff"/><stop offset="0.1437" stop-color="#00c9ff"/><stop offset="0.1688" stop-color="#0094ff"/><stop offset="0.2125" stop-color="#006cff"/><stop offset="0.2875" stop-color="#0053ff"/><stop offset="0.4938" stop-color="#002eff"/><stop offset="0.825" stop-color="#000efe"/><stop offset="1" stop-color="#0005fc"/></linearGradient><linearGradient id="c22" x1="0" y1="1" x2="0" y2="0"><stop offset="0" stop-color="#ffb900"/><stop offset="0.00625" stop-color="#ff9000"/><stop offset="0.0125" stop-color="#ff5c00"/><stop offset="0.01875" stop-color="#ff2f00"/><stop offset="0.025" stop-color="#fd1900"/><stop offset="0.03125" stop-color="#fe1d00"/><stop offset="0.0375" stop-color="#ff2d00"/><stop offset="0.05" stop-color="#ffda00"/><stop offset="0.05625" stop-color="#d3fe00"/><stop offset="0.0625" stop-color="#7cfa00"/><stop offset="0.06875" stop-color="#32f400"/><stop offset="0.075" stop-color="#0df207"/><stop offset="0.0875" stop-color="#00f516"/><stop offset="0.1" stop-color="#00fa53"/><stop offset="0.1062" stop-color="#00fe82"/><stop offset="0.1187" stop-color="#00ffeb"/><stop offset="0.125" stop-color="#00f8ff"/><stop offset="0.1437" stop-color="#00c7ff"/><stop offset="0.1688" stop-color="#0093ff"/><stop offset="0.2125" stop-color="#006bff"/><stop offset="0.2875" stop-color="#0053ff"/><stop offset="0.4938" stop-color="#002eff"/><stop offset="0.825" stop-color="#000efe"/><stop offset="1" stop-color="#0005fc"/></linearGradient><linearGradient id="c23" x1="0" y1="1" x2="0" y2="0"><stop offset="0" stop-color="#ffc400"/><stop offset="0.00625" stop-color="#ff9d00"/><stop offset="0.01875" stop-color="#ff4200"/><stop offset="0.025" stop-color="#ff2a00"/><stop offset="0.03125" stop-color="#ff2f00"/><stop offset="0.0375" stop-color="#ff4000"/><stop offset="0.04375" stop-color="#ff9600"/><stop offset="0.05" stop-color="#ffe600"/><stop offset="0.05625" stop-color="#cafd00"/><stop offset="0.0625" stop-color="#72fa00"/><stop offset="0.06875" stop-color="#2af300"/><stop offset="0.075" stop-color="#0cf208"/><stop offset="0.08125" stop-color="#04f410"/><stop offset="0.0875" stop-color="#00f61e"/><stop offset="0.1" stop-color="#00fb59"/><stop offset="0.1062" stop-color="#00ff88"/><stop offset="0.1187" stop-color="#00ffef"/><stop offset="0.125" stop-color="#00f6ff"/><stop offset="0.1437" stop-color="#00c6ff"/><stop offset="0.1688" stop-color="#0092ff"/><stop offset="0.2125" stop-color="#006bff"/><stop offset="0.2875" stop-color="#0053ff"/><stop offset="0.4938" stop-color="#002eff"/><stop offset="0.825" stop-color="#000efe"/><stop offset="1" stop-color="#0005fc"/></linearGradient><linearGradient id="c24" x1="0" y1="1" x2="0" y2="0"><stop offset="0" stop-color="#ffcf00"/><stop offset="0.0125" stop-color="#ff8600"/><stop offset="0.01875" stop-color="#ff5e00"/><stop offset="0.025" stop-color="#ff4900"/><stop offset="0.03125" stop-color="#ff4d00"/><stop offset="0.0375" stop-color="#ff5e00"/><stop offset="0.05" stop-color="#fff800"/><stop offset="0.05625" stop-color="#bdfd00"/><stop offset="0.0625" stop-color="#64f900"/><stop offset="0.06875" stop-color="#1df100"/><stop offset="0.075" stop-color="#09f30b"/><stop offset="0.08125" stop-color="#01f513"/><stop offset="0.0875" stop-color="#00f72b"/><stop offset="0.1" stop-color="#00fc64"/><stop offset="0.1062" stop-color="#00ff92"/><stop offset="0.1187" stop-color="#00fff6"/><stop offset="0.125" stop-color="#00f2ff"/><stop offset="0.1437" stop-color="#00c3ff"/><stop offset="0.1688" stop-color="#0090ff"/><stop offset="0.2125" stop-color="#006bff"/><stop offset="0.2687" stop-color="#0058ff"/><stop offset="0.475" stop-color="#0030ff"/><stop offset="0.825" stop-color="#000efe"/><stop offset="1" stop-color="#0005fc"/></linearGradient><linearGradient id="c25" x1="0" y1="1" x2="0" y2="0"><stop offset="0" stop-color="#ffdc00"/><stop offset="0.01875" stop-color="#ff7c00"/><stop offset="0.025" stop-color="#ff6900"/><stop offset="0.03125" stop-color="#ff6d00"/><stop offset="0.0375" stop-color="#ff7d00"/><stop offset="0.04375" stop-color="#ffbf00"/><stop offset="0.05" stop-color="#f6ff00"/><stop offset="0.05625" stop-color="#b0fd00"/><stop offset="0.0625" stop-color="#55f800"/><stop offset="0.06875" stop-color="#13f001"/><stop offset="0.075" stop-color="#06f40e"/><stop offset="0.08125" stop-color="#00f61b"/><stop offset="0.1" stop-color="#00fd6f"/><stop offset="0.1062" stop-color="#00ff9b"/><stop offset="0.1187" stop-color="#00fffd"/><stop offset="0.1437" stop-color="#00c0ff"/><stop offset="0.1688" stop-color="#008fff"/><stop offset="0.2125" stop-color="#006aff"/><stop offset="0.2938" stop-color="#0052ff"/><stop offset="0.5" stop-color="#002dff"/><stop offset="0.825" stop-color="#000efe"/><stop offset="1" stop-color="#0005fc"/></linearGradient><linearGradient id="c26" x1="0" y1="1" x2="0" y2="0"><stop offset="0" stop-color="#ffea00"/><stop offset="0.0125" stop-color="#ffb300"/><stop offset="0.01875" stop-color="#ff9c00"/><stop offset="0.025" stop-color="#ff8d00"/><stop offset="0.03125" stop-color="#ff9100"/><stop offset="0.0375" stop-color="#ff9e00"/><stop offset="0.04375" stop-color="#ffd700"/><stop offset="0.05" stop-color="#e4fe00"/><stop offset="0.05625" stop-color="#a1fc00"/><stop offset="0.0625" stop-color="#44f600"/><stop offset="0.06875" stop-color="#0ff105"/><stop offset="0.075" stop-color="#03f411"/><stop offset="0.1" stop-color="#00fe7c"/><stop offset="0.1062" stop-color="#00ffa7"/><stop offset="0.1125" stop-color="#00ffd6"/><stop offset="0.1187" stop-color="#00fbff"/><stop offset="0.1313" stop-color="#00daff"/><stop offset="0.15" stop-color="#00b1ff"/><stop offset="0.1688" stop-color="#008dff"/><stop offset="0.2125" stop-color="#006aff"/><stop offset="0.2938" stop-color="#0052ff"/><stop offset="0.5" stop-color="#002eff"/><stop offset="0.825" stop-color="#000efe"/><stop offset="1" stop-color="#0005fc"/></linearGradient><linearGradient id="c27" x1="0" y1="1" x2="0" y2="0"><stop offset="0" stop-color="#fffa00"/><stop offset="0.0125" stop-color="#ffcb00"/><stop offset="0.01875" stop-color="#ffb700"/><stop offset="0.025" stop-color="#ffad00"/><stop offset="0.03125" stop-color="#ffb000"/><stop offset="0.0375" stop-color="#ffbb00"/><stop offset="0.04375" stop-color="#fff200"/><stop offset="0.05" stop-color="#d0fe00"/><stop offset="0.05625" stop-color="#8dfb00"/><stop offset="0.0625" stop-color="#31f400"/><stop offset="0.06875" stop-color="#0bf209"/><stop offset="0.075" stop-color="#00f519"/><stop offset="0.08125" stop-color="#00f83c"/><stop offset="0.1" stop-color="#00ff8a"/><stop offset="0.1125" stop-color="#00ffe1"/><stop offset="0.1187" stop-color="#00f5ff"/><stop offset="0.1313" stop-color="#00d5ff"/><stop offset="0.15" stop-color="#00aeff"/><stop offset="0.1688" stop-color="#008bff"/><stop offset="0.2125" stop-color="#0069ff"/><stop offset="0.2938" stop-color="#0053ff"/><stop offset="0.5" stop-color="#002fff"/><stop offset="0.85" stop-color="#000dfe"/><stop offset="1" stop-color="#0006fc"/></linearGradient><linearGradient id="c28" x1="0" y1="1" x2="0" y2="0"><stop offset="0" stop-color="#e3fe00"/><stop offset="0.0125" stop-color="#fffd00"/><stop offset="0.01875" stop-color="#ffef00"/><stop offset="0.025" stop-color="#ffe600"/><stop offset="0.03125" stop-color="#ffe900"/><stop offset="0.0375" stop-color="#fff200"/><stop offset="0.04375" stop-color="#e4fe00"/><stop offset="0.05" stop-color="#aefd00"/><stop offset="0.05625" stop-color="#68f900"/><stop offset="0.0625" stop-color="#13f001"/><stop offset="0.06875" stop-color="#04f410"/><stop offset="0.075" stop-color="#00f839"/><stop offset="0.08125" stop-color="#00fb5b"/><stop offset="0.1" stop-color="#00ffa3"/><stop offset="0.1062" stop-color="#00ffc8"/><stop offset="0.1125" stop-color="#00fff2"/><stop offset="0.1187" stop-color="#00ecff"/><stop offset="0.125" stop-color="#00dbff"/><stop offset="0.15" stop-color="#00a8ff"/><stop offset="0.1688" stop-color="#0089ff"/><stop offset="0.2125" stop-color="#0068ff"/><stop offset="0.3" stop-color="#0052ff"/><stop offset="0.525" stop-color="#002cff"/><stop offset="0.85" stop-color="#000dfe"/><stop offset="1" stop-color="#0006fc"/></linearGradient><linearGradient id="c29" x1="0" y1="1" x2="0" y2="0"><stop offset="0" stop-color="#c6fd00"/><stop offset="0.01875" stop-color="#e7fe00"/><stop offset="0.025" stop-color="#efff00"/><stop offset="0.0375" stop-color="#e8fe00"/><stop offset="0.04375" stop-color="#cffe00"/><stop offset="0.05" stop-color="#9cfc00"/><stop offset="0.05625" stop-color="#5cf900"/><stop offset="0.0625" stop-color="#11f103"/><stop offset="0.06875" stop-color="#02f512"/><stop offset="0.075" stop-color="#00f94a"/><stop offset="0.08125" stop-color="#00fd70"/><stop offset="0.1" stop-color="#00ffb3"/><stop offset="0.1062" stop-color="#00ffd1"/><stop offset="0.1125" stop-color="#00fff8"/><stop offset="0.1187" stop-color="#00eaff"/><stop offset="0.125" stop-color="#00d6ff"/><stop offset="0.15" stop-color="#00a6ff"/><stop offset="0.1688" stop-color="#0088ff"/><stop offset="0.1938" stop-color="#0074ff"/><stop offset="0.2188" stop-color="#0066ff"/><stop offset="0.3063" stop-color="#0051ff"/><stop offset="0.525" stop-color="#002dff"/><stop offset="0.85" stop-color="#000efe"/><stop offset="1" stop-color="#0006fc"/></linearGradient><linearGradient id="c30" x1="0" y1="1" x2="0" y2="0"><stop offset="0" stop-color="#78fa00"/><stop offset="0.01875" stop-color="#97fc00"/><stop offset="0.03125" stop-color="#9ffc00"/><stop offset="0.0375" stop-color="#9efc00"/><stop offset="0.04375" stop-color="#97fc00"/><stop offset="0.05" stop-color="#6bfa00"/><stop offset="0.05625" stop-color="#39f500"/><stop offset="0.0625" stop-color="#0ff105"/><stop offset="0.06875" stop-color="#00f514"/><stop offset="0.075" stop-color="#00f947"/><stop offset="0.08125" stop-color="#00fc6e"/><stop offset="0.1" stop-color="#00ffb0"/><stop offset="0.1062" stop-color="#00ffca"/><stop offset="0.1125" stop-color="#00ffef"/><stop offset="0.1187" stop-color="#00f0ff"/><stop offset="0.125" stop-color="#00d6ff"/><stop offset="0.1437" stop-color="#00acff"/><stop offset="0.1688" stop-color="#0085ff"/><stop offset="0.175" stop-color="#007dff"/><stop offset="0.2188" stop-color="#0064ff"/><stop offset="0.3375" stop-color="#004cff"/><stop offset="0.525" stop-color="#002eff"/><stop offset="0.85" stop-color="#000efe"/><stop offset="1" stop-color="#0006fc"/></linearGradient><linearGradient id="c31" x1="0" y1="1" x2="0" y2="0"><stop offset="0" stop-color="#2cf300"/><stop offset="0.025" stop-color="#48f700"/><stop offset="0.03125" stop-color="#4df800"/><stop offset="0.04375" stop-color="#4af700"/><stop offset="0.05" stop-color="#3ef600"/><stop offset="0.05625" stop-color="#1bf100"/><stop offset="0.0625" stop-color="#0df207"/><stop offset="0.06875" stop-color="#02f412"/><stop offset="0.08125" stop-color="#00fa56"/><stop offset="0.0875" stop-color="#00fd6f"/><stop offset="0.09375" stop-color="#00fe85"/><stop offset="0.1062" stop-color="#00ffbd"/><stop offset="0.1125" stop-color="#00ffdf"/><stop offset="0.1187" stop-color="#00f9ff"/><stop offset="0.1313" stop-color="#00c8ff"/><stop offset="0.15" stop-color="#009cff"/><stop offset="0.175" stop-color="#007aff"/><stop offset="0.1938" stop-color="#006eff"/><stop offset="0.2313" stop-color="#0060ff"/><stop offset="0.425" stop-color="#003fff"/><stop offset="0.55" stop-color="#002bff"/><stop offset="0.875" stop-color="#000dfe"/><stop offset="1" stop-color="#0007fc"/></linearGradient><linearGradient id="c32" x1="0" y1="1" x2="0" y2="0"><stop offset="0" stop-color="#0ff105"/><stop offset="0.025" stop-color="#16f000"/><stop offset="0.0375" stop-color="#1df100"/><stop offset="0.05" stop-color="#1af100"/><stop offset="0.0625" stop-color="#0df207"/><stop offset="0.075" stop-color="#00f516"/><stop offset="0.09375" stop-color="#00fb5d"/><stop offset="0.1" stop-color="#00fd78"/><stop offset="0.1062" stop-color="#00ff9a"/><stop offset="0.1125" stop-color="#00ffc1"/><stop offset="0.1187" stop-color="#00ffeb"/><stop offset="0.125" stop-color="#00efff"/><stop offset="0.1313" stop-color="#00d4ff"/><stop offset="0.1375" stop-color="#00beff"/><stop offset="0.15" stop-color="#009dff"/><stop offset="0.1625" stop-color="#0087ff"/><stop offset="0.1812" stop-color="#0072ff"/><stop offset="0.225" stop-color="#0060ff"/><stop offset="0.55" stop-color="#002cff"/><stop offset="0.875" stop-color="#000dfe"/><stop offset="1" stop-color="#0007fc"/></linearGradient><linearGradient id="c33" x1="0" y1="1" x2="0" y2="0"><stop offset="0" stop-color="#0df207"/><stop offset="0.05" stop-color="#13f001"/><stop offset="0.06875" stop-color="#0cf208"/><stop offset="0.0875" stop-color="#02f512"/><stop offset="0.09375" stop-color="#00f620"/><stop offset="0.1" stop-color="#00f83b"/><stop offset="0.1062" stop-color="#00fb60"/><stop offset="0.1187" stop-color="#00ffbb"/><stop offset="0.125" stop-color="#00ffed"/><stop offset="0.1313" stop-color="#00ebff"/><stop offset="0.1375" stop-color="#00ceff"/><stop offset="0.1437" stop-color="#00b7ff"/><stop offset="0.1562" stop-color="#0095ff"/><stop offset="0.1688" stop-color="#0080ff"/><stop offset="0.1875" stop-color="#006dff"/><stop offset="0.2313" stop-color="#005fff"/><stop offset="0.575" stop-color="#002aff"/><stop offset="0.875" stop-color="#000efe"/><stop offset="1" stop-color="#0007fc"/></linearGradient><linearGradient id="c34" x1="0" y1="1" x2="0" y2="0"><stop offset="0" stop-color="#0df207"/><stop offset="0.0625" stop-color="#11f103"/><stop offset="0.09375" stop-color="#0af30a"/><stop offset="0.1" stop-color="#05f40f"/><stop offset="0.1062" stop-color="#00f61f"/><stop offset="0.1125" stop-color="#00fa4e"/><stop offset="0.125" stop-color="#00ffbc"/><stop offset="0.1313" stop-color="#00fff4"/><stop offset="0.1375" stop-color="#00e4ff"/><stop offset="0.1437" stop-color="#00c7ff"/><stop offset="0.15" stop-color="#00afff"/><stop offset="0.1562" stop-color="#009cff"/><stop offset="0.1688" stop-color="#0082ff"/><stop offset="0.1875" stop-color="#006dff"/><stop offset="0.225" stop-color="#005fff"/><stop offset="0.4875" stop-color="#0037ff"/><stop offset="0.675" stop-color="#0020ff"/><stop offset="0.9" stop-color="#000dfe"/><stop offset="1" stop-color="#0007fc"/></linearGradient><linearGradient id="c35" x1="0" y1="1" x2="0" y2="0"><stop offset="0" stop-color="#0df207"/><stop offset="0.08125" stop-color="#11f103"/><stop offset="0.1" stop-color="#10f104"/><stop offset="0.1125" stop-color="#02f512"/><stop offset="0.1187" stop-color="#00f943"/><stop offset="0.125" stop-color="#00fe81"/><stop offset="0.1375" stop-color="#00fffb"/><stop offset="0.1437" stop-color="#00dfff"/><stop offset="0.15" stop-color="#00c1ff"/><stop offset="0.1562" stop-color="#00a9ff"/><stop offset="0.1625" stop-color="#0096ff"/><stop offset="0.175" stop-color="#007dff"/><stop offset="0.1938" stop-color="#006aff"/><stop offset="0.2313" stop-color="#005eff"/><stop offset="0.4813" stop-color="#0039ff"/><stop offset="0.6" stop-color="#0028ff"/><stop offset="0.9" stop-color="#000dfe"/><stop offset="1" stop-color="#0008fc"/></linearGradient><linearGradient id="c36" x1="0" y1="1" x2="0" y2="0"><stop offset="0" stop-color="#07f30d"/><stop offset="0.05625" stop-color="#11f103"/><stop offset="0.1062" stop-color="#10f104"/><stop offset="0.1187" stop-color="#03f411"/><stop offset="0.125" stop-color="#00f83c"/><stop offset="0.1375" stop-color="#00ffbc"/><stop offset="0.1437" stop-color="#00fff9"/><stop offset="0.15" stop-color="#00deff"/><stop offset="0.1562" stop-color="#00c0ff"/><stop offset="0.1625" stop-color="#00a7ff"/><stop offset="0.1688" stop-color="#0094ff"/><stop offset="0.1812" stop-color="#007bff"/><stop offset="0.1938" stop-color="#006dff"/><stop offset="0.225" stop-color="#0060ff"/><stop offset="0.4875" stop-color="#0039ff"/><stop offset="0.625" stop-color="#0026ff"/><stop offset="0.9" stop-color="#000dfe"/><stop offset="1" stop-color="#0008fd"/></linearGradient><linearGradient id="c37" x1="0" y1="1" x2="0" y2="0"><stop offset="0" stop-color="#00f72e"/><stop offset="0.00625" stop-color="#00f61e"/><stop offset="0.0125" stop-color="#01f513"/><stop offset="0.0625" stop-color="#10f104"/><stop offset="0.1125" stop-color="#11f103"/><stop offset="0.125" stop-color="#05f40f"/><stop offset="0.1313" stop-color="#00f835"/><stop offset="0.1437" stop-color="#00ffb8"/><stop offset="0.15" stop-color="#00fff8"/><stop offset="0.1562" stop-color="#00deff"/><stop offset="0.1625" stop-color="#00bfff"/><stop offset="0.1688" stop-color="#00a6ff"/><stop offset="0.175" stop-color="#0092ff"/><stop offset="0.1875" stop-color="#0079ff"/><stop offset="0.2062" stop-color="#0068ff"/><stop offset="0.2437" stop-color="#005dff"/><stop offset="0.4813" stop-color="#003bff"/><stop offset="0.6" stop-color="#0029ff"/><stop offset="0.9" stop-color="#000dfe"/><stop offset="1" stop-color="#0008fd"/></linearGradient><linearGradient id="c38" x1="0" y1="1" x2="0" y2="0"><stop offset="0" stop-color="#00fe7c"/><stop offset="0.025" stop-color="#00f72f"/><stop offset="0.03125" stop-color="#00f61d"/><stop offset="0.0375" stop-color="#01f513"/><stop offset="0.08125" stop-color="#10f104"/><stop offset="0.1187" stop-color="#12f102"/><stop offset="0.125" stop-color="#0ff105"/><stop offset="0.1313" stop-color="#07f30d"/><stop offset="0.1375" stop-color="#00f625"/><stop offset="0.15" stop-color="#00ffa9"/><stop offset="0.1562" stop-color="#00ffea"/><stop offset="0.1625" stop-color="#00e5ff"/><stop offset="0.1688" stop-color="#00c4ff"/><stop offset="0.175" stop-color="#00a9ff"/><stop offset="0.1812" stop-color="#0095ff"/><stop offset="0.1875" stop-color="#0085ff"/><stop offset="0.2" stop-color="#0073ff"/><stop offset="0.2188" stop-color="#0065ff"/><stop offset="0.275" stop-color="#0059ff"/><stop offset="0.4813" stop-color="#003cff"/><stop offset="0.6" stop-color="#002aff"/><stop offset="0.9" stop-color="#000efe"/><stop offset="1" stop-color="#0009fd"/></linearGradient><linearGradient id="c39" x1="0" y1="1" x2="0" y2="0"><stop offset="0" stop-color="#00ffd2"/><stop offset="0.025" stop-color="#00fd78"/><stop offset="0.05" stop-color="#00f624"/><stop offset="0.05625" stop-color="#00f514"/><stop offset="0.09375" stop-color="#0ff105"/><stop offset="0.125" stop-color="#12f102"/><stop offset="0.1313" stop-color="#10f104"/><stop offset="0.1437" stop-color="#00f514"/><stop offset="0.15" stop-color="#00fa4f"/><stop offset="0.1562" stop-color="#00ff92"/><stop offset="0.1625" stop-color="#00ffd5"/><stop offset="0.1688" stop-color="#00f2ff"/><stop offset="0.175" stop-color="#00ceff"/><stop offset="0.1812" stop-color="#00b1ff"/><stop offset="0.1875" stop-color="#009bff"/><stop offset="0.1938" stop-color="#008aff"/><stop offset="0.2062" stop-color="#0075ff"/><stop offset="0.225" stop-color="#0066ff"/><stop offset="0.275" stop-color="#0059ff"/><stop offset="0.4813" stop-color="#003dff"/><stop offset="0.6" stop-color="#002bff"/><stop offset="0.925" stop-color="#000dfe"/><stop offset="1" stop-color="#0009fd"/></linearGradient><linearGradient id="c40" x1="0" y1="1" x2="0" y2="0"><stop offset="0" stop-color="#00ffff"/><stop offset="0.03125" stop-color="#00ff92"/><stop offset="0.05625" stop-color="#00f83a"/><stop offset="0.06875" stop-color="#00f514"/><stop offset="0.1062" stop-color="#0ff105"/><stop offset="0.1375" stop-color="#10f104"/><stop offset="0.15" stop-color="#02f412"/><stop offset="0.1562" stop-color="#00f943"/><stop offset="0.1625" stop-color="#00ff87"/><stop offset="0.1688" stop-color="#00ffcb"/><stop offset="0.175" stop-color="#00f7ff"/><stop offset="0.1812" stop-color="#00d2ff"/><stop offset="0.1875" stop-color="#00b4ff"/><stop offset="0.1938" stop-color="#009cff"/><stop offset="0.2" stop-color="#008bff"/><stop offset="0.2125" stop-color="#0075ff"/><stop offset="0.2313" stop-color="#0066ff"/><stop offset="0.2875" stop-color="#0058ff"/><stop offset="0.475" stop-color="#0040ff"/><stop offset="0.575" stop-color="#002eff"/><stop offset="0.925" stop-color="#000dfe"/><stop offset="1" stop-color="#0009fd"/></linearGradient><linearGradient id="c41" x1="0" y1="1" x2="0" y2="0"><stop offset="0" stop-color="#00e9ff"/><stop offset="0.00625" stop-color="#00f5ff"/><stop offset="0.0125" stop-color="#00fffa"/><stop offset="0.05" stop-color="#00fd77"/><stop offset="0.075" stop-color="#00f624"/><stop offset="0.08125" stop-color="#00f514"/><stop offset="0.1187" stop-color="#0ef106"/><stop offset="0.1437" stop-color="#10f104"/><stop offset="0.15" stop-color="#0cf208"/><stop offset="0.1562" stop-color="#04f410"/><stop offset="0.1625" stop-color="#00f839"/><stop offset="0.1688" stop-color="#00fe7d"/><stop offset="0.175" stop-color="#00ffc3"/><stop offset="0.1812" stop-color="#00fbff"/><stop offset="0.1875" stop-color="#00d5ff"/><stop offset="0.1938" stop-color="#00b5ff"/><stop offset="0.2" stop-color="#009dff"/><stop offset="0.2062" stop-color="#008bff"/><stop offset="0.2188" stop-color="#0074ff"/><stop offset="0.2375" stop-color="#0065ff"/><stop offset="0.2938" stop-color="#0057ff"/><stop offset="0.4688" stop-color="#0042ff"/><stop offset="0.6" stop-color="#002cff"/><stop offset="0.925" stop-color="#000dfe"/><stop offset="1" stop-color="#0009fd"/></linearGradient><linearGradient id="c42" x1="0" y1="1" x2="0" y2="0"><stop offset="0" stop-color="#00d6ff"/><stop offset="0.01875" stop-color="#00f9ff"/><stop offset="0.025" stop-color="#00fff5"/><stop offset="0.0625" stop-color="#00fd73"/><stop offset="0.0875" stop-color="#00f621"/><stop offset="0.09375" stop-color="#01f513"/><stop offset="0.1313" stop-color="#0ef206"/><stop offset="0.1562" stop-color="#0df207"/><stop offset="0.1625" stop-color="#05f40f"/><stop offset="0.1688" stop-color="#00f72f"/><stop offset="0.175" stop-color="#00fd73"/><stop offset="0.1875" stop-color="#00fffe"/><stop offset="0.1938" stop-color="#00d8ff"/><stop offset="0.2" stop-color="#00b7ff"/><stop offset="0.2062" stop-color="#009eff"/><stop offset="0.2125" stop-color="#008bff"/><stop offset="0.225" stop-color="#0074ff"/><stop offset="0.2437" stop-color="#0065ff"/><stop offset="0.3" stop-color="#0057ff"/><stop offset="0.4562" stop-color="#0045ff"/><stop offset="0.6" stop-color="#002dff"/><stop offset="0.925" stop-color="#000efe"/><stop offset="1" stop-color="#000afd"/></linearGradient><linearGradient id="c43" x1="0" y1="1" x2="0" y2="0"><stop offset="0" stop-color="#00c0ff"/><stop offset="0.025" stop-color="#00eaff"/><stop offset="0.03125" stop-color="#00f7ff"/><stop offset="0.0375" stop-color="#00fff8"/><stop offset="0.075" stop-color="#00fd74"/><stop offset="0.09375" stop-color="#00f835"/><stop offset="0.1" stop-color="#00f622"/><stop offset="0.1062" stop-color="#01f513"/><stop offset="0.1437" stop-color="#0df207"/><stop offset="0.1625" stop-color="#0cf208"/><stop offset="0.1688" stop-color="#06f30e"/><stop offset="0.175" stop-color="#00f726"/><stop offset="0.1812" stop-color="#00fc67"/><stop offset="0.1938" stop-color="#00fff2"/><stop offset="0.2" stop-color="#00deff"/><stop offset="0.2062" stop-color="#00bcff"/><stop offset="0.2125" stop-color="#00a1ff"/><stop offset="0.2188" stop-color="#008dff"/><stop offset="0.225" stop-color="#007fff"/><stop offset="0.2375" stop-color="#006dff"/><stop offset="0.2562" stop-color="#0062ff"/><stop offset="0.3125" stop-color="#0055ff"/><stop offset="0.4562" stop-color="#0046ff"/><stop offset="0.6" stop-color="#002dff"/><stop offset="0.925" stop-color="#000efe"/><stop offset="1" stop-color="#000afd"/></linearGradient><linearGradient id="c44" x1="0" y1="1" x2="0" y2="0"><stop offset="0" stop-color="#00aaff"/><stop offset="0.025" stop-color="#00ceff"/><stop offset="0.05" stop-color="#00fffe"/><stop offset="0.0875" stop-color="#00fd77"/><stop offset="0.1062" stop-color="#00f837"/><stop offset="0.1187" stop-color="#00f514"/><stop offset="0.15" stop-color="#0af20a"/><stop offset="0.1688" stop-color="#0bf209"/><stop offset="0.175" stop-color="#07f30d"/><stop offset="0.1812" stop-color="#00f61f"/><stop offset="0.1875" stop-color="#00fb5c"/><stop offset="0.1938" stop-color="#00ffa0"/><stop offset="0.2" stop-color="#00ffe5"/><stop offset="0.2062" stop-color="#00e6ff"/><stop offset="0.2125" stop-color="#00c3ff"/><stop offset="0.2188" stop-color="#00a6ff"/><stop offset="0.225" stop-color="#0090ff"/><stop offset="0.2313" stop-color="#0080ff"/><stop offset="0.2437" stop-color="#006dff"/><stop offset="0.2625" stop-color="#0061ff"/><stop offset="0.3063" stop-color="#0056ff"/><stop offset="0.4562" stop-color="#0047ff"/><stop offset="0.6" stop-color="#002eff"/><stop offset="0.925" stop-color="#000efe"/><stop offset="1" stop-color="#000afd"/></linearGradient><linearGradient id="c45" x1="0" y1="1" x2="0" y2="0"><stop offset="0" stop-color="#0097ff"/><stop offset="0.025" stop-color="#00b4ff"/><stop offset="0.05" stop-color="#00dfff"/><stop offset="0.0625" stop-color="#00fbff"/><stop offset="0.06875" stop-color="#00fff0"/><stop offset="0.1" stop-color="#00fe7a"/><stop offset="0.1187" stop-color="#00f83a"/><stop offset="0.1313" stop-color="#00f516"/><stop offset="0.15" stop-color="#07f30d"/><stop offset="0.175" stop-color="#09f30b"/><stop offset="0.1812" stop-color="#06f30e"/><stop offset="0.1875" stop-color="#00f61a"/><stop offset="0.1938" stop-color="#00fa52"/><stop offset="0.2" stop-color="#00ff93"/><stop offset="0.2062" stop-color="#00ffd8"/><stop offset="0.2125" stop-color="#00eeff"/><stop offset="0.2188" stop-color="#00c9ff"/><stop offset="0.225" stop-color="#00aaff"/><stop offset="0.2313" stop-color="#0093ff"/><stop offset="0.2375" stop-color="#0082ff"/><stop offset="0.25" stop-color="#006dff"/><stop offset="0.2687" stop-color="#0060ff"/><stop offset="0.3125" stop-color="#0055ff"/><stop offset="0.45" stop-color="#0049ff"/><stop offset="0.6" stop-color="#002fff"/><stop offset="0.95" stop-color="#000dfe"/><stop offset="1" stop-color="#000bfd"/></linearGradient><linearGradient id="c46" x1="0" y1="1" x2="0" y2="0"><stop offset="0" stop-color="#0089ff"/><stop offset="0.025" stop-color="#009eff"/><stop offset="0.04375" stop-color="#00b7ff"/><stop offset="0.06875" stop-color="#00e7ff"/><stop offset="0.075" stop-color="#00f5ff"/><stop offset="0.08125" stop-color="#00fff8"/><stop offset="0.1187" stop-color="#00fc6b"/><stop offset="0.1375" stop-color="#00f730"/><stop offset="0.15" stop-color="#00f514"/><stop offset="0.1812" stop-color="#06f40e"/><stop offset="0.1875" stop-color="#04f410"/><stop offset="0.1938" stop-color="#00f61d"/><stop offset="0.2" stop-color="#00fa4f"/><stop offset="0.2062" stop-color="#00ff8d"/><stop offset="0.2125" stop-color="#00ffd0"/><stop offset="0.2188" stop-color="#00f4ff"/><stop offset="0.225" stop-color="#00cdff"/><stop offset="0.2313" stop-color="#00aeff"/><stop offset="0.2375" stop-color="#0095ff"/><stop offset="0.2437" stop-color="#0083ff"/><stop offset="0.25" stop-color="#0076ff"/><stop offset="0.2625" stop-color="#0066ff"/><stop offset="0.2875" stop-color="#0059ff"/><stop offset="0.3563" stop-color="#0051ff"/><stop offset="0.45" stop-color="#004aff"/><stop offset="0.6" stop-color="#002fff"/><stop offset="0.95" stop-color="#000dfe"/><stop offset="1" stop-color="#000bfd"/></linearGradient><linearGradient id="c47" x1="0" y1="1" x2="0" y2="0"><stop offset="0" stop-color="#007dff"/><stop offset="0.03125" stop-color="#0092ff"/><stop offset="0.05625" stop-color="#00b1ff"/><stop offset="0.08125" stop-color="#00e0ff"/><stop offset="0.09375" stop-color="#00fdff"/><stop offset="0.1062" stop-color="#00ffd4"/><stop offset="0.1313" stop-color="#00fd7a"/><stop offset="0.15" stop-color="#00f943"/><stop offset="0.1625" stop-color="#00f72a"/><stop offset="0.175" stop-color="#00f61b"/><stop offset="0.1875" stop-color="#00f516"/><stop offset="0.1938" stop-color="#00f519"/><stop offset="0.2" stop-color="#00f72f"/><stop offset="0.2062" stop-color="#00fb5a"/><stop offset="0.2125" stop-color="#00ff92"/><stop offset="0.2188" stop-color="#00ffd1"/><stop offset="0.225" stop-color="#00f4ff"/><stop offset="0.2313" stop-color="#00cfff"/><stop offset="0.2375" stop-color="#00afff"/><stop offset="0.2437" stop-color="#0095ff"/><stop offset="0.25" stop-color="#0083ff"/><stop offset="0.2562" stop-color="#0075ff"/><stop offset="0.2687" stop-color="#0065ff"/><stop offset="0.2875" stop-color="#0059ff"/><stop offset="0.3375" stop-color="#0052ff"/><stop offset="0.4437" stop-color="#004dff"/><stop offset="0.625" stop-color="#002dff"/><stop offset="0.95" stop-color="#000efe"/><stop offset="1" stop-color="#000bfd"/></linearGradient><linearGradient id="c48" x1="0" y1="1" x2="0" y2="0"><stop offset="0" stop-color="#0073ff"/><stop offset="0.03125" stop-color="#0082ff"/><stop offset="0.05625" stop-color="#0099ff"/><stop offset="0.075" stop-color="#00b5ff"/><stop offset="0.1" stop-color="#00e7ff"/><stop offset="0.1062" stop-color="#00f5ff"/><stop offset="0.1125" stop-color="#00fff7"/><stop offset="0.1375" stop-color="#00ff9f"/><stop offset="0.1562" stop-color="#00fc67"/><stop offset="0.1688" stop-color="#00fa4c"/><stop offset="0.1812" stop-color="#00f83c"/><stop offset="0.1938" stop-color="#00f835"/><stop offset="0.2" stop-color="#00f835"/><stop offset="0.2062" stop-color="#00f944"/><stop offset="0.2125" stop-color="#00fc68"/><stop offset="0.2188" stop-color="#00ff9a"/><stop offset="0.225" stop-color="#00ffd4"/><stop offset="0.2313" stop-color="#00f4ff"/><stop offset="0.2375" stop-color="#00cfff"/><stop offset="0.2437" stop-color="#00afff"/><stop offset="0.25" stop-color="#0095ff"/><stop offset="0.2562" stop-color="#0082ff"/><stop offset="0.2625" stop-color="#0074ff"/><stop offset="0.275" stop-color="#0062ff"/><stop offset="0.2938" stop-color="#0058ff"/><stop offset="0.3438" stop-color="#0051ff"/><stop offset="0.4375" stop-color="#004fff"/><stop offset="0.625" stop-color="#002eff"/><stop offset="0.95" stop-color="#000efe"/><stop offset="1" stop-color="#000bfe"/></linearGradient><linearGradient id="c49" x1="0" y1="1" x2="0" y2="0"><stop offset="0" stop-color="#006bff"/><stop offset="0.0375" stop-color="#0078ff"/><stop offset="0.0625" stop-color="#008cff"/><stop offset="0.08125" stop-color="#00a4ff"/><stop offset="0.1062" stop-color="#00d2ff"/><stop offset="0.125" stop-color="#00fcff"/><stop offset="0.1313" stop-color="#00ffee"/><stop offset="0.1562" stop-color="#00ff9c"/><stop offset="0.1688" stop-color="#00fe7c"/><stop offset="0.1812" stop-color="#00fc65"/><stop offset="0.1938" stop-color="#00fb57"/><stop offset="0.2062" stop-color="#00fa53"/><stop offset="0.2125" stop-color="#00fb5c"/><stop offset="0.2188" stop-color="#00fd78"/><stop offset="0.225" stop-color="#00ffa4"/><stop offset="0.2313" stop-color="#00ffda"/><stop offset="0.2375" stop-color="#00f2ff"/><stop offset="0.2437" stop-color="#00ceff"/><stop offset="0.25" stop-color="#00afff"/><stop offset="0.2562" stop-color="#0095ff"/><stop offset="0.2625" stop-color="#0081ff"/><stop offset="0.2687" stop-color="#0072ff"/><stop offset="0.2812" stop-color="#0060ff"/><stop offset="0.3" stop-color="#0056ff"/><stop offset="0.35" stop-color="#0051ff"/><stop offset="0.4375" stop-color="#0050ff"/><stop offset="0.625" stop-color="#002eff"/><stop offset="0.975" stop-color="#000dfe"/><stop offset="1" stop-color="#000cfe"/></linearGradient><linearGradient id="c50" x1="0" y1="1" x2="0" y2="0"><stop offset="0" stop-color="#0065ff"/><stop offset="0.04375" stop-color="#0071ff"/><stop offset="0.06875" stop-color="#0081ff"/><stop offset="0.09375" stop-color="#009fff"/><stop offset="0.1187" stop-color="#00caff"/><stop offset="0.1437" stop-color="#00feff"/><stop offset="0.1688" stop-color="#00ffb8"/><stop offset="0.1812" stop-color="#00ff9c"/><stop offset="0.1938" stop-color="#00ff88"/><stop offset="0.2062" stop-color="#00fe7e"/><stop offset="0.2125" stop-color="#00fe7c"/><stop offset="0.2188" stop-color="#00fe7f"/><stop offset="0.225" stop-color="#00ff93"/><stop offset="0.2313" stop-color="#00ffb7"/><stop offset="0.2375" stop-color="#00ffe6"/><stop offset="0.2437" stop-color="#00edff"/><stop offset="0.2562" stop-color="#00adff"/><stop offset="0.2625" stop-color="#0094ff"/><stop offset="0.2687" stop-color="#0080ff"/><stop offset="0.275" stop-color="#0071ff"/><stop offset="0.2812" stop-color="#0066ff"/><stop offset="0.2938" stop-color="#005aff"/><stop offset="0.325" stop-color="#0051ff"/><stop offset="0.4375" stop-color="#0051ff"/><stop offset="0.625" stop-color="#002fff"/><stop offset="0.975" stop-color="#000dfe"/><stop offset="1" stop-color="#000cfe"/></linearGradient><linearGradient id="c51" x1="0" y1="1" x2="0" y2="0"><stop offset="0" stop-color="#005fff"/><stop offset="0.05" stop-color="#006aff"/><stop offset="0.08125" stop-color="#007dff"/><stop offset="0.1062" stop-color="#009aff"/><stop offset="0.1313" stop-color="#00c5ff"/><stop offset="0.1562" stop-color="#00f9ff"/><stop offset="0.1625" stop-color="#00fff3"/><stop offset="0.1688" stop-color="#00ffe1"/><stop offset="0.1875" stop-color="#00ffbd"/><stop offset="0.2062" stop-color="#00ffa8"/><stop offset="0.2188" stop-color="#00ffa3"/><stop offset="0.225" stop-color="#00ffa4"/><stop offset="0.2313" stop-color="#00ffb1"/><stop offset="0.2375" stop-color="#00ffcd"/><stop offset="0.2437" stop-color="#00fff5"/><stop offset="0.25" stop-color="#00e7ff"/><stop offset="0.2625" stop-color="#00abff"/><stop offset="0.2687" stop-color="#0092ff"/><stop offset="0.275" stop-color="#007eff"/><stop offset="0.2812" stop-color="#006fff"/><stop offset="0.2938" stop-color="#005dff"/><stop offset="0.3125" stop-color="#0053ff"/><stop offset="0.3625" stop-color="#0051ff"/><stop offset="0.4313" stop-color="#0053ff"/><stop offset="0.625" stop-color="#0030ff"/><stop offset="0.975" stop-color="#000efe"/><stop offset="1" stop-color="#000cfe"/></linearGradient><linearGradient id="c52" x1="0" y1="1" x2="0" y2="0"><stop offset="0" stop-color="#005aff"/><stop offset="0.05625" stop-color="#0063ff"/><stop offset="0.0875" stop-color="#0074ff"/><stop offset="0.1125" stop-color="#008eff"/><stop offset="0.1313" stop-color="#00acff"/><stop offset="0.1562" stop-color="#00e3ff"/><stop offset="0.1688" stop-color="#00fffc"/><stop offset="0.1875" stop-color="#00ffe4"/><stop offset="0.2125" stop-color="#00ffce"/><stop offset="0.2313" stop-color="#00ffcb"/><stop offset="0.2375" stop-color="#00ffd2"/><stop offset="0.2437" stop-color="#00ffe7"/><stop offset="0.25" stop-color="#00f9ff"/><stop offset="0.2687" stop-color="#00a7ff"/><stop offset="0.275" stop-color="#008fff"/><stop offset="0.2812" stop-color="#007cff"/><stop offset="0.2875" stop-color="#006dff"/><stop offset="0.3" stop-color="#005cff"/><stop offset="0.3187" stop-color="#0052ff"/><stop offset="0.375" stop-color="#0052ff"/><stop offset="0.4313" stop-color="#0054ff"/><stop offset="0.65" stop-color="#002dff"/><stop offset="0.975" stop-color="#000efe"/><stop offset="1" stop-color="#000dfe"/></linearGradient><linearGradient id="c53" x1="0" y1="1" x2="0" y2="0"><stop offset="0" stop-color="#0056ff"/><stop offset="0.0625" stop-color="#005dff"/><stop offset="0.09375" stop-color="#006cff"/><stop offset="0.1125" stop-color="#007eff"/><stop offset="0.1313" stop-color="#0099ff"/><stop offset="0.15" stop-color="#00c3ff"/><stop offset="0.1688" stop-color="#00f4ff"/><stop offset="0.1938" stop-color="#00fffd"/><stop offset="0.225" stop-color="#00ffe5"/><stop offset="0.2437" stop-color="#00ffe2"/><stop offset="0.25" stop-color="#00ffeb"/><stop offset="0.2562" stop-color="#00feff"/><stop offset="0.2687" stop-color="#00cfff"/><stop offset="0.2812" stop-color="#009bff"/><stop offset="0.2938" stop-color="#0076ff"/><stop offset="0.3063" stop-color="#0060ff"/><stop offset="0.325" stop-color="#0054ff"/><stop offset="0.3688" stop-color="#0052ff"/><stop offset="0.425" stop-color="#0055ff"/><stop offset="0.65" stop-color="#002eff"/><stop offset="0.975" stop-color="#000efe"/><stop offset="1" stop-color="#000dfe"/></linearGradient><linearGradient id="c54" x1="0" y1="1" x2="0" y2="0"><stop offset="0" stop-color="#0052ff"/><stop offset="0.06875" stop-color="#0058ff"/><stop offset="0.1" stop-color="#0066ff"/><stop offset="0.1187" stop-color="#0078ff"/><stop offset="0.1375" stop-color="#0098ff"/><stop offset="0.1562" stop-color="#00c8ff"/><stop offset="0.1688" stop-color="#00ecff"/><stop offset="0.1938" stop-color="#00eeff"/><stop offset="0.2188" stop-color="#00fcff"/><stop offset="0.2437" stop-color="#00ffef"/><stop offset="0.2562" stop-color="#00ffec"/><stop offset="0.2625" stop-color="#00fff2"/><stop offset="0.2687" stop-color="#00fbff"/><stop offset="0.275" stop-color="#00e7ff"/><stop offset="0.2938" stop-color="#009eff"/><stop offset="0.3063" stop-color="#0078ff"/><stop offset="0.3187" stop-color="#0062ff"/><stop offset="0.3312" stop-color="#0058ff"/><stop offset="0.3625" stop-color="#0053ff"/><stop offset="0.425" stop-color="#0056ff"/><stop offset="0.65" stop-color="#002fff"/><stop offset="1" stop-color="#000dfe"/></linearGradient><linearGradient id="c55" x1="0" y1="1" x2="0" y2="0"><stop offset="0" stop-color="#004fff"/><stop offset="0.075" stop-color="#0054ff"/><stop offset="0.1" stop-color="#005fff"/><stop offset="0.1187" stop-color="#0070ff"/><stop offset="0.1375" stop-color="#0090ff"/><stop offset="0.15" stop-color="#00b1ff"/><stop offset="0.1688" stop-color="#00ebff"/><stop offset="0.1938" stop-color="#00ddff"/><stop offset="0.2125" stop-color="#00e2ff"/><stop offset="0.25" stop-color="#00ffff"/><stop offset="0.2687" stop-color="#00fff6"/><stop offset="0.275" stop-color="#00fff9"/><stop offset="0.2812" stop-color="#00f8ff"/><stop offset="0.2875" stop-color="#00e7ff"/><stop offset="0.3125" stop-color="#008dff"/><stop offset="0.325" stop-color="#006eff"/><stop offset="0.3375" stop-color="#005eff"/><stop offset="0.3563" stop-color="#0056ff"/><stop offset="0.4375" stop-color="#0057ff"/><stop offset="0.65" stop-color="#002fff"/><stop offset="1" stop-color="#000dfe"/></linearGradient><linearGradient id="c56" x1="0" y1="1" x2="0" y2="0"><stop offset="0" stop-color="#004cff"/><stop offset="0.075" stop-color="#0050ff"/><stop offset="0.1" stop-color="#005aff"/><stop offset="0.1187" stop-color="#006bff"/><stop offset="0.1313" stop-color="#007fff"/><stop offset="0.1437" stop-color="#009dff"/><stop offset="0.1688" stop-color="#00efff"/><stop offset="0.1938" stop-color="#00cfff"/><stop offset="0.2062" stop-color="#00cbff"/><stop offset="0.225" stop-color="#00d5ff"/><stop offset="0.2625" stop-color="#00f7ff"/><stop offset="0.2812" stop-color="#00ffff"/><stop offset="0.2875" stop-color="#00fffe"/><stop offset="0.2938" stop-color="#00f8ff"/><stop offset="0.3" stop-color="#00e9ff"/><stop offset="0.325" stop-color="#0091ff"/><stop offset="0.3375" stop-color="#0072ff"/><stop offset="0.35" stop-color="#0061ff"/><stop offset="0.3688" stop-color="#0059ff"/><stop offset="0.4375" stop-color="#0058ff"/><stop offset="0.65" stop-color="#0030ff"/><stop offset="1" stop-color="#000efe"/></linearGradient><linearGradient id="c57" x1="0" y1="1" x2="0" y2="0"><stop offset="0" stop-color="#004bff"/><stop offset="0.075" stop-color="#004eff"/><stop offset="0.1" stop-color="#0058ff"/><stop offset="0.1187" stop-color="#006bff"/><stop offset="0.1313" stop-color="#0081ff"/><stop offset="0.1437" stop-color="#00a2ff"/><stop offset="0.1625" stop-color="#00e4ff"/><stop offset="0.1688" stop-color="#00edff"/><stop offset="0.1875" stop-color="#00c8ff"/><stop offset="0.2" stop-color="#00baff"/><stop offset="0.2125" stop-color="#00b8ff"/><stop offset="0.2313" stop-color="#00c5ff"/><stop offset="0.2687" stop-color="#00eeff"/><stop offset="0.2938" stop-color="#00feff"/><stop offset="0.3" stop-color="#00feff"/><stop offset="0.3063" stop-color="#00f6ff"/><stop offset="0.3125" stop-color="#00e7ff"/><stop offset="0.3375" stop-color="#0090ff"/><stop offset="0.35" stop-color="#0072ff"/><stop offset="0.3625" stop-color="#0063ff"/><stop offset="0.3812" stop-color="#005cff"/><stop offset="0.4437" stop-color="#0058ff"/><stop offset="0.65" stop-color="#0031ff"/><stop offset="1" stop-color="#000efe"/></linearGradient><linearGradient id="c58" x1="0" y1="1" x2="0" y2="0"><stop offset="0" stop-color="#004aff"/><stop offset="0.06875" stop-color="#004cff"/><stop offset="0.09375" stop-color="#0055ff"/><stop offset="0.1125" stop-color="#0066ff"/><stop offset="0.125" stop-color="#007bff"/><stop offset="0.1375" stop-color="#009aff"/><stop offset="0.1562" stop-color="#00dbff"/><stop offset="0.1625" stop-color="#00ecff"/><stop offset="0.1812" stop-color="#00c1ff"/><stop offset="0.1938" stop-color="#00adff"/><stop offset="0.2062" stop-color="#00a6ff"/><stop offset="0.2188" stop-color="#00aaff"/><stop offset="0.2437" stop-color="#00c3ff"/><stop offset="0.275" stop-color="#00e9ff"/><stop offset="0.3" stop-color="#00fdff"/><stop offset="0.3063" stop-color="#00fffe"/><stop offset="0.3125" stop-color="#00fdff"/><stop offset="0.3187" stop-color="#00f2ff"/><stop offset="0.3312" stop-color="#00caff"/><stop offset="0.3438" stop-color="#009dff"/><stop offset="0.3563" stop-color="#007cff"/><stop offset="0.3688" stop-color="#0068ff"/><stop offset="0.3875" stop-color="#005eff"/><stop offset="0.4562" stop-color="#0057ff"/><stop offset="0.675" stop-color="#002eff"/><stop offset="1" stop-color="#000efe"/></linearGradient><linearGradient id="c59" x1="0" y1="1" x2="0" y2="0"><stop offset="0" stop-color="#004aff"/><stop offset="0.06875" stop-color="#004cff"/><stop offset="0.09375" stop-color="#0056ff"/><stop offset="0.1125" stop-color="#006aff"/><stop offset="0.125" stop-color="#0081ff"/><stop offset="0.1375" stop-color="#00a3ff"/><stop offset="0.1562" stop-color="#00e4ff"/><stop offset="0.1625" stop-color="#00deff"/><stop offset="0.1812" stop-color="#00aeff"/><stop offset="0.1938" stop-color="#009cff"/><stop offset="0.2062" stop-color="#0097ff"/><stop offset="0.225" stop-color="#009fff"/><stop offset="0.2562" stop-color="#00c5ff"/><stop offset="0.2938" stop-color="#00f3ff"/><stop offset="0.3125" stop-color="#00fffe"/><stop offset="0.3187" stop-color="#00fffd"/><stop offset="0.325" stop-color="#00faff"/><stop offset="0.3312" stop-color="#00ecff"/><stop offset="0.3563" stop-color="#0097ff"/><stop offset="0.3688" stop-color="#0079ff"/><stop offset="0.3812" stop-color="#0068ff"/><stop offset="0.4" stop-color="#0060ff"/><stop offset="0.4875" stop-color="#0051ff"/><stop offset="0.675" stop-color="#002fff"/><stop offset="1" stop-color="#000fff"/></linearGradient><linearGradient id="c60" x1="0" y1="1" x2="0" y2="0"><stop offset="0" stop-color="#0049ff"/><stop offset="0.06875" stop-color="#004dff"/><stop offset="0.09375" stop-color="#0057ff"/><stop offset="0.1125" stop-color="#006dff"/><stop offset="0.125" stop-color="#0086ff"/><stop offset="0.1375" stop-color="#00a9ff"/><stop offset="0.15" stop-color="#00d3ff"/><stop offset="0.1562" stop-color="#00dbff"/><stop offset="0.175" stop-color="#00aaff"/><stop offset="0.1875" stop-color="#0093ff"/><stop offset="0.2" stop-color="#008aff"/><stop offset="0.2125" stop-color="#008aff"/><stop offset="0.2313" stop-color="#0098ff"/><stop offset="0.3" stop-color="#00f1ff"/><stop offset="0.3187" stop-color="#00ffff"/><stop offset="0.325" stop-color="#00fffb"/><stop offset="0.3312" stop-color="#00fffd"/><stop offset="0.3375" stop-color="#00f7ff"/><stop offset="0.3438" stop-color="#00e6ff"/><stop offset="0.3688" stop-color="#0092ff"/><stop offset="0.3812" stop-color="#0076ff"/><stop offset="0.3937" stop-color="#0069ff"/><stop offset="0.4313" stop-color="#005dff"/><stop offset="0.675" stop-color="#0030ff"/><stop offset="1" stop-color="#000fff"/></linearGradient><linearGradient id="c61" x1="0" y1="1" x2="0" y2="0"><stop offset="0" stop-color="#0049ff"/><stop offset="0.0625" stop-color="#004bff"/><stop offset="0.0875" stop-color="#0054ff"/><stop offset="0.1062" stop-color="#0066ff"/><stop offset="0.1187" stop-color="#007cff"/><stop offset="0.1313" stop-color="#009bff"/><stop offset="0.15" stop-color="#00d4ff"/><stop offset="0.1562" stop-color="#00c8ff"/><stop offset="0.175" stop-color="#0097ff"/><stop offset="0.1875" stop-color="#0083ff"/><stop offset="0.2" stop-color="#007bff"/><stop offset="0.2188" stop-color="#007eff"/><stop offset="0.2437" stop-color="#0095ff"/><stop offset="0.3063" stop-color="#00ebff"/><stop offset="0.325" stop-color="#00fbff"/><stop offset="0.3375" stop-color="#00fffc"/><stop offset="0.3438" stop-color="#00fdff"/><stop offset="0.35" stop-color="#00f1ff"/><stop offset="0.3625" stop-color="#00caff"/><stop offset="0.375" stop-color="#009fff"/><stop offset="0.3875" stop-color="#007fff"/><stop offset="0.4" stop-color="#006eff"/><stop offset="0.425" stop-color="#0060ff"/><stop offset="0.675" stop-color="#0030ff"/><stop offset="1" stop-color="#000fff"/></linearGradient><linearGradient id="c62" x1="0" y1="1" x2="0" y2="0"><stop offset="0" stop-color="#0049ff"/><stop offset="0.0625" stop-color="#004bff"/><stop offset="0.0875" stop-color="#0055ff"/><stop offset="0.1062" stop-color="#0068ff"/><stop offset="0.1187" stop-color="#0080ff"/><stop offset="0.1313" stop-color="#00a0ff"/><stop offset="0.1437" stop-color="#00c5ff"/><stop offset="0.15" stop-color="#00c5ff"/><stop offset="0.1688" stop-color="#0093ff"/><stop offset="0.1812" stop-color="#007bff"/><stop offset="0.1938" stop-color="#006eff"/><stop offset="0.2125" stop-color="#006aff"/><stop offset="0.2313" stop-color="#0074ff"/><stop offset="0.2625" stop-color="#0096ff"/><stop offset="0.3187" stop-color="#00e6ff"/><stop offset="0.3375" stop-color="#00f6ff"/><stop offset="0.35" stop-color="#00fbff"/><stop offset="0.3563" stop-color="#00f7ff"/><stop offset="0.3625" stop-color="#00ebff"/><stop offset="0.375" stop-color="#00c4ff"/><stop offset="0.3875" stop-color="#009aff"/><stop offset="0.4" stop-color="#007dff"/><stop offset="0.4125" stop-color="#006cff"/><stop offset="0.4313" stop-color="#0061ff"/><stop offset="0.675" stop-color="#0031ff"/><stop offset="1" stop-color="#0010ff"/></linearGradient><linearGradient id="c63" x1="0" y1="1" x2="0" y2="0"><stop offset="0" stop-color="#0049ff"/><stop offset="0.0625" stop-color="#004bff"/><stop offset="0.0875" stop-color="#0055ff"/><stop offset="0.1062" stop-color="#006bff"/><stop offset="0.1187" stop-color="#0083ff"/><stop offset="0.1375" stop-color="#00b6ff"/><stop offset="0.1437" stop-color="#00c2ff"/><stop offset="0.1688" stop-color="#0083ff"/><stop offset="0.1812" stop-color="#006dff"/><stop offset="0.1938" stop-color="#0061ff"/><stop offset="0.2125" stop-color="#005dff"/><stop offset="0.2375" stop-color="#0069ff"/><stop offset="0.2625" stop-color="#0081ff"/><stop offset="0.2875" stop-color="#00a2ff"/><stop offset="0.325" stop-color="#00daff"/><stop offset="0.3438" stop-color="#00edff"/><stop offset="0.3625" stop-color="#00f6ff"/><stop offset="0.3688" stop-color="#00f1ff"/><stop offset="0.375" stop-color="#00e5ff"/><stop offset="0.4" stop-color="#0096ff"/><stop offset="0.4125" stop-color="#007aff"/><stop offset="0.425" stop-color="#006aff"/><stop offset="0.45" stop-color="#005fff"/><stop offset="0.675" stop-color="#0032ff"/><stop offset="1" stop-color="#0010ff"/></linearGradient><linearGradient id="c64" x1="0" y1="1" x2="0" y2="0"><stop offset="0" stop-color="#0048ff"/><stop offset="0.0625" stop-color="#004bff"/><stop offset="0.0875" stop-color="#0057ff"/><stop offset="0.1062" stop-color="#006eff"/><stop offset="0.1187" stop-color="#0088ff"/><stop offset="0.1375" stop-color="#00b8ff"/><stop offset="0.1437" stop-color="#00b2ff"/><stop offset="0.1625" stop-color="#0083ff"/><stop offset="0.175" stop-color="#006bff"/><stop offset="0.1875" stop-color="#005cff"/><stop offset="0.2062" stop-color="#0054ff"/><stop offset="0.2313" stop-color="#0058ff"/><stop offset="0.2562" stop-color="#0068ff"/><stop offset="0.2812" stop-color="#0082ff"/><stop offset="0.3375" stop-color="#00d5ff"/><stop offset="0.3563" stop-color="#00e8ff"/><stop offset="0.375" stop-color="#00f0ff"/><stop offset="0.3812" stop-color="#00ebff"/><stop offset="0.3875" stop-color="#00deff"/><stop offset="0.4125" stop-color="#0090ff"/><stop offset="0.425" stop-color="#0076ff"/><stop offset="0.4375" stop-color="#0068ff"/><stop offset="0.4625" stop-color="#005eff"/><stop offset="0.675" stop-color="#0033ff"/><stop offset="1" stop-color="#0010ff"/></linearGradient><linearGradient id="c65" x1="0" y1="1" x2="0" y2="0"><stop offset="0" stop-color="#0048ff"/><stop offset="0.05625" stop-color="#004aff"/><stop offset="0.08125" stop-color="#0053ff"/><stop offset="0.1" stop-color="#0067ff"/><stop offset="0.1125" stop-color="#007dff"/><stop offset="0.1313" stop-color="#00abff"/><stop offset="0.1375" stop-color="#00b1ff"/><stop offset="0.1625" stop-color="#0075ff"/><stop offset="0.175" stop-color="#0061ff"/><stop offset="0.1938" stop-color="#0050ff"/><stop offset="0.2188" stop-color="#004cff"/><stop offset="0.25" stop-color="#0055ff"/><stop offset="0.2812" stop-color="#006dff"/><stop offset="0.3438" stop-color="#00c3ff"/><stop offset="0.3625" stop-color="#00d4ff"/><stop offset="0.3812" stop-color="#00dbff"/><stop offset="0.3875" stop-color="#00d4ff"/><stop offset="0.4" stop-color="#00b7ff"/><stop offset="0.4188" stop-color="#0084ff"/><stop offset="0.4313" stop-color="#006fff"/><stop offset="0.45" stop-color="#0062ff"/><stop offset="0.675" stop-color="#0034ff"/><stop offset="0.95" stop-color="#0016ff"/><stop offset="1" stop-color="#0011ff"/></linearGradient><linearGradient id="c66" x1="0" y1="1" x2="0" y2="0"><stop offset="0" stop-color="#0048ff"/><stop offset="0.05625" stop-color="#004bff"/><stop offset="0.08125" stop-color="#0058ff"/><stop offset="0.1" stop-color="#0071ff"/><stop offset="0.125" stop-color="#00a8ff"/><stop offset="0.1313" stop-color="#00a6ff"/><stop offset="0.1562" stop-color="#006dff"/><stop offset="0.175" stop-color="#0054ff"/><stop offset="0.1938" stop-color="#0049ff"/><stop offset="0.225" stop-color="#0046ff"/><stop offset="0.2625" stop-color="#0050ff"/><stop offset="0.2875" stop-color="#0062ff"/><stop offset="0.3563" stop-color="#00b7ff"/><stop offset="0.375" stop-color="#00c4ff"/><stop offset="0.3875" stop-color="#00c5ff"/><stop offset="0.3937" stop-color="#00bdff"/><stop offset="0.4125" stop-color="#0093ff"/><stop offset="0.425" stop-color="#0079ff"/><stop offset="0.4375" stop-color="#006aff"/><stop offset="0.4562" stop-color="#0060ff"/><stop offset="0.7" stop-color="#0030ff"/><stop offset="1" stop-color="#0012ff"/></linearGradient><linearGradient id="c67" x1="0" y1="1" x2="0" y2="0"><stop offset="0" stop-color="#0049ff"/><stop offset="0.05" stop-color="#004dff"/><stop offset="0.06875" stop-color="#0056ff"/><stop offset="0.0875" stop-color="#006cff"/><stop offset="0.1125" stop-color="#009fff"/><stop offset="0.1187" stop-color="#00a3ff"/><stop offset="0.1437" stop-color="#006dff"/><stop offset="0.1625" stop-color="#0054ff"/><stop offset="0.1875" stop-color="#0045ff"/><stop offset="0.2313" stop-color="#0042ff"/><stop offset="0.2687" stop-color="#004aff"/><stop offset="0.2875" stop-color="#0055ff"/><stop offset="0.325" stop-color="#007dff"/><stop offset="0.3625" stop-color="#00a7ff"/><stop offset="0.3812" stop-color="#00b2ff"/><stop offset="0.3875" stop-color="#00b3ff"/><stop offset="0.3937" stop-color="#00b0ff"/><stop offset="0.4062" stop-color="#009dff"/><stop offset="0.425" stop-color="#0079ff"/><stop offset="0.4375" stop-color="#006aff"/><stop offset="0.4562" stop-color="#0060ff"/><stop offset="0.725" stop-color="#002eff"/><stop offset="1" stop-color="#0012ff"/></linearGradient><linearGradient id="c68" x1="0" y1="1" x2="0" y2="0"><stop offset="0" stop-color="#0049ff"/><stop offset="0.04375" stop-color="#004eff"/><stop offset="0.0625" stop-color="#005aff"/><stop offset="0.08125" stop-color="#0072ff"/><stop offset="0.1" stop-color="#0097ff"/><stop offset="0.1062" stop-color="#00a0ff"/><stop offset="0.1313" stop-color="#006eff"/><stop offset="0.15" stop-color="#0054ff"/><stop offset="0.175" stop-color="#0045ff"/><stop offset="0.2188" stop-color="#0040ff"/><stop offset="0.2687" stop-color="#0046ff"/><stop offset="0.2875" stop-color="#004fff"/><stop offset="0.3187" stop-color="#006cff"/><stop offset="0.3625" stop-color="#009dff"/><stop offset="0.3812" stop-color="#00a8ff"/><stop offset="0.3875" stop-color="#00a9ff"/><stop offset="0.4" stop-color="#009fff"/><stop offset="0.425" stop-color="#0075ff"/><stop offset="0.4437" stop-color="#0064ff"/><stop offset="0.4813" stop-color="#005bff"/><stop offset="0.725" stop-color="#002fff"/><stop offset="1" stop-color="#0013ff"/></linearGradient><linearGradient id="c69" x1="0" y1="1" x2="0" y2="0"><stop offset="0" stop-color="#0049ff"/><stop offset="0.0375" stop-color="#004fff"/><stop offset="0.05625" stop-color="#005cff"/><stop offset="0.075" stop-color="#0075ff"/><stop offset="0.09375" stop-color="#0097ff"/><stop offset="0.1" stop-color="#0094ff"/><stop offset="0.125" stop-color="#0065ff"/><stop offset="0.1437" stop-color="#0050ff"/><stop offset="0.1688" stop-color="#0043ff"/><stop offset="0.2125" stop-color="#003eff"/><stop offset="0.2687" stop-color="#0043ff"/><stop offset="0.2875" stop-color="#004aff"/><stop offset="0.3187" stop-color="#0064ff"/><stop offset="0.3625" stop-color="#0092ff"/><stop offset="0.3812" stop-color="#009eff"/><stop offset="0.3937" stop-color="#009cff"/><stop offset="0.4062" stop-color="#008eff"/><stop offset="0.425" stop-color="#0072ff"/><stop offset="0.4437" stop-color="#0063ff"/><stop offset="0.4875" stop-color="#005bff"/><stop offset="0.725" stop-color="#002fff"/><stop offset="1" stop-color="#0013ff"/></linearGradient><linearGradient id="c70" x1="0" y1="1" x2="0" y2="0"><stop offset="0" stop-color="#004aff"/><stop offset="0.0375" stop-color="#0051ff"/><stop offset="0.05625" stop-color="#005eff"/><stop offset="0.075" stop-color="#0077ff"/><stop offset="0.0875" stop-color="#008bff"/><stop offset="0.09375" stop-color="#0089ff"/><stop offset="0.1187" stop-color="#0061ff"/><stop offset="0.1375" stop-color="#004eff"/><stop offset="0.1688" stop-color="#0042ff"/><stop offset="0.2313" stop-color="#003eff"/><stop offset="0.2812" stop-color="#0043ff"/><stop offset="0.3125" stop-color="#0058ff"/><stop offset="0.3625" stop-color="#0088ff"/><stop offset="0.3812" stop-color="#0091ff"/><stop offset="0.3937" stop-color="#008fff"/><stop offset="0.4125" stop-color="#007aff"/><stop offset="0.4313" stop-color="#0067ff"/><stop offset="0.4562" stop-color="#005eff"/><stop offset="0.525" stop-color="#0056ff"/><stop offset="0.725" stop-color="#0030ff"/><stop offset="1" stop-color="#0014ff"/></linearGradient><linearGradient id="c71" x1="0" y1="1" x2="0" y2="0"><stop offset="0" stop-color="#0043ff"/><stop offset="0.0375" stop-color="#004aff"/><stop offset="0.05625" stop-color="#0057ff"/><stop offset="0.08125" stop-color="#0074ff"/><stop offset="0.0875" stop-color="#0073ff"/><stop offset="0.1125" stop-color="#0054ff"/><stop offset="0.1375" stop-color="#0043ff"/><stop offset="0.1812" stop-color="#0038ff"/><stop offset="0.2687" stop-color="#0039ff"/><stop offset="0.2875" stop-color="#003eff"/><stop offset="0.3312" stop-color="#005aff"/><stop offset="0.3688" stop-color="#0074ff"/><stop offset="0.3875" stop-color="#0076ff"/><stop offset="0.4313" stop-color="#005aff"/><stop offset="0.4813" stop-color="#0053ff"/><stop offset="0.55" stop-color="#004aff"/><stop offset="0.75" stop-color="#0029ff"/><stop offset="1" stop-color="#0011ff"/></linearGradient><linearGradient id="c72" x1="0" y1="1" x2="0" y2="0"><stop offset="0" stop-color="#003aff"/><stop offset="0.0375" stop-color="#003fff"/><stop offset="0.06875" stop-color="#0051ff"/><stop offset="0.08125" stop-color="#0058ff"/><stop offset="0.1187" stop-color="#003dff"/><stop offset="0.1562" stop-color="#0032ff"/><stop offset="0.2437" stop-color="#002eff"/><stop offset="0.2875" stop-color="#0033ff"/><stop offset="0.3688" stop-color="#0059ff"/><stop offset="0.3875" stop-color="#005aff"/><stop offset="0.4375" stop-color="#004cff"/><stop offset="0.55" stop-color="#0042ff"/><stop offset="0.75" stop-color="#0023ff"/><stop offset="1" stop-color="#000fff"/></linearGradient><linearGradient id="c73" x1="0" y1="1" x2="0" y2="0"><stop offset="0" stop-color="#002fff"/><stop offset="0.05625" stop-color="#0034ff"/><stop offset="0.08125" stop-color="#0037ff"/><stop offset="0.1375" stop-color="#002bff"/><stop offset="0.2562" stop-color="#0026ff"/><stop offset="0.2938" stop-color="#002aff"/><stop offset="0.3812" stop-color="#0041ff"/><stop offset="0.525" stop-color="#003cff"/><stop offset="0.75" stop-color="#001dff"/><stop offset="1" stop-color="#000dfe"/></linearGradient><linearGradient id="c74" x1="0" y1="1" x2="0" y2="0"><stop offset="0" stop-color="#0024ff"/><stop offset="0.2812" stop-color="#001cff"/><stop offset="0.4188" stop-color="#0031ff"/><stop offset="0.55" stop-color="#002cff"/><stop offset="0.775" stop-color="#0014ff"/><stop offset="1" stop-color="#000afd"/></linearGradient><linearGradient id="c75" x1="0" y1="1" x2="0" y2="0"><stop offset="0" stop-color="#0018ff"/><stop offset="0.2875" stop-color="#0014ff"/><stop offset="0.425" stop-color="#0023ff"/><stop offset="0.55" stop-color="#001fff"/><stop offset="0.775" stop-color="#000efe"/><stop offset="1" stop-color="#0007fc"/></linearGradient><linearGradient id="c76" x1="0" y1="1" x2="0" y2="0"><stop offset="0" stop-color="#0012ff"/><stop offset="0.3" stop-color="#000fff"/><stop offset="0.4375" stop-color="#001aff"/><stop offset="0.6" stop-color="#0014ff"/><stop offset="0.875" stop-color="#0009fd"/><stop offset="1" stop-color="#0006fc"/></linearGradient><linearGradient id="c77" x1="0" y1="1" x2="0" y2="0"><stop offset="0" stop-color="#000dfe"/><stop offset="0.3125" stop-color="#000cfe"/><stop offset="0.4562" stop-color="#0011ff"/><stop offset="1" stop-color="#0004fb"/></linearGradient><linearGradient id="c78" x1="0" y1="1" x2="0" y2="0"><stop offset="0" stop-color="#0009fd"/><stop offset="0.3375" stop-color="#0009fd"/><stop offset="0.525" stop-color="#000bfd"/><stop offset="1" stop-color="#0003fb"/></linearGradient><linearGradient id="c79" x1="0" y1="1" x2="0" y2="0"><stop offset="0" stop-color="#0005fc"/><stop offset="0.3688" stop-color="#0006fc"/><stop offset="0.8" stop-color="#0003fb"/><stop offset="1" stop-color="#0001fa"/></linearGradient><linearGradient id="c80" x1="0" y1="1" x2="0" y2="0"><stop offset="0" stop-color="#0002fb"/><stop offset="0.85" stop-color="#0001fa"/><stop offset="1" stop-color="#0000f9"/></linearGradient><linearGradient id="c81" x1="0" y1="1" x2="0" y2="0"><stop offset="0" stop-color="#0001fa"/><stop offset="0.85" stop-color="#0000f8"/><stop offset="1" stop-color="#0000f5"/></linearGradient><linearGradient id="c82" x1="0" y1="1" x2="0" y2="0"><stop offset="0" stop-color="#0001fa"/><stop offset="0.85" stop-color="#0000f8"/><stop offset="1" stop-color="#0000f5"/></linearGradient><linearGradient id="c83" x1="0" y1="1" x2="0" y2="0"><stop offset="0" stop-color="#0001fa"/><stop offset="0.85" stop-color="#0000f8"/><stop offset="1" stop-color="#0000f5"/></linearGradient><linearGradient id="c84" x1="0" y1="1" x2="0" y2="0"><stop offset="0" stop-color="#0001fa"/><stop offset="0.85" stop-color="#0000f8"/><stop offset="1" stop-color="#0000f5"/></linearGradient><clipPath id="hc"><rect x="379.6" y="1074.1" width="983.6" height="984.6"/></clipPath><filter id="hb" x="-5%" y="-5%" width="110%" height="110%"><feGaussianBlur stdDeviation="7 0"/></filter></defs>
<g clip-path="url(#hc)"><g filter="url(#hb)"><rect x="367.6" y="1074.1" width="12.6" height="984.6" fill="url(#c0)"/><rect x="379.6" y="1074.1" width="12.6" height="984.6" fill="url(#c1)"/><rect x="391.6" y="1074.1" width="12.6" height="984.6" fill="url(#c2)"/><rect x="403.6" y="1074.1" width="12.6" height="984.6" fill="url(#c3)"/><rect x="415.6" y="1074.1" width="12.6" height="984.6" fill="url(#c4)"/><rect x="427.6" y="1074.1" width="12.6" height="984.6" fill="url(#c5)"/><rect x="439.6" y="1074.1" width="12.6" height="984.6" fill="url(#c6)"/><rect x="451.6" y="1074.1" width="12.6" height="984.6" fill="url(#c7)"/><rect x="463.6" y="1074.1" width="12.6" height="984.6" fill="url(#c8)"/><rect x="475.6" y="1074.1" width="12.6" height="984.6" fill="url(#c9)"/><rect x="487.6" y="1074.1" width="12.6" height="984.6" fill="url(#c10)"/><rect x="499.6" y="1074.1" width="12.6" height="984.6" fill="url(#c11)"/><rect x="511.6" y="1074.1" width="12.6" height="984.6" fill="url(#c12)"/><rect x="523.6" y="1074.1" width="12.6" height="984.6" fill="url(#c13)"/><rect x="535.6" y="1074.1" width="12.6" height="984.6" fill="url(#c14)"/><rect x="547.6" y="1074.1" width="12.6" height="984.6" fill="url(#c15)"/><rect x="559.6" y="1074.1" width="12.6" height="984.6" fill="url(#c16)"/><rect x="571.6" y="1074.1" width="12.6" height="984.6" fill="url(#c17)"/><rect x="583.6" y="1074.1" width="12.6" height="984.6" fill="url(#c18)"/><rect x="595.6" y="1074.1" width="12.6" height="984.6" fill="url(#c19)"/><rect x="607.6" y="1074.1" width="12.6" height="984.6" fill="url(#c20)"/><rect x="619.6" y="1074.1" width="12.6" height="984.6" fill="url(#c21)"/><rect x="631.6" y="1074.1" width="12.6" height="984.6" fill="url(#c22)"/><rect x="643.6" y="1074.1" width="12.6" height="984.6" fill="url(#c23)"/><rect x="655.6" y="1074.1" width="12.6" height="984.6" fill="url(#c24)"/><rect x="667.6" y="1074.1" width="12.6" height="984.6" fill="url(#c25)"/><rect x="679.6" y="1074.1" width="12.6" height="984.6" fill="url(#c26)"/><rect x="691.6" y="1074.1" width="12.6" height="984.6" fill="url(#c27)"/><rect x="703.6" y="1074.1" width="12.6" height="984.6" fill="url(#c28)"/><rect x="715.6" y="1074.1" width="12.6" height="984.6" fill="url(#c29)"/><rect x="727.6" y="1074.1" width="12.6" height="984.6" fill="url(#c30)"/><rect x="739.6" y="1074.1" width="12.6" height="984.6" fill="url(#c31)"/><rect x="751.6" y="1074.1" width="12.6" height="984.6" fill="url(#c32)"/><rect x="763.6" y="1074.1" width="12.6" height="984.6" fill="url(#c33)"/><rect x="775.6" y="1074.1" width="12.6" height="984.6" fill="url(#c34)"/><rect x="787.6" y="1074.1" width="12.6" height="984.6" fill="url(#c35)"/><rect x="799.6" y="1074.1" width="12.6" height="984.6" fill="url(#c36)"/><rect x="811.6" y="1074.1" width="12.6" height="984.6" fill="url(#c37)"/><rect x="823.6" y="1074.1" width="12.6" height="984.6" fill="url(#c38)"/><rect x="835.6" y="1074.1" width="12.6" height="984.6" fill="url(#c39)"/><rect x="847.6" y="1074.1" width="12.6" height="984.6" fill="url(#c40)"/><rect x="859.6" y="1074.1" width="12.6" height="984.6" fill="url(#c41)"/><rect x="871.6" y="1074.1" width="12.6" height="984.6" fill="url(#c42)"/><rect x="883.6" y="1074.1" width="12.6" height="984.6" fill="url(#c43)"/><rect x="895.6" y="1074.1" width="12.6" height="984.6" fill="url(#c44)"/><rect x="907.6" y="1074.1" width="12.6" height="984.6" fill="url(#c45)"/><rect x="919.6" y="1074.1" width="12.6" height="984.6" fill="url(#c46)"/><rect x="931.6" y="1074.1" width="12.6" height="984.6" fill="url(#c47)"/><rect x="943.6" y="1074.1" width="12.6" height="984.6" fill="url(#c48)"/><rect x="955.6" y="1074.1" width="12.6" height="984.6" fill="url(#c49)"/><rect x="967.6" y="1074.1" width="12.6" height="984.6" fill="url(#c50)"/><rect x="979.6" y="1074.1" width="12.6" height="984.6" fill="url(#c51)"/><rect x="991.6" y="1074.1" width="12.6" height="984.6" fill="url(#c52)"/><rect x="1003.6" y="1074.1" width="12.6" height="984.6" fill="url(#c53)"/><rect x="1015.6" y="1074.1" width="12.6" height="984.6" fill="url(#c54)"/><rect x="1027.6" y="1074.1" width="12.6" height="984.6" fill="url(#c55)"/><rect x="1039.6" y="1074.1" width="12.6" height="984.6" fill="url(#c56)"/><rect x="1051.6" y="1074.1" width="12.6" height="984.6" fill="url(#c57)"/><rect x="1063.6" y="1074.1" width="12.6" height="984.6" fill="url(#c58)"/><rect x="1075.6" y="1074.1" width="12.6" height="984.6" fill="url(#c59)"/><rect x="1087.6" y="1074.1" width="12.6" height="984.6" fill="url(#c60)"/><rect x="1099.6" y="1074.1" width="12.6" height="984.6" fill="url(#c61)"/><rect x="1111.6" y="1074.1" width="12.6" height="984.6" fill="url(#c62)"/><rect x="1123.6" y="1074.1" width="12.6" height="984.6" fill="url(#c63)"/><rect x="1135.6" y="1074.1" width="12.6" height="984.6" fill="url(#c64)"/><rect x="1147.6" y="1074.1" width="12.6" height="984.6" fill="url(#c65)"/><rect x="1159.6" y="1074.1" width="12.6" height="984.6" fill="url(#c66)"/><rect x="1171.6" y="1074.1" width="12.6" height="984.6" fill="url(#c67)"/><rect x="1183.6" y="1074.1" width="12.6" height="984.6" fill="url(#c68)"/><rect x="1195.6" y="1074.1" width="12.6" height="984.6" fill="url(#c69)"/><rect x="1207.6" y="1074.1" width="12.6" height="984.6" fill="url(#c70)"/><rect x="1219.6" y="1074.1" width="12.6" height="984.6" fill="url(#c71)"/><rect x="1231.6" y="1074.1" width="12.6" height="984.6" fill="url(#c72)"/><rect x="1243.6" y="1074.1" width="12.6" height="984.6" fill="url(#c73)"/><rect x="1255.6" y="1074.1" width="12.6" height="984.6" fill="url(#c74)"/><rect x="1267.6" y="1074.1" width="12.6" height="984.6" fill="url(#c75)"/><rect x="1279.6" y="1074.1" width="12.6" height="984.6" fill="url(#c76)"/><rect x="1291.6" y="1074.1" width="12.6" height="984.6" fill="url(#c77)"/><rect x="1303.6" y="1074.1" width="12.6" height="984.6" fill="url(#c78)"/><rect x="1315.6" y="1074.1" width="12.6" height="984.6" fill="url(#c79)"/><rect x="1327.6" y="1074.1" width="12.6" height="984.6" fill="url(#c80)"/><rect x="1339.6" y="1074.1" width="12.6" height="984.6" fill="url(#c81)"/><rect x="1351.6" y="1074.1" width="12.6" height="984.6" fill="url(#c82)"/><rect x="1363.6" y="1074.1" width="12.6" height="984.6" fill="url(#c83)"/><rect x="1375.6" y="1074.1" width="12.6" height="984.6" fill="url(#c84)"/></g></g>
<g clip-path="url(#hc)" fill="none" stroke="#1fe2f6" stroke-width="2.9" stroke-dasharray="9 6">
<path d="M379.6 1365.0L483.0 1371.0L584.0 1374.5L645.0 1363.0L710.6 1330.0L785.9 1267.0L850.3 1190.0L893.3 1115.8L923.4 1075.0"/>
<path d="M379.6 1467.0L432.7 1479.6L533.7 1489.7L624.7 1487.2L685.3 1469.5L755.8 1399.3L828.9 1334.9L893.3 1274.8L957.7 1223.2L1022.2 1176.0L1086.6 1135.2L1129.6 1120.1L1159.6 1115.0L1172.5 1145.9L1194.0 1197.5L1211.2 1261.9L1228.4 1317.7L1245.5 1369.3L1262.7 1425.1L1275.6 1489.6L1278.2 1530.5L1288.3 1576.0L1287.0 1606.3L1295.9 1636.7L1293.3 1677.1L1300.9 1707.4L1298.4 1745.3L1303.4 1800.0L1300.0 1850.0L1306.0 1900.0L1303.0 1950.0L1308.0 2000.0L1306.0 2058.0"/>
<path d="M379.6 1535.8L413.0 1557.0L477.4 1572.0L541.8 1581.0L627.7 1572.0L713.6 1570.0L735.0 1553.0L785.9 1498.1L850.3 1438.0L906.2 1386.5L957.7 1360.7L996.4 1328.5L1039.3 1329.8L1078.0 1317.7L1084.5 1326.3L1090.9 1369.3L1099.5 1403.6L1103.8 1446.6L1098.8 1480.0L1096.2 1530.5L1091.2 1568.4L1073.5 1578.5L1068.4 1601.3L1065.9 1636.7L1081.0 1646.8L1116.4 1653.0L1124.0 1641.7L1167.0 1624.0L1169.5 1588.7L1167.0 1578.5L1187.2 1563.4L1197.3 1533.0L1240.3 1539.4L1250.4 1571.0L1256.7 1601.3L1268.0 1631.6L1270.6 1667.0L1275.6 1702.4L1273.1 1737.7L1279.4 1770.6L1278.2 1800.0L1282.0 1850.0L1279.0 1900.0L1284.0 1950.0L1281.0 2000.0L1284.0 2058.0"/>
<path d="M1230.5 1075.0L1249.8 1128.7L1279.9 1184.6L1288.5 1240.4L1297.0 1300.5L1305.7 1360.7L1312.1 1425.1L1317.3 1480.0L1318.6 1555.8L1323.6 1593.7L1321.1 1644.2L1328.7 1687.2L1323.6 1732.7L1330.0 1800.0L1327.0 1850.0L1333.0 1900.0L1330.0 1950.0L1335.0 2000.0L1333.0 2058.0"/>
<path d="M379.6 1568.0L456.0 1585.0L541.8 1597.0L602.0 1602.0L615.0 1604.0L541.8 1608.9L456.0 1604.6L379.6 1593.8"/>
<path d="M379.6 1594.0L456.0 1612.0L541.8 1628.0L627.7 1633.8L713.6 1628.0L773.8 1626.0L784.5 1613.0L778.0 1600.0L752.3 1587.4L756.6 1578.8L791.0 1570.0L842.5 1576.6L868.3 1583.0L928.4 1581.0L971.4 1570.0L980.0 1544.0L992.9 1497.0L1005.7 1531.5L1014.3 1561.6L1005.7 1578.8L949.9 1600.0L881.2 1615.0L907.0 1621.7L988.5 1628.0L984.3 1643.0L997.0 1664.7L967.0 1677.6L971.4 1694.8L950.0 1737.7L941.3 1742.0L954.2 1759.0L1005.7 1737.7L1043.2 1707.4L1073.5 1694.8L1088.7 1674.6L1119.0 1662.0L1141.7 1646.8L1182.1 1629.0L1220.0 1617.7L1240.3 1631.6L1245.3 1656.9L1252.0 1700.0L1256.0 1760.0L1258.0 1800.0"/>
<path d="M846.8 1566.0L872.6 1555.0L881.0 1566.0L868.0 1572.0L846.8 1566.0"/>
<path d="M821.0 1641.0L868.3 1630.0L896.2 1641.0L877.0 1658.0L821.0 1641.0"/>
<path d="M1027.0 1699.0L1040.0 1688.0L1048.7 1694.8L1035.8 1705.5L1027.0 1699.0"/>
<path d="M979.2 1560.0L994.2 1498.0L1013.6 1549.7"/>
</g>
<path d="M1241.5 1432.3L1251.1 1074.1" stroke="#e8e48c" stroke-width="2.6" fill="none"/>
<path d="M1236.2 2047.7L1236.2 2008.2M1238.3 1986.4L1246.3 1946.4M1249.0 1924.6L1256.2 1762.0M1256.1 1740.0L1242.1 1454.3" stroke="#e8e48c" stroke-width="2.6" fill="none"/>
<path d="M393.4 2007.4L447.7 1999.2M475.6 1997.2L529.5 1997.2M557.4 1999.2L611.7 2007.4M639.4 2007.4L693.6 1999.2M717.9 1987.8L779.0 1932.7M795.8 1910.9L865.0 1775.8M879.7 1752.1L904.1 1719.2M918.8 1695.5L947.0 1640.4M961.2 1616.3L986.6 1578.0M1002.1 1554.7L1027.6 1516.5M1041.0 1492.0L1070.7 1425.3M1079.4 1398.9L1114.3 1241.6M1123.0 1215.1L1152.6 1148.4M1169.5 1127.2L1188.1 1113.2M1209.0 1115.0L1230.6 1137.8" stroke="#c83ce6" stroke-width="2.8" fill="none"/>
<path d="M761.9 1968.5L776.0 1964.3M802.2 1954.5L858.7 1929.1M883.4 1916.1L900.4 1905.9M925.8 1894.7L940.0 1890.4M966.8 1882.4L981.0 1878.1M1008.4 1874.1L1021.4 1874.1M1048.8 1878.1L1062.9 1882.4M1089.8 1890.4L1103.9 1894.7M1130.7 1902.7L1144.9 1907.0M1168.7 1920.4L1188.9 1938.6M1212.7 1952.0L1226.9 1956.2" stroke="#e01070" stroke-width="2.8" fill="none"/>
<path d="M1004.8 1864.7L1025.0 1846.5M1047.4 1829.9L1064.3 1819.7M1088.3 1805.3L1105.3 1795.1M1131.3 1787.9L1144.3 1787.9M1170.3 1795.1L1187.3 1805.3M1211.3 1819.7L1228.3 1829.9" stroke="#f09048" stroke-width="2.8" fill="none"/>
<path d="M819.0 1893.8L858.3 1879.0M883.4 1866.9L900.4 1856.7M924.4 1842.3L941.4 1832.1M963.8 1815.5L984.0 1797.3M1006.4 1780.7L1023.4 1770.5M1045.8 1753.9L1065.9 1735.8M1086.7 1717.0L1106.9 1698.8M1129.3 1682.3L1146.3 1672.1M1172.3 1664.8L1185.3 1664.8M1211.3 1672.1L1228.3 1682.3" stroke="#7ec8f8" stroke-width="2.8" fill="none"/>
<g clip-path="url(#hc2)">
<rect x="370.1" y="2000.0" width="19" height="19" fill="#d028e8" stroke="#f3d8f8" stroke-width="1.3"/>
<rect x="452.1" y="1987.7" width="19" height="19" fill="#d028e8" stroke="#f3d8f8" stroke-width="1.3"/>
<rect x="534.0" y="1987.7" width="19" height="19" fill="#d028e8" stroke="#f3d8f8" stroke-width="1.3"/>
<rect x="616.0" y="2000.0" width="19" height="19" fill="#d028e8" stroke="#f3d8f8" stroke-width="1.3"/>
<rect x="698.0" y="1987.7" width="19" height="19" fill="#d028e8" stroke="#f3d8f8" stroke-width="1.3"/>
<rect x="780.0" y="1913.8" width="19" height="19" fill="#d028e8" stroke="#f3d8f8" stroke-width="1.3"/>
<rect x="861.9" y="1753.8" width="19" height="19" fill="#d028e8" stroke="#f3d8f8" stroke-width="1.3"/>
<rect x="902.9" y="1698.4" width="19" height="19" fill="#d028e8" stroke="#f3d8f8" stroke-width="1.3"/>
<rect x="943.9" y="1618.4" width="19" height="19" fill="#d028e8" stroke="#f3d8f8" stroke-width="1.3"/>
<rect x="984.9" y="1556.9" width="19" height="19" fill="#d028e8" stroke="#f3d8f8" stroke-width="1.3"/>
<rect x="1025.9" y="1495.3" width="19" height="19" fill="#d028e8" stroke="#f3d8f8" stroke-width="1.3"/>
<rect x="1066.8" y="1403.0" width="19" height="19" fill="#d028e8" stroke="#f3d8f8" stroke-width="1.3"/>
<rect x="1107.8" y="1218.4" width="19" height="19" fill="#d028e8" stroke="#f3d8f8" stroke-width="1.3"/>
<rect x="1148.8" y="1126.1" width="19" height="19" fill="#d028e8" stroke="#f3d8f8" stroke-width="1.3"/>
<rect x="1189.8" y="1095.3" width="19" height="19" fill="#d028e8" stroke="#f3d8f8" stroke-width="1.3"/>
<rect x="1230.8" y="1138.4" width="19" height="19" fill="#d028e8" stroke="#f3d8f8" stroke-width="1.3"/>
<path d="M748.5 1959.0L761.5 1981.5L735.5 1981.5Z" fill="#fa0078" stroke="#fde" stroke-width="1.3"/>
<path d="M789.5 1946.7L802.5 1969.2L776.5 1969.2Z" fill="#fa0078" stroke="#fde" stroke-width="1.3"/>
<path d="M871.4 1909.8L884.4 1932.3L858.4 1932.3Z" fill="#fa0078" stroke="#fde" stroke-width="1.3"/>
<path d="M912.4 1885.2L925.4 1907.7L899.4 1907.7Z" fill="#fa0078" stroke="#fde" stroke-width="1.3"/>
<path d="M953.4 1872.9L966.4 1895.4L940.4 1895.4Z" fill="#fa0078" stroke="#fde" stroke-width="1.3"/>
<path d="M994.4 1860.6L1007.4 1883.1L981.4 1883.1Z" fill="#fa0078" stroke="#fde" stroke-width="1.3"/>
<path d="M1035.4 1860.6L1048.4 1883.1L1022.4 1883.1Z" fill="#fa0078" stroke="#fde" stroke-width="1.3"/>
<path d="M1076.3 1872.9L1089.3 1895.4L1063.3 1895.4Z" fill="#fa0078" stroke="#fde" stroke-width="1.3"/>
<path d="M1117.3 1885.2L1130.3 1907.7L1104.3 1907.7Z" fill="#fa0078" stroke="#fde" stroke-width="1.3"/>
<path d="M1158.3 1897.5L1171.3 1920.0L1145.3 1920.0Z" fill="#fa0078" stroke="#fde" stroke-width="1.3"/>
<path d="M1199.3 1934.4L1212.3 1956.9L1186.3 1956.9Z" fill="#fa0078" stroke="#fde" stroke-width="1.3"/>
<path d="M1240.3 1946.7L1253.3 1969.2L1227.3 1969.2Z" fill="#fa0078" stroke="#fde" stroke-width="1.3"/>
<circle cx="994.4" cy="1874.1" r="10.6" fill="#f08a28" stroke="#fff" stroke-width="1.3"/>
<circle cx="1035.4" cy="1837.2" r="10.6" fill="#f08a28" stroke="#fff" stroke-width="1.3"/>
<circle cx="1076.3" cy="1812.5" r="10.6" fill="#f08a28" stroke="#fff" stroke-width="1.3"/>
<circle cx="1117.3" cy="1787.9" r="10.6" fill="#f08a28" stroke="#fff" stroke-width="1.3"/>
<circle cx="1158.3" cy="1787.9" r="10.6" fill="#f08a28" stroke="#fff" stroke-width="1.3"/>
<circle cx="1199.3" cy="1812.5" r="10.6" fill="#f08a28" stroke="#fff" stroke-width="1.3"/>
<circle cx="1240.3" cy="1837.2" r="10.6" fill="#f08a28" stroke="#fff" stroke-width="1.3"/>
<circle cx="805.8" cy="1898.7" r="10.6" fill="#5ab4fa" stroke="#fff" stroke-width="1.3"/>
<circle cx="871.4" cy="1874.1" r="10.6" fill="#5ab4fa" stroke="#fff" stroke-width="1.3"/>
<circle cx="912.4" cy="1849.5" r="10.6" fill="#5ab4fa" stroke="#fff" stroke-width="1.3"/>
<circle cx="953.4" cy="1824.8" r="10.6" fill="#5ab4fa" stroke="#fff" stroke-width="1.3"/>
<circle cx="994.4" cy="1787.9" r="10.6" fill="#5ab4fa" stroke="#fff" stroke-width="1.3"/>
<circle cx="1035.4" cy="1763.3" r="10.6" fill="#5ab4fa" stroke="#fff" stroke-width="1.3"/>
<circle cx="1076.3" cy="1726.4" r="10.6" fill="#5ab4fa" stroke="#fff" stroke-width="1.3"/>
<circle cx="1117.3" cy="1689.5" r="10.6" fill="#5ab4fa" stroke="#fff" stroke-width="1.3"/>
<circle cx="1158.3" cy="1664.8" r="10.6" fill="#5ab4fa" stroke="#fff" stroke-width="1.3"/>
<circle cx="1199.3" cy="1664.8" r="10.6" fill="#5ab4fa" stroke="#fff" stroke-width="1.3"/>
<circle cx="1240.3" cy="1689.5" r="10.6" fill="#5ab4fa" stroke="#fff" stroke-width="1.3"/>
<circle cx="1250.1" cy="1701.8" r="10.6" fill="#5ab4fa" stroke="#fff" stroke-width="1.3"/>
</g>
<circle cx="1236.2" cy="2058.7" r="10.6" fill="#efe95a" stroke="#fffbd0" stroke-width="1.3"/>
<circle cx="1236.2" cy="1997.2" r="10.6" fill="#efe95a" stroke="#fffbd0" stroke-width="1.3"/>
<circle cx="1248.5" cy="1935.6" r="10.6" fill="#efe95a" stroke="#fffbd0" stroke-width="1.3"/>
<circle cx="1256.7" cy="1751.0" r="10.6" fill="#efe95a" stroke="#fffbd0" stroke-width="1.3"/>
<circle cx="1241.5" cy="1443.3" r="10.6" fill="#efe95a" stroke="#fffbd0" stroke-width="1.3"/>
<path d="M379.6 1074.1H1363.2V2058.7" stroke="#000" stroke-width="2.2" fill="none"/>
<path d="M380.2 1073.1V2059.1H1364.2M379.6 1935.6H363.1M379.6 1812.5H363.1M379.6 1689.5H363.1M379.6 1566.4H363.1M379.6 1443.3H363.1M379.6 1320.2H363.1M379.6 1197.1H363.1M379.6 1997.2H371.1M379.6 1874.1H371.1M379.6 1751.0H371.1M379.6 1627.9H371.1M379.6 1504.8H371.1M379.6 1381.8H371.1M379.6 1258.7H371.1M379.6 1135.6H371.1M543.5 2058.7V2076.7M707.5 2058.7V2076.7M871.4 2058.7V2076.7M1035.4 2058.7V2076.7M1199.3 2058.7V2076.7M461.6 2058.7V2068.2M625.5 2058.7V2068.2M789.5 2058.7V2068.2M953.4 2058.7V2068.2M1117.3 2058.7V2068.2M1281.3 2058.7V2068.2" stroke="#000" stroke-width="3.2" fill="none"/>
<text x="349" y="2081.5" font-size="60.0" text-anchor="end">0</text>
<text x="349" y="1955.8" font-size="60.0" text-anchor="end">20</text>
<text x="349" y="1832.7" font-size="60.0" text-anchor="end">40</text>
<text x="349" y="1709.7" font-size="60.0" text-anchor="end">60</text>
<text x="349" y="1586.6" font-size="60.0" text-anchor="end">80</text>
<text x="349" y="1463.5" font-size="60.0" text-anchor="end">100</text>
<text x="349" y="1340.4" font-size="60.0" text-anchor="end">120</text>
<text x="349" y="1217.3" font-size="60.0" text-anchor="end">140</text>
<text x="349" y="1094.3" font-size="60.0" text-anchor="end">160</text>
<text x="379.6" y="2129.5" font-size="60.0" text-anchor="middle">2</text>
<text x="543.5" y="2129.5" font-size="60.0" text-anchor="middle">4</text>
<text x="707.5" y="2129.5" font-size="60.0" text-anchor="middle">6</text>
<text x="871.4" y="2129.5" font-size="60.0" text-anchor="middle">8</text>
<text x="1035.4" y="2129.5" font-size="60.0" text-anchor="middle">10</text>
<text x="1199.3" y="2129.5" font-size="60.0" text-anchor="middle">12</text>
<text x="1363.2" y="2129.5" font-size="60.0" text-anchor="middle">14</text>
<text x="871" y="2201" font-size="60.0" text-anchor="middle"><tspan font-style="italic">T</tspan> (K)</text>
<text transform="translate(231.5,1563.5) rotate(-90)" font-size="60.0" text-anchor="middle"><tspan font-style="italic">H</tspan> (mT)</text>
<defs><linearGradient id="cbg" x1="0" y1="1" x2="0" y2="0"><stop offset="0.0051" stop-color="#0000c5"/><stop offset="0.0176" stop-color="#0003fb"/><stop offset="0.0301" stop-color="#000dfe"/><stop offset="0.0426" stop-color="#001aff"/><stop offset="0.0552" stop-color="#0028ff"/><stop offset="0.0677" stop-color="#0036ff"/><stop offset="0.0802" stop-color="#0044ff"/><stop offset="0.0927" stop-color="#0051ff"/><stop offset="0.1052" stop-color="#005eff"/><stop offset="0.1177" stop-color="#006bff"/><stop offset="0.1303" stop-color="#0077ff"/><stop offset="0.1428" stop-color="#0084ff"/><stop offset="0.1553" stop-color="#0091ff"/><stop offset="0.1678" stop-color="#009dff"/><stop offset="0.1803" stop-color="#00a9ff"/><stop offset="0.1929" stop-color="#00b6ff"/><stop offset="0.2054" stop-color="#00c2ff"/><stop offset="0.2179" stop-color="#00ceff"/><stop offset="0.2304" stop-color="#00daff"/><stop offset="0.2429" stop-color="#00e7ff"/><stop offset="0.2555" stop-color="#00f3ff"/><stop offset="0.2680" stop-color="#00ffff"/><stop offset="0.2805" stop-color="#00ffed"/><stop offset="0.2930" stop-color="#00ffdb"/><stop offset="0.3055" stop-color="#00ffc9"/><stop offset="0.3181" stop-color="#00ffb6"/><stop offset="0.3306" stop-color="#00ffa4"/><stop offset="0.3431" stop-color="#00ff92"/><stop offset="0.3556" stop-color="#00fe80"/><stop offset="0.3681" stop-color="#00fc6e"/><stop offset="0.3806" stop-color="#00fb5c"/><stop offset="0.3932" stop-color="#00fa4a"/><stop offset="0.4057" stop-color="#00f838"/><stop offset="0.4182" stop-color="#00f626"/><stop offset="0.4307" stop-color="#00f514"/><stop offset="0.4432" stop-color="#04f410"/><stop offset="0.4558" stop-color="#07f30d"/><stop offset="0.4683" stop-color="#0bf209"/><stop offset="0.4808" stop-color="#0ef106"/><stop offset="0.4933" stop-color="#12f102"/><stop offset="0.5058" stop-color="#19f100"/><stop offset="0.5184" stop-color="#26f200"/><stop offset="0.5309" stop-color="#34f400"/><stop offset="0.5434" stop-color="#42f600"/><stop offset="0.5559" stop-color="#50f800"/><stop offset="0.5684" stop-color="#5ef900"/><stop offset="0.5810" stop-color="#6cfa00"/><stop offset="0.5935" stop-color="#7afa00"/><stop offset="0.6060" stop-color="#88fb00"/><stop offset="0.6185" stop-color="#96fc00"/><stop offset="0.6310" stop-color="#a0fc00"/><stop offset="0.6435" stop-color="#abfd00"/><stop offset="0.6561" stop-color="#b6fd00"/><stop offset="0.6686" stop-color="#c0fd00"/><stop offset="0.6811" stop-color="#cafe00"/><stop offset="0.6936" stop-color="#d5fe00"/><stop offset="0.7061" stop-color="#e0fe00"/><stop offset="0.7187" stop-color="#eafe00"/><stop offset="0.7312" stop-color="#f4ff00"/><stop offset="0.7437" stop-color="#ffff00"/><stop offset="0.7562" stop-color="#fff200"/><stop offset="0.7687" stop-color="#ffe600"/><stop offset="0.7813" stop-color="#ffd900"/><stop offset="0.7938" stop-color="#ffcd00"/><stop offset="0.8063" stop-color="#ffc000"/><stop offset="0.8188" stop-color="#ffb300"/><stop offset="0.8313" stop-color="#ffa700"/><stop offset="0.8439" stop-color="#ff9a00"/><stop offset="0.8564" stop-color="#ff8a00"/><stop offset="0.8689" stop-color="#ff7900"/><stop offset="0.8814" stop-color="#ff6800"/><stop offset="0.8939" stop-color="#ff5600"/><stop offset="0.9065" stop-color="#ff4500"/><stop offset="0.9190" stop-color="#ff3400"/><stop offset="0.9315" stop-color="#fe2300"/><stop offset="0.9440" stop-color="#fc1400"/><stop offset="0.9565" stop-color="#fb0500"/><stop offset="0.9690" stop-color="#ec0000"/><stop offset="0.9816" stop-color="#d60000"/><stop offset="0.9941" stop-color="#c00000"/></linearGradient></defs>
<rect x="449.8" y="1098.0" width="21.8" height="497.0" fill="url(#cbg)" stroke="#e8e8ff" stroke-width="1"/>
<rect x="450.3" y="1589.5" width="20.8" height="5.2" fill="#000"/>
<path d="M471.6 1495.0H491.6M471.6 1391.3H491.6M471.6 1287.6H491.6M471.6 1183.9H491.6" stroke="#dfe4ff" stroke-width="1.4" fill="none"/>
<text transform="translate(522.7,1495.2) rotate(-90)" font-size="39" fill="#fff" text-anchor="middle">50.0</text>
<text transform="translate(522.7,1391.5) rotate(-90)" font-size="39" fill="#fff" text-anchor="middle">100.0</text>
<text transform="translate(522.7,1287.8) rotate(-90)" font-size="39" fill="#fff" text-anchor="middle">150.0</text>
<text transform="translate(522.7,1184.1) rotate(-90)" font-size="39" fill="#fff" text-anchor="middle">200.0</text>
<text transform="translate(430.5,1596) rotate(-90)" font-size="45" fill="#fff">Susceptibility (emu·g<tspan font-size="26" dy="-17">−1</tspan><tspan dy="17">·T</tspan><tspan font-size="26" dy="-17">−1</tspan><tspan dy="17">)</tspan></text>
<path d="M557 1138H678" stroke="#e8e48c" stroke-width="2.6"/>
<circle cx="617.0" cy="1138.0" r="10.6" fill="#efe95a" stroke="#fff" stroke-width="1.3"/>
<text x="697" y="1159" font-size="60" fill="#e6e65a"><tspan font-style="italic">T</tspan><tspan font-size="38" dy="14">C</tspan></text>
<path d="M557 1217H678" stroke="#c83ce6" stroke-width="2.6"/>
<rect x="607.5" y="1207.5" width="19" height="19" fill="#d028e8" stroke="#f3d8f8" stroke-width="1.3"/>
<text x="692" y="1238" font-size="60" fill="#c83ce6"><tspan font-style="italic">H</tspan><tspan font-size="38" dy="14">4</tspan></text>
<path d="M557 1295H678" stroke="#7ec8f8" stroke-width="2.6"/>
<circle cx="617.0" cy="1295.0" r="10.6" fill="#5ab4fa" stroke="#fff" stroke-width="1.3"/>
<text x="692" y="1316" font-size="60" fill="#5ab4fa"><tspan font-style="italic">H</tspan><tspan font-size="38" dy="14">3</tspan></text>
<path d="M557 1374H678" stroke="#f09048" stroke-width="2.6"/>
<circle cx="617.0" cy="1374.0" r="10.6" fill="#f08a28" stroke="#fff" stroke-width="1.3"/>
<text x="692" y="1395" font-size="60" fill="#f08a28"><tspan font-style="italic">H</tspan><tspan font-size="38" dy="14">2</tspan></text>
<path d="M557 1452H678" stroke="#e01070" stroke-width="2.6"/>
<path d="M617.0 1438.5L630.0 1461.0L604.0 1461.0Z" fill="#fa0078" stroke="#fde" stroke-width="1.3"/>
<text x="692" y="1473" font-size="60" fill="#fa0078"><tspan font-style="italic">H</tspan><tspan font-size="38" dy="14">1</tspan></text>
<text x="861" y="1161" font-size="60" fill="#fff"><tspan font-style="italic">H</tspan>//[111]</text>
<text x="555" y="1693" font-size="52" fill="#fff">FFM</text>
<text x="990" y="1625" font-size="52" fill="#fff">Skyrmions*</text>
<text x="1281" y="1494" font-size="52" fill="#fff">PM</text>
<text x="1267" y="1375" font-size="52" fill="#ffdc3c">2nd</text>
<path d="M1284.2 1384.3L1262 1412.5" stroke="#ff0" stroke-width="3" fill="none"/><path d="M1252 1425.1L1258.5 1400.5L1274.5 1413.5Z" fill="#ff0"/>
<text x="762" y="2030" font-size="52">Cycloidal</text>
<text x="464" y="2052" font-size="52">CSG?</text>
<text transform="translate(1061.6,1775.6) rotate(-34.5)" y="12" text-anchor="middle" font-size="52.5">Cycloidal*</text>
<text transform="translate(1152.9,1883.2) rotate(19.1)" y="10" text-anchor="middle" font-size="44.5" fill="#fff">Skyrmions</text>
</g>
</svg></body></html>
